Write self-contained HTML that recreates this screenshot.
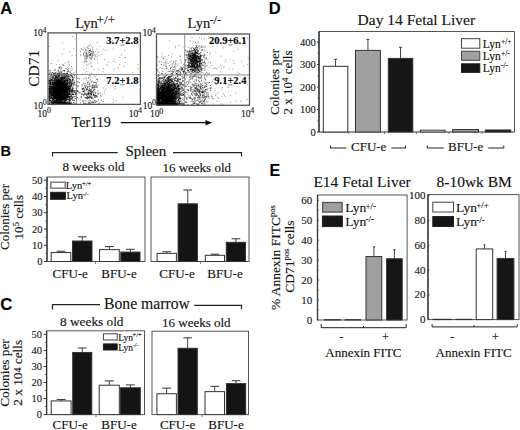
<!DOCTYPE html>
<html><head><meta charset="utf-8"><style>
html,body{margin:0;padding:0;background:#fff;width:520px;height:430px;overflow:hidden}
svg{display:block}
text{stroke:#222;stroke-width:0.15px}
</style></head><body>
<svg width="520" height="430" viewBox="0 0 520 430">
<rect width="520" height="430" fill="#fff"/>
<text x="0.3" y="13.6" font-size="16.5" text-anchor="start" font-weight="bold" font-family='"Liberation Sans", sans-serif' fill="#000" >A</text>
<text x="0.5" y="156.3" font-size="14.5" text-anchor="start" font-weight="bold" font-family='"Liberation Sans", sans-serif' fill="#000" >B</text>
<text x="0.2" y="310.2" font-size="16.8" text-anchor="start" font-weight="bold" font-family='"Liberation Sans", sans-serif' fill="#000" >C</text>
<text x="268.8" y="14.4" font-size="16.5" text-anchor="start" font-weight="bold" font-family='"Liberation Sans", sans-serif' fill="#000" >D</text>
<text x="269.4" y="176.3" font-size="16" text-anchor="start" font-weight="bold" font-family='"Liberation Sans", sans-serif' fill="#000" >E</text>
<path d="M60.0 93.1h1.0M61.8 95.5h1.0M58.4 94.5h1.0M54.7 82.6h1.0M57.3 98.5h1.0M54.1 85.1h1.0M60.4 82.5h1.0M68.0 86.4h1.0M57.0 90.2h1.0M56.3 96.4h1.0M62.9 95.7h1.0M62.1 90.8h1.0M60.6 98.0h1.0M54.4 91.6h1.0M59.8 97.7h1.0M64.2 80.5h1.0M51.9 79.2h1.0M57.3 96.8h1.0M48.6 80.6h1.0M52.3 88.7h1.0M48.9 90.3h1.0M58.6 87.3h1.0M52.4 87.6h1.0M61.6 101.4h1.0M60.9 72.0h1.0M58.9 97.6h1.0M48.8 102.9h1.0M56.8 91.2h1.0M59.7 90.9h1.0M60.7 96.4h1.0M50.8 102.8h1.0M57.1 82.1h1.0M54.1 91.7h1.0M55.1 89.6h1.0M66.4 95.2h1.0M55.2 92.2h1.0M59.8 95.9h1.0M65.3 87.8h1.0M56.5 91.4h1.0M59.3 86.0h1.0M60.7 86.0h1.0M60.4 89.9h1.0M52.6 89.9h1.0M60.5 82.2h1.0M68.2 102.8h1.0M50.7 90.0h1.0M65.2 80.6h1.0M60.7 99.3h1.0M56.2 85.4h1.0M72.0 94.8h1.0M64.6 90.9h1.0M52.8 92.9h1.0M60.4 92.3h1.0M63.5 86.7h1.0M58.9 91.3h1.0M64.1 103.4h1.0M59.6 74.2h1.0M64.0 91.5h1.0M68.6 94.3h1.0M55.9 83.1h1.0M61.2 80.7h1.0M57.2 102.5h1.0M60.8 88.2h1.0M52.9 103.1h1.0M56.5 95.0h1.0M58.8 91.6h1.0M65.4 94.6h1.0M66.9 95.8h1.0M52.1 99.8h1.0M55.2 94.3h1.0M63.9 92.1h1.0M49.3 92.3h1.0M57.2 101.1h1.0M59.4 97.1h1.0M67.5 83.5h1.0M64.1 86.2h1.0M58.0 93.5h1.0M57.8 86.3h1.0M58.5 88.2h1.0M69.1 83.8h1.0M57.4 89.0h1.0M58.2 94.2h1.0M62.1 98.5h1.0M59.3 91.1h1.0M58.8 103.3h1.0M53.3 90.4h1.0M59.9 103.3h1.0M57.3 98.5h1.0M67.0 94.7h1.0M63.9 87.3h1.0M59.9 69.8h1.0M64.0 89.8h1.0M58.0 92.3h1.0M66.3 103.4h1.0M60.0 80.7h1.0M63.5 102.7h1.0M52.3 89.1h1.0M62.1 96.4h1.0M49.9 72.0h1.0M49.2 92.0h1.0M58.2 88.4h1.0M54.6 96.1h1.0M61.0 91.7h1.0M73.5 82.4h1.0M55.0 98.1h1.0M56.3 96.2h1.0M61.2 95.5h1.0M63.0 98.6h1.0M58.9 99.3h1.0M58.8 90.8h1.0M64.2 80.8h1.0M63.1 80.6h1.0M53.8 101.1h1.0M59.5 96.3h1.0M60.2 91.8h1.0M53.7 87.7h1.0M61.6 91.2h1.0M54.9 91.2h1.0M65.8 88.5h1.0M61.2 85.8h1.0M60.5 103.6h1.0M56.5 92.7h1.0M59.3 86.5h1.0M49.2 81.2h1.0M53.2 85.6h1.0M62.2 96.4h1.0M49.9 96.7h1.0M65.1 89.4h1.0M49.5 91.4h1.0M64.5 88.7h1.0M54.9 82.7h1.0M64.7 100.8h1.0M60.8 93.8h1.0M50.8 102.9h1.0M67.5 85.3h1.0M68.7 90.0h1.0M59.6 97.6h1.0M58.4 89.2h1.0M59.0 80.6h1.0M54.1 83.9h1.0M66.6 91.8h1.0M56.7 93.6h1.0M59.7 90.3h1.0M55.2 98.5h1.0M56.2 98.4h1.0M52.3 93.4h1.0M67.5 91.2h1.0M59.1 89.1h1.0M65.8 95.1h1.0M60.1 97.9h1.0M55.8 91.5h1.0M58.0 94.4h1.0M56.6 88.6h1.0M60.0 80.4h1.0M57.7 83.5h1.0M58.2 96.7h1.0M51.7 94.4h1.0M55.2 102.9h1.0M69.9 91.4h1.0M56.0 97.5h1.0M53.7 100.9h1.0M62.0 98.5h1.0M68.4 86.4h1.0M51.3 89.6h1.0M58.7 92.0h1.0M56.2 83.6h1.0M49.4 94.6h1.0M64.4 98.7h1.0M59.9 87.4h1.0M60.4 103.7h1.0M55.5 88.8h1.0M62.7 89.5h1.0M56.8 89.2h1.0M59.1 85.7h1.0M53.4 94.1h1.0M52.7 91.2h1.0M68.0 103.5h1.0M57.0 95.6h1.0M61.8 95.0h1.0M59.8 89.3h1.0M57.4 80.4h1.0M57.0 90.3h1.0M63.8 84.6h1.0M58.2 98.1h1.0M59.1 90.8h1.0M60.1 103.5h1.0M67.1 96.5h1.0M64.1 97.3h1.0M62.3 92.7h1.0M56.6 92.6h1.0M51.7 95.9h1.0M65.7 97.9h1.0M65.8 85.7h1.0M59.2 94.7h1.0M63.3 103.3h1.0M64.7 90.3h1.0M65.0 89.1h1.0M65.5 85.8h1.0M57.3 80.1h1.0M69.1 99.9h1.0M52.5 91.5h1.0M65.2 93.2h1.0M63.0 103.2h1.0M65.2 103.9h1.0M71.3 84.3h1.0M68.9 98.9h1.0M53.1 95.7h1.0M49.9 94.0h1.0M64.9 94.6h1.0M53.9 90.8h1.0M59.9 102.9h1.0M65.0 95.6h1.0M50.1 93.6h1.0M49.9 100.4h1.0M61.6 97.7h1.0M60.3 94.5h1.0M58.5 93.5h1.0M60.2 102.5h1.0M54.8 94.8h1.0M50.9 90.3h1.0M59.0 84.6h1.0M54.2 88.4h1.0M50.1 83.1h1.0M63.0 91.8h1.0M59.6 92.9h1.0M62.4 75.6h1.0M54.1 91.2h1.0M56.1 95.9h1.0M54.0 92.3h1.0M54.7 83.9h1.0M61.2 100.5h1.0M55.3 85.8h1.0M62.1 81.8h1.0M62.0 82.9h1.0M72.2 90.9h1.0M51.6 98.4h1.0M65.3 99.8h1.0M59.5 92.6h1.0M59.9 82.1h1.0M51.3 86.1h1.0M57.2 84.3h1.0M64.5 89.7h1.0M59.5 77.7h1.0M60.5 91.8h1.0M58.3 95.8h1.0M66.9 89.9h1.0M59.9 94.5h1.0M48.7 84.0h1.0M55.8 80.1h1.0M49.3 86.2h1.0M49.0 99.7h1.0M56.8 98.7h1.0M68.0 87.6h1.0M60.3 100.0h1.0M53.0 88.6h1.0M54.4 102.3h1.0M66.8 94.6h1.0M60.9 87.6h1.0M60.3 97.0h1.0M59.7 85.2h1.0M60.2 84.0h1.0M64.8 80.1h1.0M63.3 92.9h1.0M61.3 90.6h1.0M53.7 90.4h1.0M63.1 87.9h1.0M55.9 101.8h1.0M66.6 87.8h1.0M52.4 85.6h1.0M59.2 100.3h1.0M60.0 101.7h1.0M52.1 93.5h1.0M70.3 77.9h1.0M68.8 86.5h1.0M57.2 95.6h1.0M64.6 91.1h1.0M62.3 102.7h1.0M48.8 80.7h1.0M61.5 96.1h1.0M59.6 86.3h1.0M60.5 100.9h1.0M53.5 90.4h1.0M58.4 98.7h1.0M58.9 86.1h1.0M67.1 80.4h1.0M62.0 82.7h1.0M60.0 86.4h1.0M69.2 83.3h1.0M56.7 100.0h1.0M57.7 101.0h1.0M49.1 93.0h1.0M69.4 83.2h1.0M65.8 90.1h1.0M65.5 85.9h1.0M64.0 101.9h1.0M60.7 93.4h1.0M61.3 94.7h1.0M58.5 88.0h1.0M58.8 75.9h1.0M60.3 85.2h1.0M69.1 82.6h1.0M63.3 93.8h1.0M59.6 91.7h1.0M56.5 85.0h1.0M56.2 88.1h1.0M69.6 102.7h1.0M63.0 83.8h1.0M60.4 84.1h1.0M57.9 89.3h1.0M53.3 85.8h1.0M59.6 87.8h1.0M65.2 95.0h1.0M57.6 103.5h1.0M58.6 77.7h1.0M58.7 90.9h1.0M60.7 91.3h1.0M50.4 90.4h1.0M58.6 89.6h1.0M54.9 88.4h1.0M65.3 98.5h1.0M55.4 87.5h1.0M63.5 90.0h1.0M69.1 91.0h1.0M58.1 91.8h1.0M56.4 89.7h1.0M61.1 98.5h1.0M60.0 90.9h1.0M54.0 92.3h1.0M62.8 90.6h1.0M72.1 83.5h1.0M58.5 84.8h1.0M58.8 83.1h1.0M53.7 92.4h1.0M61.9 85.6h1.0M52.5 83.0h1.0M53.4 92.8h1.0M67.7 94.9h1.0M54.6 77.8h1.0M66.5 103.7h1.0M69.1 91.2h1.0M61.6 90.2h1.0M63.3 99.0h1.0M71.7 91.5h1.0M58.8 86.5h1.0M56.4 103.8h1.0M51.9 82.9h1.0M60.3 90.3h1.0M68.9 97.4h1.0M65.8 83.0h1.0M54.3 90.2h1.0M54.9 93.9h1.0M57.0 102.9h1.0M61.8 84.3h1.0M58.8 90.6h1.0M61.3 95.9h1.0M61.8 91.6h1.0M58.2 82.0h1.0M59.8 94.1h1.0M61.2 91.8h1.0M59.5 94.3h1.0M63.0 99.5h1.0M71.2 98.6h1.0M63.6 94.1h1.0M60.3 93.3h1.0M49.9 82.8h1.0M62.3 90.0h1.0M49.0 92.7h1.0M51.5 88.0h1.0M65.1 91.7h1.0M64.2 84.8h1.0M59.1 102.5h1.0M49.7 102.9h1.0M57.8 88.1h1.0M55.9 94.0h1.0M63.8 89.2h1.0M73.5 100.5h1.0M61.3 94.3h1.0M55.3 91.6h1.0M53.0 89.3h1.0M59.7 91.9h1.0M58.9 83.5h1.0M53.1 96.1h1.0M60.7 85.6h1.0M53.1 95.0h1.0M66.7 92.0h1.0M66.4 99.2h1.0M66.5 90.9h1.0M57.2 98.7h1.0M63.1 84.1h1.0M59.2 95.6h1.0M57.7 89.3h1.0M58.0 92.5h1.0M52.2 91.5h1.0M51.3 98.0h1.0M64.8 75.9h1.0M58.9 93.4h1.0M61.3 79.8h1.0M66.0 100.1h1.0M49.6 76.2h1.0M55.3 83.5h1.0M61.1 78.4h1.0M62.4 103.3h1.0M57.7 81.3h1.0M66.2 91.9h1.0M61.3 87.0h1.0M52.7 77.5h1.0M54.4 88.5h1.0M64.8 96.0h1.0M62.8 89.6h1.0M48.6 98.1h1.0M68.1 88.3h1.0M63.6 91.1h1.0M68.1 88.1h1.0M57.7 93.6h1.0M58.2 102.7h1.0M53.2 93.7h1.0M75.2 92.5h1.0M58.9 86.4h1.0M69.5 85.3h1.0M56.1 102.0h1.0M61.0 82.7h1.0M50.0 84.2h1.0M57.7 90.3h1.0M65.9 87.8h1.0M52.5 103.0h1.0M66.4 73.3h1.0M62.0 93.7h1.0M53.7 96.3h1.0M57.0 82.6h1.0M57.2 86.2h1.0M59.7 94.2h1.0M56.8 103.2h1.0M55.0 84.1h1.0M58.2 79.2h1.0M53.8 98.3h1.0M52.3 102.4h1.0M59.7 88.5h1.0M65.3 74.4h1.0M50.8 101.9h1.0M60.0 89.5h1.0M56.1 99.4h1.0M54.1 90.7h1.0M65.1 88.2h1.0M56.9 87.6h1.0M69.0 102.1h1.0M55.3 101.8h1.0M62.3 75.0h1.0M58.6 84.0h1.0M55.5 103.4h1.0M63.5 88.2h1.0M59.1 80.8h1.0M63.6 91.0h1.0M59.7 90.2h1.0M53.5 90.3h1.0M59.4 87.4h1.0M60.3 88.7h1.0M65.8 87.6h1.0M54.6 93.5h1.0M59.8 84.9h1.0M49.7 88.8h1.0M63.9 89.9h1.0M53.5 100.8h1.0M49.2 93.8h1.0M59.6 90.2h1.0M66.6 95.0h1.0M50.9 94.0h1.0M53.5 99.2h1.0M55.5 94.8h1.0M53.2 103.7h1.0M62.3 101.1h1.0M55.2 90.7h1.0M55.7 87.9h1.0M63.5 97.6h1.0M55.5 94.9h1.0M62.6 90.3h1.0M54.2 79.9h1.0M52.7 77.3h1.0M49.0 93.6h1.0M71.2 96.8h1.0M58.1 97.0h1.0M61.5 81.3h1.0M59.8 98.8h1.0M61.0 87.0h1.0M60.3 93.9h1.0M71.4 94.1h1.0M53.8 85.0h1.0M50.7 86.6h1.0M53.9 75.5h1.0M52.0 84.1h1.0M64.5 77.5h1.0M64.9 94.3h1.0M54.2 91.5h1.0M51.7 97.9h1.0M57.9 93.7h1.0M68.3 86.2h1.0M49.5 93.6h1.0M63.2 88.1h1.0M53.5 95.6h1.0M66.2 93.4h1.0M53.5 83.6h1.0M58.3 91.0h1.0M51.0 91.4h1.0M54.1 88.7h1.0M68.3 97.7h1.0M64.9 103.8h1.0M57.6 88.2h1.0M54.8 88.4h1.0M48.6 74.1h1.0M57.6 90.0h1.0M59.8 87.7h1.0M59.5 74.8h1.0M59.4 93.2h1.0M53.3 95.4h1.0M59.6 85.5h1.0M59.8 88.2h1.0M67.7 83.8h1.0M71.2 96.7h1.0M59.2 79.6h1.0M55.4 88.7h1.0M59.6 102.9h1.0M56.4 91.4h1.0M55.5 94.5h1.0M59.6 89.9h1.0M53.7 82.2h1.0M63.6 90.8h1.0M59.4 94.0h1.0M61.5 83.3h1.0M58.9 93.6h1.0M55.6 100.3h1.0M54.3 99.0h1.0M58.6 79.1h1.0M56.7 83.7h1.0M61.4 78.9h1.0M60.0 99.0h1.0M51.8 95.6h1.0M60.4 96.3h1.0M51.9 84.4h1.0M56.3 82.3h1.0M58.2 91.6h1.0M49.7 91.8h1.0M60.5 84.6h1.0M60.9 92.1h1.0M59.1 95.8h1.0M57.5 92.7h1.0M57.8 83.2h1.0M54.1 75.2h1.0M58.4 89.1h1.0M56.7 92.2h1.0M60.6 89.0h1.0M52.8 87.8h1.0M61.4 85.8h1.0M60.9 96.4h1.0M59.2 90.6h1.0M57.4 91.9h1.0M63.3 83.7h1.0M50.0 86.3h1.0M62.8 92.2h1.0M61.5 83.5h1.0M61.7 81.6h1.0M62.3 88.5h1.0M56.1 100.0h1.0M58.4 92.4h1.0M63.8 101.9h1.0M62.6 90.0h1.0M61.2 88.7h1.0M50.9 80.6h1.0M63.2 86.7h1.0M67.0 101.8h1.0M66.1 93.5h1.0M61.4 96.5h1.0M50.7 96.3h1.0M65.7 90.9h1.0M59.1 89.5h1.0M48.7 91.9h1.0M62.3 96.0h1.0M51.0 94.4h1.0M52.2 94.7h1.0M56.2 92.2h1.0M67.6 85.2h1.0M57.8 89.0h1.0M61.6 83.9h1.0M70.5 98.5h1.0M69.6 75.2h1.0M59.4 89.4h1.0M58.6 103.8h1.0M52.4 88.4h1.0M55.8 82.5h1.0M62.6 90.9h1.0M62.4 100.7h1.0M60.7 89.8h1.0M66.0 95.6h1.0M55.4 91.7h1.0M59.7 88.2h1.0M64.4 102.6h1.0M63.5 91.5h1.0M66.4 87.0h1.0M62.4 87.3h1.0M58.1 93.9h1.0M62.2 94.1h1.0M54.0 96.8h1.0M50.2 92.1h1.0M63.5 80.3h1.0M59.7 95.0h1.0M61.9 88.7h1.0M49.8 88.9h1.0M57.8 79.9h1.0M56.4 86.7h1.0M54.8 85.5h1.0M49.4 90.7h1.0M58.0 80.1h1.0M65.4 91.4h1.0M62.3 91.9h1.0M56.4 82.6h1.0M59.9 86.3h1.0M64.5 84.6h1.0M48.6 97.8h1.0M59.3 72.0h1.0M63.3 88.4h1.0M64.1 78.5h1.0M70.2 87.8h1.0M66.8 97.4h1.0M61.9 86.3h1.0M61.8 92.0h1.0M64.7 84.7h1.0M56.8 102.8h1.0M59.8 97.8h1.0M65.4 99.5h1.0M71.7 81.0h1.0M59.0 82.7h1.0M59.7 99.1h1.0M61.2 89.5h1.0M68.1 89.1h1.0M59.8 93.5h1.0M68.8 81.6h1.0M54.2 96.8h1.0M58.9 91.1h1.0M58.8 94.6h1.0M64.7 86.0h1.0M66.3 94.8h1.0M50.9 85.7h1.0M54.5 98.2h1.0M62.0 99.5h1.0M56.0 97.8h1.0M50.9 94.9h1.0M66.2 95.8h1.0M63.0 70.7h1.0M63.0 97.3h1.0M57.1 88.9h1.0M66.2 91.7h1.0M58.6 88.9h1.0M66.6 80.6h1.0M54.5 87.0h1.0M54.9 95.9h1.0M61.2 101.6h1.0M55.8 86.3h1.0M64.1 84.2h1.0M61.6 101.9h1.0M54.5 84.4h1.0M60.4 103.8h1.0M57.9 91.4h1.0M65.5 84.4h1.0M56.2 98.4h1.0M57.4 103.7h1.0M67.3 80.2h1.0M73.4 102.7h1.0M72.0 88.9h1.0M60.4 102.1h1.0M61.3 88.1h1.0M69.2 79.2h1.0M59.3 94.8h1.0M54.1 97.9h1.0M60.7 103.0h1.0M62.7 103.1h1.0M55.0 96.2h1.0M50.1 89.2h1.0M51.4 87.1h1.0M64.0 88.8h1.0M55.4 84.8h1.0M59.2 88.9h1.0M61.3 71.9h1.0M63.7 92.3h1.0M58.0 90.8h1.0M63.0 102.8h1.0M54.7 96.7h1.0M57.8 87.4h1.0M53.9 95.2h1.0M66.8 81.8h1.0M59.8 86.5h1.0M55.6 77.0h1.0M57.9 101.8h1.0M58.7 95.5h1.0M64.2 82.2h1.0M50.4 90.5h1.0M53.8 98.1h1.0M57.7 94.7h1.0M75.2 93.9h1.0M65.7 84.6h1.0M59.3 86.2h1.0M64.3 91.7h1.0M72.3 97.9h1.0M58.6 84.8h1.0M57.8 82.6h1.0M67.3 99.6h1.0M63.0 84.0h1.0M64.0 99.1h1.0M57.0 92.8h1.0M71.5 97.6h1.0M70.3 103.8h1.0M63.4 96.2h1.0M64.1 96.8h1.0M49.9 84.1h1.0M63.8 85.8h1.0M58.8 95.8h1.0M62.6 102.5h1.0M64.1 101.4h1.0M58.0 102.5h1.0M49.9 93.3h1.0M62.2 92.5h1.0M55.6 98.5h1.0M58.0 91.1h1.0M56.4 90.5h1.0M58.0 83.1h1.0M50.0 98.4h1.0M67.3 83.0h1.0M61.5 94.8h1.0M66.7 80.4h1.0M71.9 99.2h1.0M60.1 83.3h1.0M49.2 97.3h1.0M54.6 79.1h1.0M52.8 87.7h1.0M57.0 99.8h1.0M60.5 85.0h1.0M49.6 91.5h1.0M62.1 87.4h1.0M50.9 73.7h1.0M61.8 93.3h1.0M59.3 94.2h1.0M58.1 82.7h1.0M59.6 95.3h1.0M56.8 85.0h1.0M56.3 83.5h1.0M49.9 91.1h1.0M59.8 85.9h1.0M71.1 103.4h1.0M71.9 79.3h1.0M67.9 96.5h1.0M64.2 98.4h1.0M55.9 76.2h1.0M68.7 78.0h1.0M59.7 95.2h1.0M59.6 87.4h1.0M58.3 93.9h1.0M60.6 99.5h1.0M57.4 88.2h1.0M59.5 83.0h1.0M53.5 70.5h1.0M57.8 92.5h1.0M73.7 84.0h1.0M59.6 93.4h1.0M58.6 92.7h1.0M63.2 80.6h1.0M64.2 102.4h1.0M53.3 99.1h1.0M58.8 97.4h1.0M65.5 82.1h1.0M61.6 87.9h1.0M60.7 86.9h1.0M69.3 87.9h1.0M55.9 82.6h1.0M60.5 94.3h1.0M56.9 92.7h1.0M68.9 93.7h1.0M49.4 87.2h1.0M56.0 100.7h1.0M56.8 92.4h1.0M64.0 70.5h1.0M63.6 86.2h1.0M68.4 90.6h1.0M50.6 98.2h1.0M64.5 88.7h1.0M58.2 89.1h1.0M56.0 86.0h1.0M63.2 96.0h1.0M54.5 87.6h1.0M49.6 86.5h1.0M57.8 85.4h1.0M51.0 95.2h1.0M56.1 87.0h1.0M62.2 78.4h1.0M61.9 95.7h1.0M69.5 85.7h1.0M58.8 93.7h1.0M50.8 93.8h1.0M55.5 100.0h1.0M54.5 98.8h1.0M52.7 86.7h1.0M62.6 89.8h1.0M56.1 81.3h1.0M49.5 103.6h1.0M64.2 94.3h1.0M59.3 101.5h1.0M62.1 88.6h1.0M60.6 75.6h1.0M63.8 102.5h1.0M60.2 91.7h1.0M67.4 92.0h1.0M62.5 91.4h1.0M62.4 95.8h1.0M62.5 95.0h1.0M51.3 79.1h1.0M59.0 99.2h1.0M58.4 87.0h1.0M61.2 87.5h1.0M51.8 103.6h1.0M69.8 97.9h1.0M60.6 88.5h1.0M52.7 77.1h1.0M49.7 92.2h1.0M58.3 95.0h1.0M59.5 90.4h1.0M55.7 81.7h1.0M60.6 85.1h1.0M56.2 81.6h1.0M63.3 92.6h1.0M55.7 97.1h1.0M59.8 98.7h1.0M65.9 85.5h1.0M75.4 92.8h1.0M54.0 95.2h1.0M57.2 87.2h1.0M55.0 89.9h1.0M64.7 102.6h1.0M53.1 92.5h1.0M57.1 97.6h1.0M59.8 87.7h1.0M54.1 91.3h1.0M54.3 78.1h1.0M57.1 90.8h1.0M49.5 99.9h1.0M51.3 103.6h1.0M57.5 100.0h1.0M60.9 96.2h1.0M58.9 91.4h1.0M49.4 86.5h1.0M57.2 89.8h1.0M64.8 95.6h1.0M63.3 85.1h1.0M59.5 98.0h1.0M54.7 83.6h1.0M63.8 77.7h1.0M56.5 83.4h1.0M53.0 78.5h1.0M55.2 80.7h1.0M68.7 99.5h1.0M61.3 89.5h1.0M67.0 92.6h1.0M57.1 99.7h1.0M65.6 100.4h1.0M56.4 87.2h1.0M59.1 101.0h1.0M74.9 93.9h1.0M64.6 91.0h1.0M57.0 94.3h1.0M59.5 80.3h1.0M62.0 85.1h1.0M67.3 90.2h1.0M57.1 95.6h1.0M49.6 88.2h1.0M58.3 90.0h1.0M60.1 98.3h1.0M60.7 101.6h1.0M67.9 96.8h1.0M61.9 100.5h1.0M64.9 88.0h1.0M53.4 88.7h1.0M65.2 93.4h1.0M72.6 88.7h1.0M64.6 87.2h1.0M61.5 103.4h1.0M60.9 89.5h1.0M70.7 83.8h1.0M54.4 94.7h1.0M59.3 103.3h1.0M62.8 91.6h1.0M64.5 100.2h1.0M57.4 87.7h1.0M61.8 87.3h1.0M58.3 85.8h1.0M60.7 89.9h1.0M59.2 103.7h1.0M53.2 82.3h1.0M59.9 103.3h1.0M65.3 83.4h1.0M54.2 89.2h1.0M58.6 97.3h1.0M64.0 95.7h1.0M53.6 93.1h1.0M61.1 78.6h1.0M53.6 93.7h1.0M66.8 83.3h1.0M73.9 103.3h1.0M72.1 89.4h1.0M58.7 92.4h1.0M64.4 82.4h1.0M60.7 87.4h1.0M60.6 81.3h1.0M69.3 98.4h1.0M52.1 89.0h1.0M66.3 95.2h1.0M59.7 85.9h1.0M68.5 87.2h1.0M61.1 100.7h1.0M56.0 83.7h1.0M61.7 77.5h1.0M64.4 94.0h1.0M60.2 82.4h1.0M62.9 87.7h1.0M56.9 97.8h1.0M50.0 84.9h1.0M65.4 97.6h1.0M64.2 85.9h1.0M60.9 102.2h1.0M60.4 100.9h1.0M66.2 87.5h1.0M57.3 89.4h1.0M55.8 84.8h1.0M58.9 92.5h1.0M67.1 99.6h1.0M51.7 80.1h1.0M67.2 97.9h1.0M56.2 81.1h1.0M53.4 84.6h1.0M67.6 77.6h1.0M59.4 103.3h1.0M52.2 91.4h1.0M57.8 92.8h1.0M65.6 85.9h1.0M67.2 99.0h1.0M57.4 75.2h1.0M62.4 91.2h1.0M64.3 103.3h1.0M56.1 88.1h1.0M62.1 91.1h1.0M59.8 96.0h1.0M56.8 84.9h1.0M57.0 91.2h1.0M60.4 98.2h1.0M60.2 92.5h1.0M56.6 93.8h1.0M57.4 88.4h1.0M66.7 93.4h1.0M61.3 91.4h1.0M65.3 101.9h1.0M67.2 96.4h1.0M63.5 89.2h1.0M73.6 72.6h1.0M55.0 96.4h1.0M64.9 96.7h1.0M58.1 84.1h1.0M71.1 76.0h1.0M70.2 82.4h1.0M49.7 97.9h1.0M54.2 83.0h1.0M64.0 87.6h1.0M64.7 92.7h1.0M64.4 100.2h1.0M59.6 90.9h1.0M62.7 90.2h1.0M63.9 86.9h1.0M59.5 103.2h1.0M66.2 99.0h1.0M48.6 90.3h1.0M63.8 80.5h1.0M53.8 85.1h1.0M65.8 95.3h1.0M58.6 85.6h1.0M54.7 97.7h1.0M62.2 93.7h1.0M54.5 93.2h1.0M54.5 95.9h1.0M50.6 94.7h1.0M59.8 84.6h1.0M63.0 88.6h1.0M66.1 103.7h1.0M59.1 81.9h1.0M66.3 87.4h1.0M60.1 99.0h1.0M59.4 89.8h1.0M63.4 84.9h1.0M66.4 81.1h1.0M58.0 95.0h1.0M58.5 98.6h1.0M59.0 101.5h1.0M60.5 91.4h1.0M54.6 98.8h1.0M66.2 83.3h1.0M57.6 92.3h1.0M62.8 85.9h1.0M55.0 92.3h1.0M62.2 96.6h1.0M62.3 99.0h1.0M57.5 83.6h1.0M72.1 100.5h1.0M62.2 87.4h1.0M70.7 83.3h1.0M65.8 89.7h1.0M56.0 80.0h1.0M57.7 91.0h1.0M62.6 93.2h1.0M60.4 89.5h1.0M60.3 95.0h1.0M58.3 88.6h1.0M49.1 91.0h1.0M58.6 80.2h1.0M49.6 91.3h1.0M62.2 84.6h1.0M55.6 87.6h1.0M55.7 90.3h1.0M58.7 92.4h1.0M61.6 78.7h1.0M51.4 79.3h1.0M49.5 88.7h1.0M53.6 94.6h1.0M48.7 93.7h1.0M54.2 97.7h1.0M69.5 100.8h1.0M53.7 94.7h1.0M63.9 90.9h1.0M51.8 83.3h1.0M61.8 83.9h1.0M58.1 87.5h1.0M59.6 93.0h1.0M63.4 92.7h1.0M70.5 91.0h1.0M61.2 89.9h1.0M60.7 95.7h1.0M54.2 92.6h1.0M63.5 93.2h1.0M58.5 93.3h1.0M65.0 86.9h1.0M59.7 83.3h1.0M70.4 94.7h1.0M49.4 94.1h1.0M58.2 89.3h1.0M65.3 87.9h1.0M57.9 102.7h1.0M55.2 85.3h1.0M58.4 89.4h1.0M51.7 93.0h1.0M60.7 82.3h1.0M74.6 91.9h1.0M66.9 103.1h1.0M53.3 98.0h1.0M54.8 95.7h1.0M57.6 95.4h1.0M66.0 91.8h1.0M55.1 98.2h1.0M55.9 89.8h1.0M65.3 87.8h1.0M65.2 91.8h1.0M57.8 97.8h1.0M53.3 93.5h1.0M50.7 96.1h1.0M55.8 75.8h1.0M48.6 99.9h1.0M64.5 103.6h1.0M56.2 101.0h1.0M62.9 88.6h1.0M71.2 84.6h1.0M67.0 93.1h1.0M53.1 83.6h1.0M65.2 96.4h1.0M66.9 87.1h1.0M55.5 98.2h1.0M54.3 101.2h1.0M59.3 75.8h1.0M50.4 93.2h1.0M68.8 85.8h1.0M49.3 80.4h1.0M53.4 86.4h1.0M58.4 89.4h1.0M58.6 98.8h1.0M61.0 79.6h1.0M61.6 98.9h1.0M58.7 102.5h1.0M66.8 95.5h1.0M49.5 95.1h1.0M60.0 90.9h1.0M55.7 82.2h1.0M60.8 95.0h1.0M61.3 93.9h1.0M54.5 96.5h1.0M56.2 102.9h1.0M64.8 96.5h1.0M62.1 94.2h1.0M55.9 102.7h1.0M72.2 80.9h1.0M73.9 82.4h1.0M51.2 88.2h1.0M61.8 86.1h1.0M75.1 96.2h1.0M64.7 88.6h1.0M61.3 103.0h1.0M58.8 102.4h1.0M56.8 96.8h1.0M58.7 88.1h1.0M56.7 95.6h1.0M64.5 97.1h1.0M57.6 83.0h1.0M57.4 93.6h1.0M52.8 96.3h1.0M59.7 92.6h1.0M54.6 102.8h1.0M58.9 100.1h1.0M66.3 84.8h1.0M62.2 91.9h1.0M63.0 84.7h1.0M62.1 95.3h1.0M60.4 84.5h1.0M59.2 97.9h1.0M58.2 93.9h1.0M64.6 98.3h1.0M53.5 89.9h1.0M68.0 80.1h1.0M60.2 103.4h1.0M55.5 89.7h1.0M57.1 101.3h1.0M55.9 94.2h1.0M61.0 96.1h1.0M55.7 103.0h1.0M66.9 93.6h1.0M55.3 101.5h1.0M48.5 79.9h1.0M55.6 97.5h1.0M49.1 89.2h1.0M59.8 90.0h1.0M66.4 91.1h1.0M63.9 93.6h1.0M52.0 103.4h1.0M55.4 77.1h1.0M70.7 91.3h1.0M61.9 85.6h1.0M60.0 99.7h1.0M66.3 87.8h1.0M74.7 94.4h1.0M67.8 88.0h1.0M60.8 96.0h1.0M62.1 98.6h1.0M63.7 88.0h1.0M56.3 91.4h1.0M53.6 80.3h1.0M60.3 93.3h1.0M54.3 97.4h1.0M59.6 86.8h1.0M60.6 99.4h1.0M74.0 75.5h1.0M54.9 77.1h1.0M59.3 80.6h1.0M59.0 87.4h1.0M62.6 91.1h1.0M66.3 90.4h1.0M57.1 90.5h1.0M55.1 96.4h1.0M50.2 87.5h1.0M54.4 81.5h1.0M63.2 81.7h1.0M60.3 102.7h1.0M53.9 73.4h1.0M57.8 89.7h1.0M60.2 101.9h1.0M63.0 94.6h1.0M56.4 84.8h1.0M58.5 91.0h1.0M49.1 97.5h1.0M53.1 100.1h1.0M69.7 84.3h1.0M48.8 96.7h1.0M58.0 92.9h1.0M61.3 99.3h1.0M57.8 101.4h1.0M55.2 88.4h1.0M59.6 80.1h1.0M60.0 94.0h1.0M59.5 102.9h1.0M48.7 96.1h1.0M59.1 92.7h1.0M54.9 102.8h1.0M56.7 83.2h1.0M61.4 97.8h1.0M63.8 86.7h1.0M65.4 91.4h1.0M57.0 91.7h1.0M65.5 102.4h1.0M67.0 84.0h1.0M66.8 87.0h1.0M68.3 79.1h1.0M59.1 94.7h1.0M59.0 87.6h1.0M65.0 94.2h1.0M51.8 83.0h1.0M61.3 88.3h1.0M56.8 98.8h1.0M57.8 89.7h1.0M49.6 95.7h1.0M54.7 95.0h1.0M59.9 88.4h1.0M65.3 79.3h1.0M65.9 98.4h1.0M59.5 92.3h1.0M58.9 98.4h1.0M55.0 75.9h1.0M62.4 78.6h1.0M58.5 74.9h1.0M63.6 84.4h1.0M70.5 98.8h1.0M59.8 95.2h1.0M51.0 90.7h1.0M54.8 92.0h1.0M51.3 96.7h1.0M52.8 88.7h1.0M67.8 94.0h1.0M61.4 92.0h1.0M50.9 74.6h1.0M63.9 88.1h1.0M67.6 101.2h1.0M57.8 88.0h1.0M55.9 89.9h1.0M58.0 86.4h1.0M61.7 87.4h1.0M63.8 99.4h1.0M67.1 89.0h1.0M67.3 83.3h1.0M67.1 67.7h1.0M68.2 86.7h1.0M64.0 76.2h1.0M50.8 77.3h1.0M59.2 97.0h1.0M61.9 96.3h1.0M57.7 76.6h1.0M65.5 97.4h1.0M57.8 94.4h1.0M54.4 85.1h1.0M68.7 96.5h1.0M64.0 78.8h1.0M61.3 82.0h1.0M65.6 80.2h1.0M66.4 82.7h1.0M62.0 97.6h1.0M48.7 81.0h1.0M55.9 82.4h1.0M57.3 83.9h1.0M54.1 92.5h1.0M61.2 88.5h1.0M67.2 97.5h1.0M57.1 85.7h1.0M53.2 81.3h1.0M72.2 87.2h1.0M57.3 91.3h1.0M52.6 84.0h1.0M61.4 93.1h1.0M62.6 102.6h1.0M55.8 86.6h1.0M64.7 91.3h1.0M57.1 101.1h1.0M54.5 86.1h1.0M61.1 84.6h1.0M64.6 82.7h1.0M56.2 93.9h1.0M62.0 94.8h1.0M59.4 89.8h1.0M76.9 91.2h1.0M55.7 100.4h1.0M68.3 97.4h1.0M59.7 80.3h1.0M59.2 90.8h1.0M64.3 91.6h1.0M65.4 96.2h1.0M67.6 89.2h1.0M62.0 86.0h1.0M56.4 87.4h1.0M56.8 77.5h1.0M63.1 90.6h1.0M63.5 86.3h1.0M68.4 94.3h1.0M62.5 83.1h1.0M66.4 87.5h1.0M69.1 83.4h1.0M61.0 82.8h1.0M51.1 96.0h1.0M52.9 87.3h1.0M51.4 94.1h1.0M69.5 82.3h1.0M54.9 91.5h1.0M67.4 78.1h1.0M63.5 87.1h1.0M70.3 86.9h1.0M66.0 95.1h1.0M59.4 92.1h1.0M58.8 89.4h1.0M60.5 97.0h1.0M61.1 92.1h1.0M56.8 94.7h1.0M59.8 96.4h1.0M69.7 90.2h1.0M49.8 88.5h1.0M61.6 93.1h1.0M54.6 87.5h1.0M61.1 93.6h1.0M65.0 99.0h1.0M59.7 97.1h1.0M64.6 87.8h1.0M50.5 81.0h1.0M66.6 90.2h1.0M56.4 89.7h1.0M63.7 98.9h1.0M61.1 87.8h1.0M48.9 89.1h1.0M55.5 96.2h1.0M61.3 87.1h1.0M69.3 89.5h1.0M61.7 103.5h1.0M61.5 101.8h1.0M51.5 95.4h1.0M68.6 92.7h1.0M70.8 83.4h1.0M60.2 94.8h1.0M58.7 91.1h1.0M50.3 92.3h1.0M65.3 86.8h1.0M76.2 90.6h1.0M64.3 89.3h1.0M67.6 93.0h1.0M63.3 101.3h1.0M54.1 93.4h1.0M68.0 78.2h1.0M52.6 83.4h1.0M58.7 78.8h1.0M61.7 84.7h1.0M65.3 94.8h1.0M62.5 93.6h1.0M62.3 86.2h1.0M55.4 92.6h1.0M52.3 85.0h1.0M60.4 80.0h1.0M55.7 80.1h1.0M52.2 84.2h1.0M52.4 101.3h1.0M57.1 80.6h1.0M48.9 99.9h1.0M51.9 100.6h1.0M50.2 89.3h1.0M61.1 90.3h1.0M62.4 86.0h1.0M72.0 90.4h1.0M51.0 95.6h1.0M55.9 90.7h1.0M65.5 98.1h1.0M58.7 99.5h1.0M58.0 93.2h1.0M70.3 93.1h1.0M58.0 90.2h1.0M53.1 93.2h1.0M52.1 82.3h1.0M62.0 93.6h1.0M61.8 92.2h1.0M51.8 84.2h1.0M54.1 102.5h1.0M63.2 83.3h1.0M63.5 84.1h1.0M56.1 92.7h1.0M63.7 76.1h1.0M63.4 84.7h1.0M49.3 79.2h1.0M58.1 83.4h1.0M62.5 89.6h1.0M56.6 93.0h1.0M49.0 98.9h1.0M58.3 96.6h1.0M64.5 99.5h1.0M69.5 95.0h1.0M49.4 87.1h1.0M75.7 98.9h1.0M53.2 86.9h1.0M65.7 86.0h1.0M67.4 102.0h1.0M65.9 96.5h1.0M60.9 92.2h1.0M53.0 96.2h1.0M63.8 97.2h1.0M55.7 80.4h1.0M49.9 89.9h1.0M77.0 81.8h1.0M64.2 91.5h1.0M70.9 85.6h1.0M54.5 100.8h1.0M68.8 94.5h1.0M69.5 84.5h1.0M69.3 90.4h1.0M59.9 81.5h1.0M52.8 90.9h1.0M58.9 94.7h1.0M49.7 92.6h1.0M49.8 76.1h1.0M60.6 88.1h1.0M54.1 94.4h1.0M59.0 92.9h1.0M59.3 99.3h1.0M71.6 80.9h1.0M67.8 94.5h1.0M59.7 85.7h1.0M67.3 92.0h1.0M55.3 93.6h1.0M58.0 95.7h1.0M65.5 86.2h1.0M52.6 92.0h1.0M58.3 81.8h1.0M52.1 80.0h1.0M60.7 94.7h1.0M69.8 90.2h1.0M55.5 78.4h1.0M61.4 84.2h1.0M54.6 90.7h1.0M53.1 102.2h1.0M52.6 98.4h1.0M68.7 96.6h1.0M74.2 77.2h1.0M62.9 89.8h1.0M55.7 94.1h1.0M64.2 93.5h1.0M58.0 93.7h1.0M64.8 88.8h1.0M61.7 103.7h1.0M61.7 101.6h1.0M63.6 89.9h1.0M56.5 83.2h1.0M57.6 103.2h1.0M49.7 86.4h1.0M57.3 99.5h1.0M51.5 103.6h1.0M59.1 83.5h1.0M54.3 92.7h1.0M60.6 88.0h1.0M62.7 94.4h1.0M51.5 93.0h1.0M55.1 103.0h1.0M54.3 95.0h1.0M64.5 90.5h1.0M70.2 99.0h1.0M65.1 88.5h1.0M57.9 87.8h1.0M68.8 103.0h1.0M50.9 84.4h1.0M69.0 86.9h1.0M56.1 90.9h1.0M48.6 82.6h1.0M75.9 74.7h1.0M69.5 98.5h1.0M53.8 84.7h1.0M61.0 86.5h1.0M58.7 87.8h1.0M60.6 83.2h1.0M51.1 82.5h1.0M55.9 91.8h1.0M62.8 103.3h1.0M61.3 96.1h1.0M67.2 96.2h1.0M60.5 79.3h1.0M74.1 90.4h1.0M55.7 81.7h1.0M61.6 96.3h1.0M48.5 88.8h1.0M52.5 90.8h1.0M68.0 89.9h1.0M54.3 86.2h1.0M63.2 79.1h1.0M59.6 94.9h1.0M53.7 80.2h1.0M57.9 81.7h1.0M56.9 88.3h1.0M57.1 85.3h1.0M64.5 92.5h1.0M63.9 98.1h1.0M56.5 92.4h1.0M54.6 92.0h1.0M61.7 90.7h1.0M59.4 97.0h1.0M66.2 76.7h1.0M75.9 93.3h1.0M65.1 83.6h1.0M59.8 81.3h1.0M59.0 90.6h1.0M54.9 87.7h1.0M54.6 94.9h1.0M54.0 98.8h1.0M57.6 73.1h1.0M57.4 90.0h1.0M64.5 102.5h1.0M57.6 97.1h1.0M58.8 101.4h1.0M52.7 91.3h1.0M69.9 79.8h1.0M63.0 82.1h1.0M70.7 95.9h1.0M64.8 97.7h1.0M68.9 85.1h1.0M58.5 88.5h1.0M64.3 92.5h1.0M76.2 77.4h1.0M52.7 87.9h1.0M67.1 102.7h1.0M70.2 103.1h1.0M62.5 89.7h1.0M64.6 103.6h1.0M67.7 86.6h1.0M56.0 84.5h1.0M62.5 73.8h1.0M54.7 97.7h1.0M55.9 87.8h1.0M56.2 102.9h1.0M59.1 93.0h1.0M60.9 92.0h1.0M62.8 77.0h1.0M51.3 101.8h1.0M72.2 87.8h1.0M67.1 89.4h1.0M64.5 74.0h1.0M57.8 97.5h1.0M59.5 98.0h1.0M63.4 86.0h1.0M62.5 91.3h1.0M49.7 93.5h1.0M64.6 97.8h1.0M77.9 91.4h1.0M48.6 103.5h1.0M66.1 88.8h1.0M62.3 86.0h1.0M59.3 87.1h1.0M68.4 71.5h1.0M52.7 84.5h1.0M61.0 98.1h1.0M69.0 92.6h1.0M58.8 84.4h1.0M57.4 93.2h1.0M60.7 75.4h1.0M57.3 88.4h1.0M69.5 94.5h1.0M54.4 95.8h1.0M65.4 84.8h1.0M52.3 97.4h1.0M64.1 103.2h1.0M59.4 87.4h1.0M49.9 96.2h1.0M60.0 78.9h1.0M53.4 75.9h1.0M57.3 95.2h1.0M69.5 90.9h1.0M53.1 92.1h1.0M53.5 86.2h1.0M68.9 88.4h1.0M60.7 96.7h1.0M69.5 103.5h1.0M62.0 89.0h1.0M54.6 78.2h1.0M59.6 100.2h1.0M67.6 95.1h1.0M65.8 95.7h1.0M60.0 92.0h1.0M60.3 103.2h1.0M59.3 91.2h1.0M56.4 94.5h1.0M71.9 76.7h1.0M60.0 86.3h1.0M53.0 85.5h1.0M57.1 90.4h1.0M64.5 93.2h1.0M64.0 85.0h1.0M59.2 103.6h1.0M55.9 82.6h1.0M60.1 87.2h1.0M49.7 92.4h1.0M52.0 81.2h1.0M64.9 94.9h1.0M57.0 95.4h1.0M62.3 88.4h1.0M67.5 103.9h1.0M64.0 91.2h1.0M60.1 92.7h1.0M73.1 83.4h1.0M64.1 78.1h1.0M57.8 85.9h1.0M64.5 88.2h1.0M62.5 87.2h1.0M54.7 96.4h1.0M60.5 72.7h1.0M59.0 82.1h1.0M48.7 76.9h1.0M58.9 100.7h1.0M58.3 86.4h1.0M57.3 86.8h1.0M49.9 82.3h1.0M57.8 97.4h1.0M59.8 87.5h1.0M60.6 92.3h1.0M53.0 75.3h1.0M63.9 99.4h1.0M52.5 93.6h1.0M58.6 94.8h1.0M68.0 99.9h1.0M55.7 89.2h1.0M56.8 89.4h1.0M66.6 96.0h1.0M57.6 93.8h1.0M58.2 88.8h1.0M61.4 91.0h1.0M66.5 86.8h1.0M48.8 96.0h1.0M54.9 97.6h1.0M53.8 90.7h1.0M53.3 102.5h1.0M54.7 79.1h1.0M54.8 88.9h1.0M61.9 103.5h1.0M54.5 87.5h1.0M60.8 78.6h1.0M62.5 101.1h1.0M55.5 94.7h1.0M60.8 81.7h1.0M70.1 96.5h1.0M62.0 83.0h1.0M56.1 80.6h1.0M59.6 89.5h1.0M54.4 87.0h1.0M61.7 82.4h1.0M65.3 87.9h1.0M55.0 83.1h1.0M58.7 91.1h1.0M66.8 90.5h1.0M56.9 96.2h1.0M61.2 87.2h1.0M53.7 80.6h1.0M55.0 80.7h1.0M56.9 88.8h1.0M73.1 102.2h1.0M57.5 97.0h1.0M56.8 85.8h1.0M56.6 97.7h1.0M59.0 81.9h1.0M63.9 98.3h1.0M61.1 87.8h1.0M72.3 96.4h1.0M61.3 95.3h1.0M68.7 88.6h1.0M61.7 93.1h1.0M63.6 82.6h1.0M51.3 90.1h1.0M59.2 98.8h1.0M59.6 103.4h1.0M58.5 95.9h1.0M49.0 91.3h1.0M65.3 83.0h1.0M57.7 98.6h1.0M57.4 78.2h1.0M58.5 84.6h1.0M58.6 93.3h1.0M62.4 81.6h1.0M52.4 102.2h1.0M54.4 98.9h1.0M61.7 86.4h1.0M60.9 86.5h1.0M57.7 80.7h1.0M56.6 80.1h1.0M55.0 94.0h1.0M59.6 95.3h1.0M67.1 93.3h1.0M53.7 92.7h1.0M69.1 86.4h1.0M65.1 93.4h1.0M57.3 79.6h1.0M64.7 90.7h1.0M51.2 101.7h1.0M49.6 100.6h1.0M52.3 87.2h1.0M57.5 88.1h1.0M58.0 101.0h1.0M56.9 102.4h1.0M60.6 79.4h1.0M48.8 87.4h1.0M63.0 92.4h1.0M51.5 99.8h1.0M56.0 84.3h1.0M57.5 95.5h1.0M53.1 88.4h1.0M51.8 103.0h1.0M54.0 93.9h1.0M59.9 89.6h1.0M63.5 88.1h1.0M63.4 98.6h1.0M54.0 95.8h1.0M55.3 82.5h1.0M54.5 92.3h1.0M62.7 80.6h1.0M49.9 85.0h1.0M67.4 80.9h1.0M57.1 80.7h1.0M55.3 85.5h1.0M62.0 83.3h1.0M66.2 94.6h1.0M62.1 96.7h1.0M66.3 88.9h1.0M60.8 82.2h1.0M67.4 96.7h1.0M67.5 75.4h1.0M59.4 76.1h1.0M68.6 96.1h1.0M61.0 95.6h1.0M60.5 98.0h1.0M54.5 89.0h1.0M58.3 81.2h1.0M64.7 86.8h1.0M52.1 94.9h1.0M63.9 84.9h1.0M62.1 85.4h1.0M61.7 80.2h1.0M49.9 81.9h1.0M59.4 97.0h1.0M63.9 94.1h1.0M55.4 81.9h1.0M60.5 82.5h1.0M48.7 86.4h1.0M64.0 94.8h1.0M56.0 81.9h1.0M65.2 89.4h1.0M48.9 74.5h1.0M64.2 81.2h1.0M58.6 93.8h1.0M64.8 97.4h1.0M54.4 82.0h1.0M56.3 84.8h1.0M73.5 96.7h1.0M55.0 87.7h1.0M55.8 86.6h1.0M58.3 94.6h1.0M53.9 92.1h1.0M67.1 99.0h1.0M70.4 96.6h1.0M55.8 86.3h1.0M49.6 89.8h1.0M67.0 90.2h1.0M66.7 80.5h1.0M64.9 83.3h1.0M66.9 98.0h1.0M54.8 78.7h1.0M59.0 98.2h1.0M51.7 92.8h1.0M51.5 89.6h1.0M65.9 94.7h1.0M56.0 94.3h1.0M73.7 99.8h1.0M60.4 87.7h1.0M56.2 89.0h1.0M64.8 88.8h1.0M70.8 103.2h1.0M62.9 97.8h1.0M52.7 83.7h1.0M62.2 88.2h1.0M68.3 85.4h1.0M57.0 90.8h1.0M55.4 92.3h1.0M66.1 103.5h1.0M60.8 77.0h1.0M53.4 98.4h1.0M57.7 94.0h1.0M55.5 85.4h1.0M61.8 89.6h1.0M60.7 87.0h1.0M66.9 91.1h1.0M64.3 98.3h1.0M50.6 79.3h1.0M62.4 100.6h1.0M65.4 87.9h1.0M62.7 102.0h1.0M66.2 93.8h1.0M56.7 100.0h1.0M54.3 95.0h1.0M65.6 98.9h1.0M53.6 91.1h1.0M49.5 84.5h1.0M66.2 95.8h1.0M55.7 96.1h1.0M58.2 103.5h1.0M51.6 75.7h1.0M52.0 89.2h1.0M53.1 98.7h1.0M57.8 81.3h1.0M62.2 89.0h1.0M48.8 103.5h1.0M64.5 101.4h1.0M52.9 84.1h1.0M53.6 101.5h1.0M64.1 99.7h1.0M59.6 96.6h1.0M50.8 93.6h1.0M71.1 92.5h1.0M54.8 84.2h1.0M61.5 86.9h1.0M61.2 96.3h1.0M68.5 91.8h1.0M57.3 103.7h1.0M66.0 88.3h1.0M55.5 72.7h1.0M66.7 88.3h1.0M55.4 92.9h1.0M57.8 93.7h1.0M71.4 91.3h1.0M61.9 84.6h1.0M60.7 102.0h1.0M73.5 85.8h1.0M62.2 96.1h1.0M55.1 88.6h1.0M64.4 81.8h1.0M52.9 101.4h1.0M66.8 71.9h1.0M67.2 84.4h1.0M56.6 94.0h1.0M56.2 88.1h1.0M61.1 96.4h1.0M60.1 90.1h1.0M54.1 87.4h1.0M63.4 102.8h1.0M48.9 89.2h1.0M57.4 89.6h1.0M57.6 82.7h1.0M58.4 85.2h1.0M61.8 95.7h1.0M52.6 95.1h1.0M63.5 90.8h1.0M58.9 85.6h1.0M56.1 96.0h1.0M51.8 78.1h1.0M52.9 88.3h1.0M62.2 89.0h1.0M54.2 84.5h1.0M60.4 92.0h1.0M66.4 85.8h1.0M66.2 84.8h1.0M69.4 103.3h1.0M58.2 96.4h1.0M53.5 99.9h1.0M66.1 91.3h1.0M61.9 98.1h1.0M66.7 96.8h1.0M60.1 100.0h1.0M67.2 103.5h1.0M65.1 89.2h1.0M64.3 92.9h1.0M63.0 90.5h1.0M62.4 64.5h1.0M61.4 80.4h1.0M61.4 91.1h1.0M65.9 95.7h1.0M56.9 86.6h1.0M70.4 99.5h1.0M59.4 100.6h1.0M65.9 87.8h1.0M59.5 101.6h1.0M58.5 103.3h1.0M72.2 94.4h1.0M58.1 83.6h1.0M52.3 102.0h1.0M55.7 89.7h1.0M58.1 88.1h1.0M72.9 91.9h1.0M61.2 86.9h1.0M65.6 99.0h1.0M54.0 96.8h1.0M62.1 100.1h1.0M64.0 95.4h1.0M70.8 85.0h1.0M55.8 89.8h1.0M63.6 97.6h1.0M61.8 87.9h1.0M53.9 103.4h1.0M59.9 89.2h1.0M58.4 86.6h1.0M49.0 99.6h1.0M63.6 96.6h1.0M63.2 90.8h1.0M57.4 89.3h1.0M52.0 94.2h1.0M68.9 97.3h1.0M61.6 96.7h1.0M66.1 88.7h1.0M68.5 94.2h1.0M56.9 97.3h1.0M64.9 96.7h1.0M58.6 67.9h1.0M59.6 84.3h1.0M59.5 85.2h1.0M60.0 89.3h1.0M66.7 92.3h1.0M60.7 97.9h1.0M59.1 95.6h1.0M58.3 90.0h1.0M62.0 91.2h1.0M54.6 102.8h1.0M57.0 86.4h1.0M59.7 93.3h1.0M56.6 102.7h1.0M59.3 93.6h1.0M56.3 75.7h1.0M72.0 93.8h1.0M68.0 88.1h1.0M62.7 90.2h1.0M59.7 98.9h1.0M73.1 94.5h1.0M61.9 89.0h1.0M59.5 97.7h1.0M61.8 94.3h1.0M61.8 91.8h1.0M68.5 93.3h1.0M59.9 92.9h1.0M72.6 88.5h1.0M54.7 87.6h1.0M64.2 91.2h1.0M54.0 83.8h1.0M70.9 81.6h1.0M58.0 100.8h1.0M59.7 89.2h1.0M65.5 90.8h1.0M67.5 90.0h1.0M53.3 91.2h1.0M57.9 91.2h1.0M51.6 91.5h1.0M60.8 85.0h1.0M59.4 98.0h1.0M57.9 85.8h1.0M55.9 98.8h1.0M57.7 76.6h1.0M55.5 83.0h1.0M63.2 98.4h1.0M69.1 89.9h1.0M48.8 86.0h1.0M59.3 93.8h1.0M57.5 83.2h1.0M63.0 91.6h1.0M54.3 74.4h1.0M59.1 87.6h1.0M53.8 86.1h1.0M64.2 95.0h1.0M60.6 97.6h1.0M59.0 84.6h1.0M62.2 103.1h1.0M58.5 86.6h1.0M50.7 75.6h1.0M63.6 73.2h1.0M61.7 102.5h1.0M59.1 90.3h1.0M65.9 86.1h1.0M67.3 85.4h1.0M53.4 82.8h1.0M55.3 101.1h1.0M69.3 90.4h1.0M68.5 102.9h1.0M55.6 89.5h1.0M52.9 73.4h1.0M56.2 97.3h1.0M57.0 88.2h1.0M50.5 89.2h1.0M60.2 102.8h1.0M52.3 89.0h1.0M52.7 99.7h1.0M65.5 91.0h1.0M55.9 85.4h1.0M59.6 94.8h1.0M63.8 86.5h1.0M64.9 100.2h1.0M58.0 98.2h1.0M60.3 91.5h1.0M55.0 95.6h1.0M70.5 95.2h1.0M63.9 88.9h1.0M53.4 97.7h1.0M60.0 89.3h1.0M64.3 95.6h1.0M62.9 83.9h1.0M71.0 91.8h1.0M68.2 94.1h1.0M56.8 85.1h1.0M59.5 87.9h1.0M52.3 87.0h1.0M61.5 96.5h1.0M60.9 85.6h1.0M76.2 94.3h1.0M60.6 102.5h1.0M49.0 93.7h1.0M56.0 78.9h1.0M60.7 92.0h1.0M52.5 98.8h1.0M54.8 88.9h1.0M57.8 99.4h1.0M62.1 95.7h1.0M59.0 94.2h1.0M54.7 89.1h1.0M64.7 87.2h1.0M56.8 89.1h1.0M57.0 91.5h1.0M51.7 95.0h1.0M55.3 94.2h1.0M63.9 88.8h1.0M50.3 91.6h1.0M59.6 94.0h1.0M64.3 78.9h1.0M57.7 85.3h1.0M61.4 85.1h1.0M53.3 89.6h1.0M67.9 89.0h1.0M66.6 89.2h1.0M61.4 84.6h1.0M49.5 96.1h1.0M53.7 93.2h1.0M65.9 78.8h1.0M70.3 91.2h1.0M61.8 82.7h1.0M67.5 103.9h1.0M56.4 87.7h1.0M58.9 88.2h1.0M60.0 91.7h1.0M62.5 89.6h1.0M50.8 90.7h1.0M65.6 102.7h1.0M67.9 92.8h1.0M53.1 97.4h1.0M51.9 99.6h1.0M62.1 83.8h1.0M56.1 103.8h1.0M48.6 96.3h1.0M64.9 98.3h1.0M60.9 84.7h1.0M57.1 97.3h1.0M72.7 94.2h1.0M60.8 87.1h1.0M55.5 103.7h1.0M60.6 95.4h1.0M53.8 89.3h1.0M55.4 92.6h1.0M62.3 98.0h1.0M56.7 99.6h1.0M57.3 95.5h1.0M70.0 100.3h1.0M65.2 102.2h1.0M64.8 81.9h1.0M63.2 87.5h1.0M62.9 84.1h1.0M68.7 91.9h1.0M59.9 102.0h1.0M71.1 96.0h1.0M54.3 83.3h1.0M58.5 88.9h1.0M51.7 98.9h1.0M57.9 87.2h1.0M63.1 90.4h1.0M68.7 93.4h1.0M56.0 77.5h1.0M60.0 97.0h1.0M57.8 93.7h1.0M55.6 95.4h1.0M52.9 83.8h1.0M60.4 85.4h1.0M49.6 86.7h1.0M60.7 93.0h1.0M60.1 91.7h1.0M56.1 92.1h1.0M53.9 102.5h1.0M51.7 100.9h1.0M71.2 85.8h1.0M51.9 86.2h1.0M69.3 103.8h1.0M63.6 88.8h1.0M57.8 101.5h1.0M53.1 103.1h1.0M66.3 87.1h1.0M70.4 89.1h1.0M54.4 91.8h1.0M58.2 84.7h1.0M66.3 83.8h1.0M62.0 88.1h1.0M72.0 97.5h1.0M56.6 87.8h1.0M63.3 89.6h1.0M52.5 87.7h1.0M72.6 80.9h1.0M55.6 102.3h1.0M48.9 73.6h1.0M59.2 86.2h1.0M59.2 95.3h1.0M71.5 80.7h1.0M58.0 95.7h1.0M59.9 100.5h1.0M63.6 84.7h1.0M69.5 92.7h1.0M59.6 82.8h1.0M66.2 95.0h1.0M63.1 91.8h1.0M58.2 92.8h1.0M60.5 101.4h1.0M60.2 94.7h1.0M54.5 101.2h1.0M67.3 95.9h1.0M51.7 82.1h1.0M67.0 93.1h1.0M65.7 94.8h1.0M59.4 80.3h1.0M55.4 101.1h1.0M58.6 91.7h1.0M62.8 93.9h1.0M64.5 84.4h1.0M61.7 91.7h1.0M66.0 93.4h1.0M56.7 88.7h1.0M61.4 91.7h1.0M50.6 75.2h1.0M64.6 101.4h1.0M60.9 82.8h1.0M57.5 74.8h1.0M67.0 83.9h1.0M64.1 84.9h1.0M49.8 95.2h1.0M60.2 84.3h1.0M51.3 93.3h1.0M66.4 83.9h1.0M74.9 103.8h1.0M56.9 95.2h1.0M60.4 103.6h1.0M58.5 83.5h1.0M62.1 96.1h1.0M63.9 84.0h1.0M67.7 95.5h1.0M54.1 96.2h1.0M69.4 79.2h1.0M54.4 82.6h1.0M61.7 82.4h1.0M67.0 79.8h1.0M64.3 85.6h1.0M54.4 83.9h1.0M55.8 80.3h1.0M57.2 91.8h1.0M59.7 95.2h1.0M66.9 81.3h1.0M52.2 86.9h1.0M62.8 91.2h1.0M63.7 89.4h1.0M63.3 85.8h1.0M62.8 97.2h1.0M69.1 97.5h1.0M62.9 96.2h1.0M65.1 89.5h1.0M63.4 103.5h1.0M70.8 102.6h1.0M48.6 88.1h1.0M67.7 90.2h1.0M58.4 100.0h1.0M58.3 85.1h1.0M54.2 94.1h1.0M48.8 91.4h1.0M57.7 85.8h1.0M55.9 89.3h1.0M63.0 79.3h1.0M51.2 87.0h1.0M68.6 76.1h1.0M61.6 103.7h1.0M58.5 102.4h1.0M55.7 100.3h1.0M55.3 93.3h1.0M53.2 98.6h1.0M56.7 100.6h1.0M60.0 98.7h1.0M58.9 97.9h1.0M51.5 84.2h1.0M58.4 94.3h1.0M54.6 87.0h1.0M61.0 82.2h1.0M71.2 82.5h1.0M63.8 94.3h1.0M58.1 98.9h1.0M50.3 80.8h1.0M51.5 102.5h1.0M49.9 102.1h1.0M64.4 88.2h1.0M55.4 87.6h1.0M60.4 90.5h1.0M56.3 98.4h1.0M60.5 88.2h1.0M68.4 82.7h1.0M55.9 93.6h1.0M58.0 75.5h1.0M55.2 92.1h1.0M65.2 99.7h1.0M53.8 93.3h1.0M53.2 96.9h1.0M51.7 94.7h1.0M51.5 96.5h1.0M62.8 92.1h1.0M75.4 84.8h1.0M54.0 89.3h1.0M65.7 90.5h1.0M61.5 100.4h1.0M53.4 103.2h1.0M58.3 94.2h1.0M58.6 85.4h1.0M55.9 85.5h1.0M71.6 89.6h1.0M48.6 101.4h1.0M62.3 93.5h1.0M62.0 90.6h1.0M56.5 85.3h1.0M60.9 97.6h1.0M65.3 93.2h1.0M60.9 90.6h1.0M62.5 91.8h1.0M64.2 103.6h1.0M48.7 89.8h1.0M68.9 103.7h1.0M73.7 100.3h1.0M65.9 91.4h1.0M66.1 97.6h1.0M51.6 90.1h1.0M59.3 84.8h1.0M55.1 89.0h1.0M56.5 84.2h1.0M65.8 94.8h1.0M55.2 91.1h1.0M59.2 95.3h1.0M48.5 97.2h1.0M59.0 67.6h1.0M60.5 93.3h1.0M55.8 77.5h1.0M55.7 92.2h1.0M71.3 84.4h1.0M52.7 91.8h1.0M53.7 101.2h1.0M55.1 78.2h1.0M67.2 92.4h1.0M72.6 90.4h1.0M62.0 76.8h1.0M55.7 95.9h1.0M57.4 91.3h1.0M66.4 87.2h1.0M54.5 85.6h1.0M68.7 103.1h1.0M68.5 88.0h1.0M60.4 77.5h1.0M63.9 84.0h1.0M64.5 88.3h1.0M69.3 88.1h1.0M53.7 90.4h1.0M67.1 83.1h1.0M57.7 95.1h1.0M55.4 87.4h1.0M60.6 80.8h1.0M58.7 84.9h1.0M54.1 88.1h1.0M50.4 97.4h1.0M54.3 94.6h1.0M68.7 88.5h1.0M71.8 91.1h1.0M63.9 92.6h1.0M67.1 102.7h1.0M56.9 86.4h1.0M59.5 94.5h1.0M61.7 96.4h1.0M53.5 83.9h1.0M54.1 92.4h1.0M60.6 92.2h1.0M58.1 87.5h1.0M53.6 95.3h1.0M62.3 98.7h1.0M58.4 99.5h1.0M66.1 89.6h1.0M60.0 92.4h1.0M58.2 103.1h1.0M60.8 82.7h1.0M59.0 92.7h1.0M56.0 97.7h1.0M57.6 92.1h1.0M64.5 95.9h1.0M63.9 92.3h1.0M67.7 96.7h1.0M49.8 100.6h1.0M57.6 89.3h1.0M57.5 92.5h1.0M61.0 90.6h1.0M57.3 88.0h1.0M56.9 90.9h1.0M64.7 82.5h1.0M61.1 96.6h1.0M53.0 103.8h1.0M68.0 103.8h1.0M66.0 100.6h1.0M56.6 83.8h1.0M65.0 102.4h1.0M55.6 85.6h1.0M66.8 90.6h1.0M58.7 103.1h1.0M55.2 83.0h1.0M57.8 97.3h1.0M55.4 93.1h1.0M61.2 89.9h1.0M61.1 84.4h1.0M60.2 94.2h1.0M56.7 87.5h1.0M49.2 98.8h1.0M60.6 100.2h1.0M48.6 80.7h1.0M61.5 87.2h1.0M66.8 88.6h1.0M61.6 82.1h1.0M57.7 82.6h1.0M58.9 91.7h1.0M59.2 89.4h1.0M56.7 78.6h1.0M56.5 87.0h1.0M54.5 94.9h1.0M67.1 82.0h1.0M59.9 84.1h1.0M65.7 102.9h1.0M58.5 100.9h1.0M60.4 78.8h1.0M59.0 80.9h1.0M62.8 93.8h1.0M65.0 82.1h1.0M61.4 89.1h1.0M56.0 87.6h1.0M55.3 95.2h1.0M70.0 72.0h1.0M58.3 74.5h1.0M58.3 81.8h1.0M68.8 98.6h1.0M66.5 89.8h1.0M63.2 78.2h1.0M57.6 94.7h1.0M74.1 96.3h1.0M62.4 89.2h1.0M63.3 88.5h1.0M59.0 94.3h1.0M51.5 100.1h1.0M52.0 92.1h1.0M62.4 95.0h1.0M62.4 90.6h1.0M58.6 88.1h1.0M53.0 84.1h1.0M51.4 92.9h1.0M58.0 88.7h1.0M51.3 89.2h1.0M65.4 98.0h1.0M66.9 94.7h1.0M77.0 97.5h1.0M65.3 79.2h1.0M56.4 95.2h1.0M54.8 86.6h1.0M48.9 84.9h1.0M56.4 84.6h1.0M58.9 100.1h1.0M65.8 97.2h1.0M63.7 85.6h1.0M63.5 82.5h1.0M61.3 91.1h1.0M64.0 87.6h1.0M68.7 103.4h1.0M53.6 80.0h1.0M57.3 77.3h1.0M51.7 89.1h1.0M69.7 91.1h1.0M67.8 92.0h1.0M64.5 96.7h1.0M52.8 102.4h1.0M61.0 88.4h1.0M58.6 86.9h1.0M60.5 77.8h1.0M58.9 92.8h1.0M63.1 97.4h1.0M57.6 89.0h1.0M65.1 99.9h1.0M61.4 91.2h1.0M58.2 102.4h1.0M59.3 93.5h1.0M57.4 83.1h1.0M64.9 86.2h1.0M58.4 79.5h1.0M61.8 78.0h1.0M57.6 93.0h1.0M51.1 97.5h1.0M65.4 103.3h1.0M53.7 90.6h1.0M64.1 89.2h1.0M62.5 82.7h1.0M50.1 98.4h1.0M54.3 93.9h1.0M56.9 86.5h1.0M55.1 96.2h1.0M52.9 95.2h1.0M64.4 77.0h1.0M58.6 96.6h1.0M62.3 92.0h1.0M57.4 88.1h1.0M61.8 87.9h1.0M55.5 102.9h1.0M59.8 102.5h1.0M63.5 103.0h1.0M60.3 82.4h1.0M57.3 86.1h1.0M53.5 97.8h1.0M61.0 81.9h1.0M62.1 85.6h1.0M58.4 77.5h1.0M55.4 102.5h1.0M63.3 99.0h1.0M74.9 94.4h1.0M58.2 92.6h1.0M62.0 87.9h1.0M62.3 88.0h1.0M48.9 95.6h1.0M60.7 85.7h1.0M55.8 100.2h1.0M68.3 87.3h1.0M58.5 84.4h1.0M55.3 100.7h1.0M58.7 89.9h1.0M61.0 95.2h1.0M56.6 87.9h1.0M59.7 74.1h1.0M51.9 95.1h1.0M58.6 80.9h1.0M64.7 99.1h1.0M71.8 79.4h1.0M64.2 77.0h1.0M61.6 93.3h1.0M67.1 94.2h1.0M66.1 91.8h1.0M70.0 81.9h1.0M66.5 97.7h1.0M59.3 80.0h1.0M61.6 87.5h1.0M61.1 85.1h1.0M61.8 88.2h1.0M61.2 97.4h1.0M55.3 86.2h1.0M48.7 95.2h1.0M56.0 96.2h1.0M49.8 78.2h1.0M60.4 82.3h1.0M60.0 88.1h1.0M49.9 86.6h1.0M64.1 93.3h1.0M65.2 76.5h1.0M60.6 96.4h1.0M70.0 96.6h1.0M71.2 89.7h1.0M52.8 80.6h1.0M66.2 91.0h1.0M62.6 87.0h1.0M62.5 95.2h1.0M65.6 90.4h1.0M55.7 96.5h1.0M56.4 87.8h1.0M55.0 101.8h1.0M55.5 73.7h1.0M59.4 83.4h1.0M51.3 94.7h1.0M53.7 79.7h1.0M63.5 96.5h1.0M59.6 81.9h1.0M62.3 91.7h1.0M48.7 84.1h1.0M55.3 87.7h1.0M56.7 92.3h1.0M60.2 90.2h1.0M56.5 88.1h1.0M65.6 103.1h1.0M59.7 91.1h1.0M60.1 83.7h1.0M60.1 98.0h1.0M64.2 97.2h1.0M57.2 100.2h1.0M66.7 102.9h1.0M62.8 84.0h1.0M60.9 98.9h1.0M60.3 99.5h1.0M63.1 91.0h1.0M66.1 92.8h1.0M65.7 68.5h1.0M62.3 86.7h1.0M65.3 103.0h1.0M60.7 77.6h1.0M67.5 87.0h1.0M59.8 93.2h1.0M49.7 95.3h1.0M68.0 103.2h1.0M60.6 77.8h1.0M53.0 91.3h1.0M58.8 97.4h1.0M54.7 81.1h1.0M72.6 90.7h1.0M63.0 102.6h1.0M50.6 100.9h1.0M63.3 95.0h1.0M57.6 71.4h1.0M71.5 90.0h1.0M53.7 93.9h1.0M49.6 88.7h1.0M60.4 90.5h1.0M57.9 103.9h1.0M57.5 89.4h1.0M49.8 83.7h1.0M62.6 92.8h1.0M70.0 88.6h1.0M48.5 88.7h1.0M67.0 90.3h1.0M56.6 96.8h1.0M74.1 92.8h1.0M62.6 82.0h1.0M58.9 90.0h1.0M66.6 94.6h1.0M63.2 87.5h1.0M56.4 99.6h1.0M64.3 96.8h1.0M56.9 83.6h1.0M49.3 93.4h1.0M72.2 103.8h1.0M57.9 102.7h1.0M56.3 90.6h1.0M62.0 97.7h1.0M50.6 85.9h1.0M51.9 80.1h1.0M57.0 95.2h1.0M56.9 92.8h1.0M60.4 94.9h1.0M66.7 90.8h1.0M57.2 93.4h1.0M63.0 87.2h1.0M63.6 94.5h1.0M53.5 97.2h1.0M61.4 90.6h1.0M54.3 97.1h1.0M66.4 77.7h1.0M62.7 85.1h1.0M60.1 101.8h1.0M52.0 102.6h1.0M60.7 92.9h1.0M55.4 90.2h1.0M64.2 81.5h1.0M59.3 93.7h1.0M55.1 96.8h1.0M65.6 79.9h1.0M64.3 95.2h1.0M56.4 94.7h1.0M67.0 94.3h1.0M58.2 82.5h1.0M58.1 95.1h1.0M60.7 79.8h1.0M55.5 102.2h1.0M57.4 92.0h1.0M59.0 82.3h1.0M69.2 101.1h1.0M69.0 99.7h1.0M58.4 86.1h1.0M69.7 103.9h1.0M59.7 83.5h1.0M62.3 93.4h1.0M65.3 99.9h1.0M61.8 74.0h1.0M74.5 98.5h1.0M61.5 90.5h1.0M52.8 90.9h1.0M67.8 82.9h1.0M57.5 93.5h1.0M58.2 82.7h1.0M49.7 83.7h1.0M66.0 87.6h1.0M64.9 81.8h1.0M64.8 102.8h1.0M65.9 81.0h1.0M70.1 85.3h1.0M59.7 88.6h1.0M65.6 91.0h1.0M55.5 96.9h1.0M57.9 97.1h1.0M66.3 88.7h1.0M62.3 88.1h1.0M52.0 91.3h1.0M62.2 97.2h1.0M58.9 96.2h1.0M55.1 87.1h1.0M62.6 75.6h1.0M57.6 102.9h1.0M50.6 98.1h1.0M53.3 93.0h1.0M70.6 93.6h1.0M50.9 87.1h1.0M61.3 83.5h1.0M63.7 88.5h1.0M63.8 89.3h1.0M52.6 86.3h1.0M58.1 80.1h1.0M60.8 88.7h1.0M64.8 95.3h1.0M56.1 87.3h1.0M53.0 91.2h1.0M66.0 75.5h1.0M66.6 89.4h1.0M62.2 90.1h1.0M56.3 81.8h1.0M62.4 78.0h1.0M60.7 94.1h1.0M65.0 84.9h1.0M52.5 94.7h1.0M60.7 87.8h1.0M59.0 95.7h1.0M53.3 88.5h1.0M61.3 79.7h1.0M60.2 90.4h1.0M57.5 88.5h1.0M62.4 95.9h1.0M51.5 87.6h1.0M59.7 88.1h1.0M62.6 97.4h1.0M61.7 99.7h1.0M66.5 96.7h1.0M52.8 98.8h1.0M51.0 94.4h1.0M61.4 96.8h1.0M62.7 97.6h1.0M72.7 94.0h1.0M63.7 91.5h1.0M54.8 92.1h1.0M64.8 103.9h1.0M54.9 91.1h1.0M51.1 89.2h1.0M75.7 88.3h1.0M62.0 90.7h1.0M64.3 92.8h1.0M63.4 82.5h1.0M70.9 76.1h1.0M61.7 93.2h1.0M67.3 79.0h1.0M53.8 92.9h1.0M51.6 92.1h1.0M68.6 99.6h1.0M68.8 103.5h1.0M63.1 93.8h1.0M61.4 86.8h1.0M61.0 82.2h1.0M55.9 85.1h1.0M69.2 91.3h1.0M64.0 75.5h1.0M63.0 91.6h1.0M62.3 90.9h1.0M66.3 95.8h1.0M63.0 88.5h1.0M64.5 91.8h1.0M53.0 85.5h1.0M63.1 87.5h1.0M73.1 77.7h1.0M56.9 91.9h1.0M59.2 102.6h1.0M65.4 92.2h1.0M65.7 93.7h1.0M63.7 83.6h1.0M50.3 101.7h1.0M63.0 85.2h1.0M52.9 97.0h1.0M55.1 91.8h1.0M63.3 83.8h1.0M58.2 98.7h1.0M64.9 91.1h1.0M78.9 92.3h1.0M64.7 94.4h1.0M64.3 90.8h1.0M54.6 88.2h1.0M56.1 94.5h1.0M53.6 88.0h1.0M56.8 91.5h1.0M53.4 86.0h1.0M56.0 79.8h1.0M58.7 86.0h1.0M54.0 87.3h1.0M51.5 91.1h1.0M51.8 99.9h1.0M62.7 78.3h1.0M60.4 92.0h1.0M66.2 74.4h1.0M66.3 83.2h1.0M58.0 87.2h1.0M64.0 74.1h1.0M51.4 77.1h1.0M73.7 92.2h1.0M67.2 91.6h1.0M58.7 90.1h1.0M53.0 85.0h1.0M62.3 102.8h1.0M48.8 89.8h1.0M55.3 84.5h1.0M64.5 103.6h1.0M60.5 95.6h1.0M57.1 88.2h1.0M65.7 99.9h1.0M53.8 92.2h1.0M61.7 95.8h1.0M57.0 92.8h1.0M54.9 83.3h1.0M62.8 98.3h1.0M54.0 92.2h1.0M71.4 83.4h1.0M56.5 85.3h1.0M71.9 98.2h1.0M53.4 88.2h1.0M63.6 91.3h1.0M52.8 95.9h1.0M52.0 92.0h1.0M61.0 79.6h1.0M64.1 95.8h1.0M52.4 98.0h1.0M67.1 97.5h1.0M55.2 103.1h1.0M60.8 93.7h1.0M62.3 96.8h1.0M63.6 102.9h1.0M49.2 88.8h1.0M69.7 103.0h1.0M63.4 103.7h1.0M57.4 96.9h1.0M53.9 102.6h1.0M49.8 97.4h1.0M51.8 84.4h1.0M63.3 99.5h1.0M58.0 93.4h1.0M53.2 94.1h1.0M56.8 92.2h1.0M69.4 101.2h1.0M58.0 95.1h1.0M56.5 85.8h1.0M68.1 94.6h1.0M62.8 96.5h1.0M60.3 85.6h1.0M56.4 87.7h1.0M50.7 88.1h1.0M53.0 86.4h1.0M57.1 93.6h1.0M58.7 98.6h1.0M62.1 103.0h1.0M63.3 100.0h1.0M61.3 98.7h1.0M61.3 99.6h1.0M54.0 101.0h1.0M49.2 88.2h1.0M56.9 96.2h1.0M54.3 93.4h1.0M56.1 90.0h1.0M58.4 87.6h1.0M52.5 87.2h1.0M53.3 89.0h1.0M59.4 81.7h1.0M60.7 94.9h1.0M56.1 90.8h1.0M63.0 91.8h1.0M58.7 93.5h1.0M53.9 96.4h1.0M60.2 86.6h1.0M71.3 90.2h1.0M56.0 78.9h1.0M67.0 74.4h1.0M68.3 76.4h1.0M69.0 102.5h1.0M55.1 77.3h1.0M72.1 94.5h1.0M60.7 102.1h1.0M58.5 87.6h1.0M58.6 103.2h1.0M63.6 102.5h1.0M60.3 98.1h1.0M58.9 103.6h1.0M67.7 95.7h1.0M55.7 85.5h1.0M53.7 94.9h1.0M64.8 87.7h1.0M64.2 81.3h1.0M66.6 81.5h1.0M53.6 103.6h1.0M66.5 87.0h1.0M62.9 90.9h1.0M70.6 86.1h1.0M52.5 92.1h1.0M61.3 89.3h1.0M58.3 88.0h1.0M50.5 82.0h1.0M55.7 80.5h1.0M66.8 85.5h1.0M57.2 93.3h1.0M55.7 102.6h1.0M65.2 99.0h1.0M65.9 103.7h1.0M65.9 94.7h1.0M55.3 90.5h1.0M59.7 81.2h1.0M66.2 91.1h1.0M56.1 75.0h1.0M55.5 88.9h1.0M65.0 103.3h1.0M69.4 93.6h1.0M53.1 99.6h1.0M49.7 88.3h1.0M51.3 80.8h1.0M53.9 87.6h1.0M59.2 88.2h1.0M63.7 100.2h1.0M59.1 103.6h1.0M55.8 85.6h1.0M60.9 88.5h1.0M54.2 90.1h1.0M59.7 88.6h1.0M56.2 81.8h1.0M76.1 91.9h1.0M64.9 93.9h1.0M55.0 94.1h1.0M54.0 82.1h1.0M57.4 90.3h1.0M50.1 78.1h1.0M55.6 98.0h1.0M55.6 83.5h1.0M65.3 89.1h1.0M57.4 87.8h1.0M55.3 86.8h1.0M52.0 83.3h1.0M52.9 78.0h1.0M59.6 102.7h1.0M58.7 93.1h1.0M66.8 93.2h1.0M56.2 103.3h1.0M66.4 90.5h1.0M61.5 95.4h1.0M60.0 91.4h1.0M49.4 100.1h1.0M52.3 95.0h1.0M64.4 93.6h1.0M68.4 89.3h1.0M61.2 93.3h1.0M64.6 100.0h1.0M57.6 75.7h1.0M57.8 90.3h1.0M56.0 88.1h1.0M65.8 89.0h1.0M62.1 76.4h1.0M58.6 96.7h1.0M58.0 84.9h1.0M63.3 89.5h1.0M61.9 87.5h1.0M55.0 78.7h1.0M70.3 87.9h1.0M61.5 77.4h1.0M60.1 84.2h1.0M68.9 88.9h1.0M66.1 91.2h1.0M59.5 91.7h1.0M63.2 90.2h1.0M53.6 103.0h1.0M56.2 94.5h1.0M49.1 82.1h1.0M67.3 86.7h1.0M48.6 86.3h1.0M64.1 89.9h1.0M55.0 86.7h1.0M54.1 84.8h1.0M58.8 103.6h1.0M61.6 91.6h1.0M63.7 88.7h1.0M70.6 89.4h1.0M62.2 89.6h1.0M65.3 101.7h1.0M56.4 94.8h1.0M64.3 99.7h1.0M60.9 67.9h1.0M57.2 93.7h1.0M59.4 99.2h1.0M59.6 103.1h1.0M61.1 91.5h1.0M62.4 78.4h1.0M56.9 95.7h1.0M55.6 86.8h1.0M64.5 77.8h1.0M49.8 86.6h1.0M56.3 99.2h1.0M69.3 100.3h1.0M49.5 96.7h1.0M55.8 83.4h1.0M64.1 103.7h1.0M50.1 82.5h1.0M75.6 90.7h1.0M49.9 80.4h1.0M68.6 101.2h1.0M69.3 94.6h1.0M65.5 97.9h1.0M58.7 92.0h1.0M62.1 90.8h1.0M54.6 92.6h1.0M64.9 77.1h1.0M53.3 98.7h1.0M58.4 98.1h1.0M66.0 88.4h1.0M53.3 91.2h1.0M57.8 93.5h1.0M61.0 103.1h1.0M51.9 94.5h1.0M67.0 91.6h1.0M62.0 87.5h1.0M50.9 80.0h1.0M59.7 86.8h1.0M55.3 91.9h1.0M56.1 89.4h1.0M60.5 91.9h1.0M55.7 96.9h1.0M65.8 94.6h1.0M55.8 93.4h1.0M65.9 96.3h1.0M59.7 92.7h1.0M65.1 91.1h1.0M56.8 94.9h1.0M57.0 78.4h1.0M53.1 100.7h1.0M63.5 81.7h1.0M65.6 97.6h1.0M72.7 91.4h1.0M67.7 99.7h1.0M61.5 91.6h1.0M58.7 84.3h1.0M62.3 99.4h1.0M59.8 92.7h1.0M68.8 92.3h1.0M65.7 92.0h1.0M55.0 98.9h1.0M55.9 97.5h1.0M68.2 93.1h1.0M61.8 79.7h1.0M58.6 88.4h1.0M67.1 92.2h1.0M57.7 102.7h1.0M58.3 94.3h1.0M57.2 90.7h1.0M48.8 100.4h1.0M65.2 90.6h1.0M52.7 91.2h1.0M56.6 92.6h1.0M55.5 80.2h1.0M64.4 98.6h1.0M59.6 94.6h1.0M60.1 89.3h1.0M49.9 82.8h1.0M59.5 93.0h1.0M51.1 101.9h1.0M61.8 86.6h1.0M62.2 83.5h1.0M59.9 94.6h1.0M72.3 79.4h1.0M63.2 74.8h1.0M63.6 88.1h1.0M60.9 86.2h1.0M58.8 89.3h1.0M65.8 87.3h1.0M66.6 93.9h1.0M52.2 89.8h1.0M66.3 86.9h1.0M63.1 88.0h1.0M65.8 96.2h1.0M62.8 98.6h1.0M52.5 98.2h1.0M53.0 96.7h1.0M70.9 66.7h1.0M61.5 83.9h1.0M51.5 89.1h1.0M62.1 93.0h1.0M57.8 79.3h1.0M48.9 102.1h1.0M48.8 93.7h1.0M50.4 86.8h1.0M61.6 92.7h1.0M59.7 88.8h1.0M58.5 85.7h1.0M61.7 95.2h1.0M63.6 88.0h1.0M49.1 80.9h1.0M58.2 86.7h1.0M55.0 90.6h1.0M52.6 83.4h1.0M56.7 100.9h1.0M59.3 83.3h1.0M58.4 102.7h1.0M51.3 98.2h1.0M57.1 84.4h1.0M72.1 92.4h1.0M53.7 100.3h1.0M49.9 90.0h1.0M63.2 77.5h1.0M55.4 85.4h1.0M60.8 79.7h1.0M58.9 86.3h1.0M54.6 89.9h1.0M61.8 83.8h1.0M59.2 72.9h1.0M58.2 78.2h1.0M66.8 88.7h1.0M54.6 81.2h1.0M65.1 77.7h1.0M57.8 82.3h1.0M65.0 86.1h1.0M62.5 84.5h1.0M63.7 87.0h1.0M55.2 77.6h1.0M56.6 81.1h1.0M56.0 81.2h1.0M63.2 82.7h1.0M67.2 69.4h1.0M69.5 81.3h1.0M58.5 74.2h1.0M62.6 91.8h1.0M50.7 92.9h1.0M49.9 93.7h1.0M55.9 88.1h1.0M57.3 79.8h1.0M51.1 89.0h1.0M49.5 81.6h1.0M65.7 86.8h1.0M56.3 77.1h1.0M50.2 79.1h1.0M78.1 85.9h1.0M63.1 94.3h1.0M59.7 82.7h1.0M66.6 97.4h1.0M56.6 100.6h1.0M73.0 74.6h1.0M51.1 82.7h1.0M52.7 76.8h1.0M60.9 82.0h1.0M56.5 79.5h1.0M71.7 82.5h1.0M50.7 89.1h1.0M56.7 88.9h1.0M63.5 84.6h1.0M65.8 82.9h1.0M68.8 83.7h1.0M64.2 83.7h1.0M77.2 86.6h1.0M58.5 82.9h1.0M63.0 86.1h1.0M67.8 74.5h1.0M59.6 88.0h1.0M59.7 94.1h1.0M58.5 84.1h1.0M57.3 73.8h1.0M53.9 91.6h1.0M57.9 80.8h1.0M50.9 63.7h1.0M64.4 81.5h1.0M50.6 86.8h1.0M76.1 85.4h1.0M73.6 90.9h1.0M69.4 86.9h1.0M60.2 83.7h1.0M57.6 70.2h1.0M70.2 75.7h1.0M63.0 84.1h1.0M65.6 87.3h1.0M56.7 76.3h1.0M69.1 79.0h1.0M56.1 85.9h1.0M62.4 70.6h1.0M49.6 70.4h1.0M57.1 81.4h1.0M65.2 84.5h1.0M58.5 79.8h1.0M58.6 68.2h1.0M67.2 83.1h1.0M61.2 74.4h1.0M70.3 87.1h1.0M48.6 82.3h1.0M65.6 84.6h1.0M65.2 87.0h1.0M50.9 79.5h1.0M52.6 88.2h1.0M67.8 90.9h1.0M54.2 85.5h1.0M57.2 91.5h1.0M65.8 78.9h1.0M59.3 88.8h1.0M65.0 84.7h1.0M55.6 76.6h1.0M63.7 82.4h1.0M69.2 79.5h1.0M63.9 79.4h1.0M48.5 83.5h1.0M66.2 89.8h1.0M62.0 80.9h1.0M55.3 83.7h1.0M71.3 73.5h1.0M49.5 83.6h1.0M74.7 90.3h1.0M57.2 88.1h1.0M72.6 86.0h1.0M61.3 79.5h1.0M52.4 76.7h1.0M62.3 82.3h1.0M63.9 74.3h1.0M65.4 75.0h1.0M69.0 89.0h1.0M55.4 77.0h1.0M65.1 94.5h1.0M66.8 73.7h1.0M59.7 85.7h1.0M55.1 75.4h1.0M55.0 84.0h1.0M66.8 76.2h1.0M67.2 83.2h1.0M55.8 81.9h1.0M52.3 80.0h1.0M70.3 86.2h1.0M50.8 92.6h1.0M62.7 79.1h1.0M56.0 88.6h1.0M49.4 83.5h1.0M62.5 82.7h1.0M60.3 97.0h1.0M71.6 69.0h1.0M77.4 78.5h1.0M60.3 71.3h1.0M68.8 80.9h1.0M68.9 81.4h1.0M58.0 103.9h1.0M55.6 85.2h1.0M72.8 94.5h1.0M59.1 91.3h1.0M61.4 80.1h1.0M59.6 86.0h1.0M60.7 93.7h1.0M57.4 84.0h1.0M66.8 84.3h1.0M70.4 86.2h1.0M59.0 73.2h1.0M52.0 77.7h1.0M62.0 85.1h1.0M51.2 86.4h1.0M57.2 77.0h1.0M70.2 80.8h1.0M77.8 82.1h1.0M64.2 81.9h1.0M54.2 87.4h1.0M67.0 83.6h1.0M49.7 84.0h1.0M56.8 73.8h1.0M72.2 76.1h1.0M66.8 85.0h1.0M52.0 72.6h1.0M50.0 84.6h1.0M67.6 78.7h1.0M61.3 77.7h1.0M57.5 87.1h1.0M64.5 78.5h1.0M57.6 77.4h1.0M49.3 78.5h1.0M67.2 83.3h1.0M57.1 100.6h1.0M54.6 69.2h1.0M52.3 82.8h1.0M63.3 81.3h1.0M56.0 89.0h1.0M66.0 80.5h1.0M59.7 66.9h1.0M69.1 91.4h1.0M58.9 75.8h1.0M57.1 82.5h1.0M49.5 74.0h1.0M54.0 75.8h1.0M66.6 79.7h1.0M82.9 88.4h1.0M52.9 88.3h1.0M54.4 79.0h1.0M64.0 86.1h1.0M64.9 80.4h1.0M56.9 83.6h1.0M62.2 83.8h1.0M50.4 86.8h1.0M59.5 78.9h1.0M67.9 82.0h1.0M73.0 84.2h1.0M60.4 83.4h1.0M59.8 77.7h1.0M64.8 93.9h1.0M69.3 79.9h1.0M65.0 87.7h1.0M56.4 84.1h1.0M64.1 90.7h1.0M68.4 68.7h1.0M56.7 96.1h1.0M52.3 81.4h1.0M65.2 74.9h1.0M64.2 83.7h1.0M68.4 97.4h1.0M62.2 86.1h1.0M57.1 74.9h1.0M58.6 79.8h1.0M54.5 91.4h1.0M55.0 73.7h1.0M57.7 81.6h1.0M58.3 80.9h1.0M69.4 96.8h1.0M53.1 80.9h1.0M61.3 91.3h1.0M57.5 78.4h1.0M72.0 77.6h1.0M63.5 89.3h1.0M59.0 86.8h1.0M67.3 71.6h1.0M62.1 86.9h1.0M58.3 87.0h1.0M72.3 78.8h1.0M66.6 84.2h1.0M73.7 84.5h1.0M69.7 79.7h1.0M67.1 79.0h1.0M62.6 78.5h1.0M54.1 81.0h1.0M66.6 74.2h1.0M62.2 82.5h1.0M66.4 73.1h1.0M61.6 83.3h1.0M56.9 82.2h1.0M54.7 76.1h1.0M66.6 88.3h1.0M70.7 95.3h1.0M59.7 91.3h1.0M64.9 74.0h1.0M71.3 91.0h1.0M55.9 84.2h1.0M59.3 82.4h1.0M53.9 78.9h1.0M69.9 82.7h1.0M63.5 91.7h1.0M58.5 86.3h1.0M50.2 80.1h1.0M60.5 78.5h1.0M68.6 80.1h1.0M59.7 86.6h1.0M58.8 94.8h1.0M66.2 76.0h1.0M53.1 82.8h1.0M62.1 80.3h1.0M65.9 77.9h1.0M56.3 85.3h1.0M56.0 86.3h1.0M63.4 73.6h1.0M61.0 76.1h1.0M60.1 90.5h1.0M63.2 84.8h1.0M63.3 86.1h1.0M55.3 79.5h1.0M57.1 80.3h1.0M64.9 85.7h1.0M69.5 79.6h1.0M71.1 75.6h1.0M55.9 82.8h1.0M69.3 88.6h1.0M67.0 76.1h1.0M61.5 89.6h1.0M65.1 87.3h1.0M67.5 77.2h1.0M74.2 82.8h1.0M54.4 82.5h1.0M65.9 86.9h1.0M60.8 87.1h1.0M60.3 74.4h1.0M69.7 74.1h1.0M67.4 89.4h1.0M54.7 83.5h1.0M59.8 85.5h1.0M63.3 84.9h1.0M52.0 92.6h1.0M67.8 75.0h1.0M61.3 89.8h1.0M62.9 77.5h1.0M64.1 87.5h1.0M74.3 91.4h1.0M62.0 73.9h1.0M59.3 85.4h1.0M73.8 81.0h1.0M58.3 80.9h1.0M58.1 83.1h1.0M52.2 76.0h1.0M69.3 76.6h1.0M63.7 87.0h1.0M65.1 88.2h1.0M62.9 79.1h1.0M60.9 73.4h1.0M56.3 97.7h1.0M56.4 89.8h1.0M64.8 85.1h1.0M62.7 76.2h1.0M73.1 79.0h1.0M56.5 84.3h1.0M58.4 76.6h1.0M54.7 93.1h1.0M71.3 83.7h1.0M53.3 85.3h1.0M67.1 76.2h1.0M71.8 77.0h1.0M60.8 77.7h1.0M66.8 84.6h1.0M49.5 81.1h1.0M59.1 80.9h1.0M50.3 84.8h1.0M63.0 84.2h1.0M61.9 92.3h1.0M56.5 81.5h1.0M68.3 76.3h1.0M64.3 82.7h1.0M58.2 92.2h1.0M58.3 79.2h1.0M51.6 83.1h1.0M60.5 80.5h1.0M76.5 85.4h1.0M56.9 84.4h1.0M64.7 77.6h1.0M58.0 81.3h1.0M67.4 88.8h1.0M64.9 89.8h1.0M60.2 88.7h1.0M49.5 88.3h1.0M58.3 80.7h1.0M70.1 80.5h1.0M60.1 88.7h1.0M66.2 75.3h1.0M58.5 82.4h1.0M48.9 70.9h1.0M64.8 80.4h1.0M64.0 78.3h1.0M57.8 75.1h1.0M59.3 86.5h1.0M63.8 78.1h1.0M57.7 80.4h1.0M64.2 81.1h1.0M60.4 78.1h1.0M49.7 91.9h1.0M60.8 79.6h1.0M57.7 84.0h1.0M87.4 84.5h1.0M101.8 94.4h1.0M97.3 85.1h1.0M92.1 88.0h1.0M92.8 102.8h1.0M85.9 89.9h1.0M88.6 89.3h1.0M90.4 89.9h1.0M89.9 91.6h1.0M85.1 103.7h1.0M85.5 85.6h1.0M91.9 85.2h1.0M90.9 97.8h1.0M79.0 82.7h1.0M89.8 91.2h1.0M95.6 101.6h1.0M86.2 93.7h1.0M90.5 90.4h1.0M82.2 88.8h1.0M93.4 87.4h1.0M83.9 89.6h1.0M83.2 94.7h1.0M87.8 102.3h1.0M101.0 100.4h1.0M86.3 89.8h1.0M83.2 88.6h1.0M91.6 98.5h1.0M90.5 81.1h1.0M97.5 90.7h1.0M83.1 91.4h1.0M81.5 86.0h1.0M87.8 86.8h1.0M91.2 96.1h1.0M91.1 82.2h1.0M94.7 87.3h1.0M82.0 89.2h1.0M85.3 94.2h1.0M88.7 84.2h1.0M93.5 101.1h1.0M91.7 91.5h1.0M87.3 91.8h1.0M84.3 91.1h1.0M93.7 89.0h1.0M94.0 86.8h1.0M102.7 101.5h1.0M88.5 95.0h1.0M97.3 92.8h1.0M83.4 100.5h1.0M86.7 88.7h1.0M86.0 97.9h1.0M87.1 93.7h1.0M85.1 87.4h1.0M86.7 98.8h1.0M89.1 83.2h1.0M87.1 98.0h1.0M92.6 87.4h1.0M88.9 96.4h1.0M89.3 103.1h1.0M96.6 97.4h1.0M90.9 89.4h1.0M90.1 93.3h1.0M89.3 91.0h1.0M89.7 85.4h1.0M92.2 85.9h1.0M85.4 93.8h1.0M95.0 97.2h1.0M97.1 81.3h1.0M95.0 93.0h1.0M86.9 97.0h1.0M81.6 94.2h1.0M87.2 86.5h1.0M90.1 100.6h1.0M93.4 85.1h1.0M88.5 97.9h1.0M87.9 103.2h1.0M96.8 79.4h1.0M86.1 95.2h1.0M94.6 95.6h1.0M93.8 95.0h1.0M82.8 88.1h1.0M90.7 91.3h1.0M86.6 83.8h1.0M84.7 94.3h1.0M80.3 97.1h1.0M81.7 88.8h1.0M91.4 87.0h1.0M87.5 90.1h1.0M90.7 93.3h1.0M84.1 93.8h1.0M87.8 92.6h1.0M88.0 93.8h1.0M81.8 84.3h1.0M81.2 74.6h1.0M91.5 97.6h1.0M90.1 103.1h1.0M84.8 83.6h1.0M88.9 88.8h1.0M92.6 95.4h1.0M98.3 99.9h1.0M85.0 97.8h1.0M92.4 102.1h1.0M99.7 93.0h1.0M89.7 96.2h1.0M96.5 96.2h1.0M76.7 90.4h1.0M96.5 101.6h1.0M89.3 97.6h1.0M80.2 100.0h1.0M93.2 90.6h1.0M94.5 100.4h1.0M95.3 86.1h1.0M95.2 96.0h1.0M89.2 75.4h1.0M85.7 86.4h1.0M87.1 98.4h1.0M89.2 90.2h1.0M91.3 94.5h1.0M87.0 82.2h1.0M89.6 103.9h1.0M93.7 97.4h1.0M90.9 93.1h1.0M100.6 96.2h1.0M99.9 95.6h1.0M83.7 103.0h1.0M86.6 94.8h1.0M82.9 83.2h1.0M83.6 91.6h1.0M92.0 102.1h1.0M84.5 97.2h1.0M84.2 90.4h1.0M88.0 97.5h1.0M93.3 94.1h1.0M87.6 97.5h1.0M87.6 82.4h1.0M93.9 87.2h1.0M91.7 97.9h1.0M91.6 91.8h1.0M94.0 95.7h1.0M84.4 103.7h1.0M90.4 91.2h1.0M86.2 95.0h1.0M94.4 89.5h1.0M93.4 89.0h1.0M84.2 92.8h1.0M95.9 83.4h1.0M83.6 78.9h1.0M95.1 102.6h1.0M90.4 92.6h1.0M85.1 101.0h1.0M83.9 94.1h1.0M87.9 94.3h1.0M89.2 97.9h1.0M85.9 98.2h1.0M92.1 85.1h1.0M82.5 101.6h1.0M89.3 86.7h1.0M89.4 94.7h1.0M80.1 102.9h1.0M90.9 93.9h1.0M83.1 103.1h1.0M77.1 90.9h1.0M86.3 97.5h1.0M88.2 93.7h1.0M93.8 96.2h1.0M87.0 87.5h1.0M96.6 87.0h1.0M96.4 95.6h1.0M94.7 82.6h1.0M95.9 87.5h1.0M91.1 97.7h1.0M86.6 89.1h1.0M92.5 87.2h1.0M94.1 85.7h1.0M90.5 94.3h1.0M88.1 90.8h1.0M81.6 94.3h1.0M92.7 92.0h1.0M91.1 102.8h1.0M82.9 90.3h1.0M89.8 79.9h1.0M92.9 94.1h1.0M88.8 93.3h1.0M93.2 94.4h1.0M93.1 82.3h1.0M82.1 101.0h1.0M87.9 93.1h1.0M91.7 93.0h1.0M93.9 82.5h1.0M96.3 96.5h1.0M79.9 92.9h1.0M89.0 102.5h1.0M92.9 90.5h1.0M95.4 84.9h1.0M97.7 94.2h1.0M84.7 87.1h1.0M87.5 96.1h1.0M84.1 85.9h1.0M93.4 92.4h1.0M82.8 91.8h1.0M95.2 93.1h1.0M94.0 89.8h1.0M91.8 87.8h1.0M78.6 92.9h1.0M86.0 89.4h1.0M93.0 94.4h1.0M82.4 91.5h1.0M88.2 78.0h1.0M88.8 92.9h1.0M93.7 102.8h1.0M90.7 95.4h1.0M90.7 97.4h1.0M87.2 96.4h1.0M89.4 90.1h1.0M88.7 84.3h1.0M92.9 98.8h1.0M88.5 100.5h1.0M94.5 97.2h1.0M81.0 96.2h1.0M95.3 96.0h1.0M88.5 93.1h1.0M94.9 95.2h1.0M89.8 93.4h1.0M93.6 95.5h1.0M96.7 86.9h1.0M86.6 89.1h1.0M89.7 97.2h1.0M88.5 91.0h1.0M90.4 77.0h1.0M81.3 94.2h1.0M88.5 77.9h1.0M88.1 103.3h1.0M85.5 98.2h1.0M88.4 97.9h1.0M81.7 88.8h1.0M96.2 85.7h1.0M91.5 91.9h1.0M98.6 93.5h1.0M85.0 88.1h1.0M83.6 94.4h1.0M90.7 98.0h1.0M81.1 97.4h1.0M90.5 86.3h1.0M85.9 78.8h1.0M87.7 93.4h1.0M90.6 88.9h1.0M89.6 96.4h1.0M98.5 103.5h1.0M92.5 102.7h1.0M82.9 95.3h1.0M94.2 100.8h1.0" stroke="#000" stroke-width="1.0" stroke-opacity="0.55" fill="none"/>
<path d="M90.7 58.2h1.0M86.4 51.8h1.0M93.3 53.2h1.0M92.3 55.2h1.0M82.9 49.9h1.0M91.8 55.3h1.0M86.1 54.1h1.0M92.9 51.3h1.0M89.6 50.5h1.0M87.5 55.9h1.0M90.3 58.6h1.0M85.6 56.0h1.0M88.9 50.5h1.0M89.2 58.0h1.0M87.1 55.3h1.0M89.2 57.3h1.0M83.9 59.9h1.0M89.8 50.3h1.0M83.1 53.8h1.0M90.1 51.7h1.0M89.5 50.4h1.0M90.4 63.9h1.0M85.6 58.9h1.0M99.3 46.2h1.0M86.9 56.5h1.0M88.3 51.9h1.0M84.9 59.9h1.0M93.2 54.9h1.0M85.9 53.7h1.0M91.5 55.2h1.0M84.1 56.3h1.0M88.9 54.6h1.0M86.3 53.5h1.0M91.3 53.8h1.0M86.7 56.9h1.0M84.5 49.2h1.0M89.5 54.5h1.0M83.2 53.9h1.0M84.1 52.2h1.0M90.7 57.9h1.0M80.7 48.5h1.0M90.7 52.8h1.0M86.3 50.5h1.0M84.3 57.0h1.0M88.7 52.3h1.0M90.2 54.7h1.0M85.6 56.3h1.0M87.1 47.0h1.0M90.8 56.6h1.0M90.7 51.0h1.0M87.6 53.3h1.0M84.9 54.0h1.0M84.2 58.3h1.0M85.6 57.9h1.0M90.4 62.7h1.0M90.0 55.3h1.0M89.0 52.3h1.0M93.1 52.2h1.0M86.7 57.6h1.0M86.4 62.0h1.0M86.4 56.1h1.0M95.1 51.8h1.0M80.1 55.8h1.0M89.0 55.7h1.0M89.5 54.7h1.0M88.1 51.0h1.0M96.7 42.6h1.0M92.3 52.0h1.0M90.8 59.4h1.0M84.5 55.5h1.0M89.8 44.2h1.0M86.5 54.5h1.0M88.1 45.9h1.0M88.6 63.8h1.0M86.1 55.4h1.0M90.3 48.9h1.0M94.0 58.2h1.0M91.8 50.8h1.0M88.7 57.1h1.0M80.6 54.6h1.0M92.0 49.0h1.0M92.0 57.6h1.0M87.2 48.2h1.0M86.1 60.8h1.0M90.4 54.8h1.0M84.9 49.7h1.0M90.9 46.0h1.0M83.9 62.0h1.0M84.5 61.3h1.0M88.0 48.6h1.0M82.5 62.2h1.0M87.9 55.3h1.0M89.9 53.5h1.0M83.0 54.1h1.0M91.4 53.2h1.0M85.8 61.2h1.0M90.0 55.2h1.0M88.8 45.9h1.0M86.2 64.3h1.0M86.0 58.6h1.0M81.5 49.4h1.0M85.3 52.8h1.0M85.1 50.3h1.0M94.1 54.7h1.0M91.8 56.3h1.0M82.8 55.6h1.0M91.0 51.7h1.0M88.8 50.8h1.0M86.5 58.5h1.0M89.7 54.0h1.0M124.4 57.9h1.0M84.4 84.5h1.0M105.3 42.3h1.0M95.6 82.8h1.0M85.1 74.2h1.0M112.8 61.4h1.0M96.6 54.6h1.0M83.3 88.0h1.0M90.8 101.7h1.0M108.3 62.4h1.0M79.0 79.0h1.0M113.0 99.7h1.0M104.0 59.4h1.0M91.4 65.7h1.0M112.7 49.2h1.0M117.9 67.5h1.0M102.8 68.6h1.0M97.2 62.9h1.0M119.2 57.4h1.0M114.6 43.0h1.0M82.9 47.0h1.0M92.3 53.3h1.0M92.2 81.0h1.0M89.6 61.3h1.0M75.4 55.4h1.0M106.8 81.2h1.0M96.1 79.6h1.0M96.3 57.1h1.0M113.5 59.3h1.0M87.6 81.3h1.0M94.3 76.2h1.0M98.6 55.7h1.0M89.3 74.1h1.0M93.5 69.5h1.0M105.1 89.1h1.0M94.9 55.1h1.0M112.5 85.1h1.0M85.1 77.4h1.0M97.7 52.7h1.0M76.3 88.1h1.0M93.4 85.6h1.0M85.8 47.4h1.0M112.9 102.4h1.0M104.8 50.3h1.0M101.7 54.2h1.0M119.3 64.5h1.0M114.0 83.2h1.0M104.5 80.0h1.0M85.9 68.4h1.0M76.0 93.5h1.0M94.6 77.0h1.0M90.3 94.0h1.0M86.5 103.5h1.0M91.2 73.3h1.0M114.6 62.2h1.0M80.0 51.5h1.0M86.1 71.6h1.0M102.5 71.7h1.0M73.5 48.8h1.0M107.2 50.1h1.0M107.4 65.4h1.0M90.9 66.6h1.0M88.7 86.8h1.0M70.6 70.5h1.0M113.3 69.8h1.0M95.7 75.1h1.0M85.3 52.3h1.0M83.0 69.1h1.0M102.6 88.0h1.0M114.9 88.7h1.0M78.2 78.0h1.0M87.4 65.1h1.0M71.7 55.7h1.0M103.9 93.0h1.0M97.1 79.1h1.0M124.9 62.6h1.0M89.2 54.8h1.0M85.7 80.2h1.0M108.9 77.1h1.0M115.3 101.0h1.0M124.6 57.3h1.0M123.3 66.5h1.0M137.5 68.5h1.0M77.7 98.4h1.0M94.2 91.9h1.0M114.9 86.6h1.0M122.8 97.6h1.0M128.7 79.9h1.0M97.3 69.6h1.0M94.3 58.9h1.0M105.6 64.8h1.0M94.9 56.7h1.0M96.3 49.0h1.0M113.1 42.3h1.0M92.4 47.6h1.0M120.8 55.0h1.0M83.2 91.8h1.0M104.1 90.7h1.0M96.9 59.6h1.0M111.7 40.7h1.0M137.6 45.1h1.0M133.6 80.8h1.0M124.4 50.3h1.0M132.3 72.4h1.0M102.6 49.1h1.0M87.6 94.7h1.0M137.1 64.4h1.0M68.3 62.5h1.0M61.8 54.3h1.0M63.5 49.2h1.0M68.9 51.9h1.0M62.1 42.9h1.0M75.3 39.0h1.0M68.1 61.1h1.0M57.6 73.1h1.0M49.0 46.4h1.0M57.5 60.4h1.0M64.5 63.0h1.0M72.1 36.7h1.0M63.7 76.6h1.0M57.1 74.8h1.0M51.9 72.5h1.0M63.4 65.2h1.0M75.5 75.2h1.0M59.2 74.8h1.0M54.2 73.4h1.0M53.2 73.2h1.0M75.7 70.3h1.0M59.7 68.0h1.0M64.9 74.3h1.0M69.8 75.1h1.0M68.6 65.9h1.0M52.6 73.7h1.0M67.6 71.0h1.0M66.8 73.6h1.0M63.9 71.1h1.0M68.1 74.5h1.0M55.5 74.1h1.0M59.4 73.6h1.0M55.8 64.5h1.0M66.1 73.3h1.0M54.8 70.2h1.0M63.1 65.6h1.0M51.2 72.9h1.0M59.0 64.6h1.0M57.1 73.6h1.0M59.1 76.8h1.0M61.1 68.1h1.0M58.5 73.7h1.0M58.2 71.9h1.0M49.6 72.7h1.0M68.8 64.7h1.0M55.0 72.5h1.0M58.0 70.6h1.0M53.4 73.0h1.0M68.0 70.1h1.0M52.8 74.4h1.0M64.0 71.2h1.0M69.4 72.8h1.0" stroke="#000" stroke-width="1.0" stroke-opacity="0.4" fill="none"/>
<path d="M167.3 99.5h1.0M172.6 96.2h1.0M167.6 83.5h1.0M169.5 103.9h1.0M162.8 91.9h1.0M171.2 94.0h1.0M174.1 98.9h1.0M165.7 98.0h1.0M171.3 104.7h1.0M168.9 92.5h1.0M159.1 98.5h1.0M168.5 99.3h1.0M174.7 97.5h1.0M163.1 102.2h1.0M158.3 95.5h1.0M167.5 104.4h1.0M162.1 92.2h1.0M178.4 86.9h1.0M165.9 97.0h1.0M166.2 103.5h1.0M162.2 93.6h1.0M167.8 92.8h1.0M162.6 94.8h1.0M160.4 98.5h1.0M165.8 96.0h1.0M161.0 99.5h1.0M174.7 84.9h1.0M158.8 104.6h1.0M165.8 101.5h1.0M161.8 91.1h1.0M157.4 104.8h1.0M176.8 100.5h1.0M158.3 103.5h1.0M175.5 88.8h1.0M157.2 104.1h1.0M166.8 97.6h1.0M180.7 82.5h1.0M158.4 102.7h1.0M157.5 95.1h1.0M174.6 90.0h1.0M167.3 95.7h1.0M162.7 83.3h1.0M166.0 101.5h1.0M160.1 95.7h1.0M167.0 95.4h1.0M175.8 104.7h1.0M163.8 97.6h1.0M167.1 92.5h1.0M173.9 90.4h1.0M178.9 96.9h1.0M162.5 104.6h1.0M168.1 93.1h1.0M162.6 89.8h1.0M162.1 103.9h1.0M163.7 97.7h1.0M162.2 97.1h1.0M158.5 103.4h1.0M158.0 88.5h1.0M161.6 98.7h1.0M167.1 84.5h1.0M174.0 95.1h1.0M162.9 101.5h1.0M165.2 104.3h1.0M170.4 88.1h1.0M170.9 103.3h1.0M165.5 102.9h1.0M165.9 96.4h1.0M178.2 103.7h1.0M164.1 97.3h1.0M163.1 90.9h1.0M157.0 100.4h1.0M169.0 83.9h1.0M164.6 104.3h1.0M178.4 104.4h1.0M164.1 94.4h1.0M171.4 101.7h1.0M172.2 101.2h1.0M176.7 103.5h1.0M157.9 92.9h1.0M176.2 88.0h1.0M166.3 82.6h1.0M165.6 95.2h1.0M164.3 86.0h1.0M163.7 96.0h1.0M164.0 100.2h1.0M157.3 94.1h1.0M169.5 90.5h1.0M166.6 104.6h1.0M160.2 95.9h1.0M165.8 99.0h1.0M180.8 104.1h1.0M168.6 87.9h1.0M163.8 90.6h1.0M177.1 104.1h1.0M161.2 96.2h1.0M165.3 89.8h1.0M162.7 95.5h1.0M164.7 93.2h1.0M170.9 88.4h1.0M169.9 94.3h1.0M161.6 97.1h1.0M165.4 97.2h1.0M166.8 101.2h1.0M163.6 84.8h1.0M166.0 86.5h1.0M161.6 103.0h1.0M161.6 94.1h1.0M166.5 103.8h1.0M159.7 99.5h1.0M168.9 87.1h1.0M165.0 101.2h1.0M160.4 90.0h1.0M162.3 99.2h1.0M163.2 104.3h1.0M165.2 103.6h1.0M166.9 96.8h1.0M164.9 102.3h1.0M160.7 99.5h1.0M175.3 103.0h1.0M171.9 78.9h1.0M166.9 94.5h1.0M172.2 99.4h1.0M168.3 100.7h1.0M164.6 91.9h1.0M166.7 103.2h1.0M183.0 103.4h1.0M172.5 97.8h1.0M172.8 95.7h1.0M163.7 94.7h1.0M170.0 98.3h1.0M180.5 104.5h1.0M168.9 104.2h1.0M173.0 93.9h1.0M174.1 90.6h1.0M170.3 91.6h1.0M176.1 104.4h1.0M167.6 98.9h1.0M169.3 99.4h1.0M162.2 100.8h1.0M182.8 100.0h1.0M168.1 96.4h1.0M166.9 89.8h1.0M174.9 92.8h1.0M163.1 98.2h1.0M166.2 100.1h1.0M161.3 94.6h1.0M166.3 94.3h1.0M163.7 103.5h1.0M169.6 93.9h1.0M165.4 98.9h1.0M162.4 95.0h1.0M164.3 91.1h1.0M165.4 86.4h1.0M163.0 93.4h1.0M172.1 91.4h1.0M170.4 103.4h1.0M167.1 89.1h1.0M158.7 94.3h1.0M169.4 102.0h1.0M158.1 96.5h1.0M167.3 100.8h1.0M166.5 103.3h1.0M162.5 85.4h1.0M161.0 94.3h1.0M161.8 90.4h1.0M179.1 104.0h1.0M164.5 96.4h1.0M164.9 100.8h1.0M172.2 103.7h1.0M168.8 94.7h1.0M172.8 97.8h1.0M158.5 100.2h1.0M159.3 95.4h1.0M187.1 104.3h1.0M165.9 103.1h1.0M164.4 104.5h1.0M167.2 97.6h1.0M172.4 94.8h1.0M158.7 94.8h1.0M168.0 94.7h1.0M166.0 85.6h1.0M170.4 99.9h1.0M167.3 103.1h1.0M162.8 97.2h1.0M160.7 93.7h1.0M158.2 97.5h1.0M172.3 98.9h1.0M158.3 99.6h1.0M163.6 103.6h1.0M176.6 91.2h1.0M163.6 99.9h1.0M170.0 102.2h1.0M164.9 97.8h1.0M170.5 95.6h1.0M166.4 90.0h1.0M163.0 93.0h1.0M174.6 102.3h1.0M164.5 103.5h1.0M157.8 92.6h1.0M164.1 100.6h1.0M169.5 101.0h1.0M159.2 104.4h1.0M171.1 99.0h1.0M171.0 100.4h1.0M179.4 103.6h1.0M162.2 89.0h1.0M170.3 97.6h1.0M157.6 84.7h1.0M163.6 83.3h1.0M166.8 91.4h1.0M168.7 86.3h1.0M165.8 100.9h1.0M165.6 104.3h1.0M162.3 95.1h1.0M163.4 96.3h1.0M168.1 95.6h1.0M169.7 95.4h1.0M170.2 98.2h1.0M172.4 99.7h1.0M173.6 94.0h1.0M157.8 91.7h1.0M162.9 93.6h1.0M165.2 102.9h1.0M162.1 94.3h1.0M172.7 103.6h1.0M170.8 95.5h1.0M165.5 103.7h1.0M166.9 88.8h1.0M174.0 92.3h1.0M164.0 100.6h1.0M164.2 100.7h1.0M171.8 96.1h1.0M169.1 104.0h1.0M175.0 97.8h1.0M168.5 99.3h1.0M170.8 93.2h1.0M162.8 104.7h1.0M160.3 103.3h1.0M166.1 100.2h1.0M157.3 85.7h1.0M168.7 99.8h1.0M172.2 94.0h1.0M166.6 100.0h1.0M164.8 103.7h1.0M172.9 92.0h1.0M165.9 98.8h1.0M172.3 103.4h1.0M179.8 98.4h1.0M170.7 94.9h1.0M172.0 89.8h1.0M169.2 92.5h1.0M167.7 88.3h1.0M167.9 104.2h1.0M166.6 98.0h1.0M172.9 88.7h1.0M157.7 97.2h1.0M164.5 88.2h1.0M170.3 74.1h1.0M160.9 103.7h1.0M165.5 103.4h1.0M161.9 86.9h1.0M168.9 92.2h1.0M171.5 98.7h1.0M175.2 94.5h1.0M169.3 91.2h1.0M161.7 93.6h1.0M167.7 95.5h1.0M169.7 93.3h1.0M174.9 98.7h1.0M158.5 95.6h1.0M168.5 91.9h1.0M157.6 97.4h1.0M170.6 85.5h1.0M168.9 103.4h1.0M169.3 85.0h1.0M171.7 96.6h1.0M168.6 99.6h1.0M162.2 100.1h1.0M168.4 99.0h1.0M173.6 104.2h1.0M165.5 89.3h1.0M166.3 96.7h1.0M158.6 98.2h1.0M173.4 93.7h1.0M163.0 93.0h1.0M161.6 104.5h1.0M163.4 92.2h1.0M160.8 93.8h1.0M164.6 95.3h1.0M174.1 95.7h1.0M171.1 98.3h1.0M175.0 95.7h1.0M175.4 99.8h1.0M160.6 98.1h1.0M169.2 100.5h1.0M175.5 103.4h1.0M180.4 91.3h1.0M157.4 104.6h1.0M157.3 94.0h1.0M169.1 101.8h1.0M164.1 98.3h1.0M160.0 95.1h1.0M168.5 83.5h1.0M161.3 104.1h1.0M158.2 91.9h1.0M166.0 91.7h1.0M166.9 104.6h1.0M170.1 97.7h1.0M172.0 103.9h1.0M167.3 103.5h1.0M164.7 102.1h1.0M162.0 98.9h1.0M157.8 102.5h1.0M163.4 88.0h1.0M172.3 98.4h1.0M170.2 98.2h1.0M178.9 93.9h1.0M165.2 98.9h1.0M157.7 87.0h1.0M171.3 103.5h1.0M172.6 104.3h1.0M158.9 88.1h1.0M157.9 98.2h1.0M167.1 104.0h1.0M170.6 100.1h1.0M159.2 90.0h1.0M164.0 90.3h1.0M161.3 103.1h1.0M158.8 104.0h1.0M158.0 89.6h1.0M167.0 97.4h1.0M163.8 91.7h1.0M162.0 95.2h1.0M158.0 99.3h1.0M177.0 96.9h1.0M160.3 92.4h1.0M165.3 104.0h1.0M159.1 96.0h1.0M168.5 95.9h1.0M158.0 104.1h1.0M166.7 97.2h1.0M164.9 95.7h1.0M171.8 103.7h1.0M159.3 90.0h1.0M162.1 102.3h1.0M164.6 104.3h1.0M179.1 101.7h1.0M158.2 95.9h1.0M167.9 97.1h1.0M162.0 85.2h1.0M168.0 96.2h1.0M170.1 99.1h1.0M167.0 103.2h1.0M167.7 98.1h1.0M167.8 94.4h1.0M162.4 91.3h1.0M164.7 96.8h1.0M157.3 98.1h1.0M163.9 104.3h1.0M161.3 97.2h1.0M164.5 93.7h1.0M170.6 96.4h1.0M168.4 93.8h1.0M169.0 95.5h1.0M172.9 81.8h1.0M157.5 86.1h1.0M168.7 88.9h1.0M165.9 100.4h1.0M165.4 96.6h1.0M157.9 98.1h1.0M169.5 103.5h1.0M173.2 89.9h1.0M172.4 103.9h1.0M165.5 99.8h1.0M170.0 92.2h1.0M171.8 103.4h1.0M177.4 87.2h1.0M173.7 89.3h1.0M166.9 95.7h1.0M166.6 99.9h1.0M167.1 95.8h1.0M167.4 82.3h1.0M163.0 95.1h1.0M170.8 96.5h1.0M161.7 104.0h1.0M161.1 103.4h1.0M168.2 98.0h1.0M162.5 89.6h1.0M164.5 99.5h1.0M158.1 89.1h1.0M171.0 98.5h1.0M166.0 99.7h1.0M165.2 94.3h1.0M168.9 98.8h1.0M167.3 94.8h1.0M161.7 93.2h1.0M178.5 103.5h1.0M163.2 101.1h1.0M172.1 95.0h1.0M177.4 91.8h1.0M162.2 98.3h1.0M166.6 101.0h1.0M160.9 103.0h1.0M172.5 104.4h1.0M163.9 100.3h1.0M159.2 89.4h1.0M174.2 103.3h1.0M171.7 104.3h1.0M160.5 102.9h1.0M173.4 103.7h1.0M167.2 86.8h1.0M182.9 94.5h1.0M176.7 93.6h1.0M162.6 103.9h1.0M164.3 89.0h1.0M160.6 94.9h1.0M166.8 104.3h1.0M166.3 101.6h1.0M170.6 94.4h1.0M166.5 104.6h1.0M157.1 87.9h1.0M161.0 100.2h1.0M174.8 95.5h1.0M173.2 100.6h1.0M165.0 95.2h1.0M165.2 91.3h1.0M165.0 98.6h1.0M166.1 88.0h1.0M157.0 100.8h1.0M171.6 94.9h1.0M161.9 103.5h1.0M166.9 94.0h1.0M157.8 92.5h1.0M167.5 99.8h1.0M174.3 104.0h1.0M157.2 82.8h1.0M175.4 97.9h1.0M168.9 101.4h1.0M161.5 87.3h1.0M157.1 91.0h1.0M173.2 101.5h1.0M167.6 91.4h1.0M169.7 92.7h1.0M164.3 104.8h1.0M161.1 90.6h1.0M171.4 91.1h1.0M160.1 81.1h1.0M171.6 89.5h1.0M157.9 88.6h1.0M160.3 103.7h1.0M158.3 104.1h1.0M174.1 88.3h1.0M158.1 104.4h1.0M158.9 102.4h1.0M170.1 95.8h1.0M167.4 102.6h1.0M179.6 99.7h1.0M177.4 91.8h1.0M169.8 84.9h1.0M170.3 90.8h1.0M157.1 97.0h1.0M160.5 94.6h1.0M164.0 92.0h1.0M164.9 103.8h1.0M157.5 89.7h1.0M160.2 103.2h1.0M160.7 93.7h1.0M172.6 97.8h1.0M168.6 89.3h1.0M163.9 97.0h1.0M164.3 91.7h1.0M167.8 85.0h1.0M161.7 96.9h1.0M164.4 96.7h1.0M157.9 102.8h1.0M170.2 99.0h1.0M172.0 90.1h1.0M168.3 92.8h1.0M169.0 79.9h1.0M168.3 89.3h1.0M178.7 104.3h1.0M167.3 104.2h1.0M157.8 102.3h1.0M159.5 99.1h1.0M170.4 101.1h1.0M172.6 100.4h1.0M170.8 85.1h1.0M171.2 91.0h1.0M167.2 104.6h1.0M158.0 103.5h1.0M161.6 98.7h1.0M158.1 94.9h1.0M163.6 94.4h1.0M157.5 93.3h1.0M166.6 90.6h1.0M164.9 83.7h1.0M157.2 98.1h1.0M170.5 93.9h1.0M170.7 95.6h1.0M157.3 104.4h1.0M166.9 101.1h1.0M170.4 92.2h1.0M164.2 101.1h1.0M171.3 86.6h1.0M167.1 104.3h1.0M172.7 98.9h1.0M167.1 95.7h1.0M164.9 101.0h1.0M169.1 104.5h1.0M170.8 93.8h1.0M167.5 90.2h1.0M163.1 103.3h1.0M161.0 97.1h1.0M163.6 104.2h1.0M162.4 92.4h1.0M167.2 99.7h1.0M167.0 92.6h1.0M165.4 101.4h1.0M165.9 95.1h1.0M167.0 92.4h1.0M175.7 104.6h1.0M173.4 99.4h1.0M162.3 83.0h1.0M168.6 95.4h1.0M163.9 90.7h1.0M165.3 88.6h1.0M164.4 93.0h1.0M162.0 93.7h1.0M157.4 97.3h1.0M158.2 91.5h1.0M167.2 84.1h1.0M173.3 93.3h1.0M160.2 103.1h1.0M169.1 87.6h1.0M163.5 101.3h1.0M167.6 100.2h1.0M160.8 93.9h1.0M164.4 99.2h1.0M165.2 91.8h1.0M157.3 94.2h1.0M167.2 89.9h1.0M165.0 100.2h1.0M157.1 104.2h1.0M170.0 92.3h1.0M165.7 104.7h1.0M167.2 82.2h1.0M168.1 90.9h1.0M163.3 90.0h1.0M159.1 104.1h1.0M163.1 92.9h1.0M163.2 102.4h1.0M179.8 82.8h1.0M177.4 97.8h1.0M162.8 100.9h1.0M163.3 96.8h1.0M167.9 78.1h1.0M169.4 98.2h1.0M161.5 102.7h1.0M159.6 104.1h1.0M178.0 99.8h1.0M172.5 85.2h1.0M157.5 95.6h1.0M157.8 103.3h1.0M160.6 91.3h1.0M167.2 100.9h1.0M169.3 93.7h1.0M163.7 97.6h1.0M158.2 102.3h1.0M167.2 92.1h1.0M169.6 104.3h1.0M165.8 98.1h1.0M162.7 99.4h1.0M169.4 91.8h1.0M165.5 97.4h1.0M158.7 95.1h1.0M166.4 86.8h1.0M157.6 86.3h1.0M171.9 99.0h1.0M168.8 96.4h1.0M159.5 78.6h1.0M167.1 82.0h1.0M173.7 94.8h1.0M157.4 96.5h1.0M164.9 101.2h1.0M176.2 88.3h1.0M158.0 101.1h1.0M164.7 94.8h1.0M157.6 93.5h1.0M165.4 96.0h1.0M157.4 103.9h1.0M158.4 100.9h1.0M162.4 103.2h1.0M166.7 92.2h1.0M168.2 95.0h1.0M168.5 88.9h1.0M173.1 93.1h1.0M170.2 94.2h1.0M170.5 93.7h1.0M159.6 102.0h1.0M164.8 100.0h1.0M186.0 102.3h1.0M180.2 97.9h1.0M171.1 104.5h1.0M170.5 97.8h1.0M172.1 103.8h1.0M163.2 100.5h1.0M178.3 102.1h1.0M163.4 96.5h1.0M165.3 88.3h1.0M179.7 86.9h1.0M157.3 104.2h1.0M168.1 99.7h1.0M157.4 100.1h1.0M161.6 95.8h1.0M165.2 93.8h1.0M163.6 103.6h1.0M166.9 89.2h1.0M160.9 96.6h1.0M165.1 96.6h1.0M158.2 89.1h1.0M163.3 88.1h1.0M158.0 92.1h1.0M170.0 94.6h1.0M157.5 93.6h1.0M170.2 102.7h1.0M163.2 88.7h1.0M163.9 99.8h1.0M173.4 103.4h1.0M166.5 103.3h1.0M157.4 89.0h1.0M169.0 76.3h1.0M158.2 102.9h1.0M167.5 100.5h1.0M163.2 92.9h1.0M158.0 104.6h1.0M166.3 94.2h1.0M163.8 97.8h1.0M178.7 89.7h1.0M163.0 99.2h1.0M178.3 94.0h1.0M174.7 93.5h1.0M161.9 104.6h1.0M160.6 98.5h1.0M174.3 86.5h1.0M164.9 101.8h1.0M166.8 102.9h1.0M164.2 91.2h1.0M158.0 94.2h1.0M163.4 97.4h1.0M159.6 95.3h1.0M157.4 97.9h1.0M163.9 101.5h1.0M177.3 93.6h1.0M176.2 103.5h1.0M165.4 92.0h1.0M166.7 93.2h1.0M169.1 104.1h1.0M174.6 104.6h1.0M167.9 97.3h1.0M162.7 95.7h1.0M163.3 89.5h1.0M173.1 104.6h1.0M182.6 98.2h1.0M161.8 91.1h1.0M157.4 99.8h1.0M171.0 103.8h1.0M165.3 101.8h1.0M166.7 104.6h1.0M173.8 104.6h1.0M166.2 100.1h1.0M157.2 96.8h1.0M158.3 100.9h1.0M165.5 104.4h1.0M158.3 103.0h1.0M167.7 104.4h1.0M157.6 98.6h1.0M163.5 102.4h1.0M158.0 103.6h1.0M163.5 95.8h1.0M162.9 87.9h1.0M169.7 103.7h1.0M174.5 101.1h1.0M164.6 93.9h1.0M160.2 98.6h1.0M178.5 95.3h1.0M168.2 85.1h1.0M169.8 95.7h1.0M169.8 87.0h1.0M175.2 98.4h1.0M172.4 96.2h1.0M170.2 103.9h1.0M170.8 96.2h1.0M160.3 99.6h1.0M161.9 94.9h1.0M165.1 94.3h1.0M166.4 87.2h1.0M165.9 103.9h1.0M167.8 98.2h1.0M166.0 92.9h1.0M163.1 98.5h1.0M157.7 94.1h1.0M171.3 91.9h1.0M169.6 98.7h1.0M160.1 103.7h1.0M169.1 95.1h1.0M168.4 87.0h1.0M166.3 92.7h1.0M157.5 103.7h1.0M158.0 91.3h1.0M161.9 103.8h1.0M176.3 95.3h1.0M160.3 102.2h1.0M163.6 96.3h1.0M158.6 86.0h1.0M162.6 94.1h1.0M168.1 104.6h1.0M157.0 96.1h1.0M158.0 101.0h1.0M170.1 94.6h1.0M166.1 96.1h1.0M161.9 99.3h1.0M172.1 100.3h1.0M172.1 104.1h1.0M157.9 96.9h1.0M164.7 95.7h1.0M173.0 92.4h1.0M161.5 87.8h1.0M163.8 85.7h1.0M172.0 101.6h1.0M164.1 84.0h1.0M158.1 103.8h1.0M161.4 103.0h1.0M157.2 94.9h1.0M169.4 88.9h1.0M157.7 97.2h1.0M172.3 97.2h1.0M157.2 103.9h1.0M166.1 91.8h1.0M157.4 94.4h1.0M163.8 96.6h1.0M172.5 95.1h1.0M173.1 92.6h1.0M174.3 85.0h1.0M165.3 85.5h1.0M166.5 92.3h1.0M167.3 95.4h1.0M169.8 104.0h1.0M163.2 104.0h1.0M173.0 104.8h1.0M167.9 99.8h1.0M173.3 103.4h1.0M168.9 96.2h1.0M170.2 93.3h1.0M161.1 104.5h1.0M163.1 89.6h1.0M157.4 94.1h1.0M163.9 95.2h1.0M164.7 103.3h1.0M171.3 92.9h1.0M157.6 102.5h1.0M186.8 94.2h1.0M165.0 88.5h1.0M174.0 98.7h1.0M172.6 98.2h1.0M158.2 88.9h1.0M164.1 91.0h1.0M175.4 91.5h1.0M157.6 103.8h1.0M170.8 100.3h1.0M159.9 98.7h1.0M162.8 100.5h1.0M167.3 93.7h1.0M157.8 100.4h1.0M167.1 92.8h1.0M161.6 87.7h1.0M161.0 92.1h1.0M170.4 98.5h1.0M188.6 97.7h1.0M168.1 104.4h1.0M169.4 85.2h1.0M165.5 95.5h1.0M161.1 99.8h1.0M167.5 90.3h1.0M175.7 98.8h1.0M167.0 94.2h1.0M171.6 89.1h1.0M164.3 104.5h1.0M182.2 87.3h1.0M157.0 104.0h1.0M169.6 94.1h1.0M169.3 90.5h1.0M167.5 90.9h1.0M158.5 91.9h1.0M158.4 91.1h1.0M164.3 98.9h1.0M166.4 84.0h1.0M157.9 104.1h1.0M158.9 102.9h1.0M169.4 104.7h1.0M172.5 90.2h1.0M162.1 80.8h1.0M161.2 92.7h1.0M161.1 95.9h1.0M181.9 99.2h1.0M169.0 93.4h1.0M165.3 96.5h1.0M172.3 98.1h1.0M180.7 86.2h1.0M173.4 104.5h1.0M157.1 89.2h1.0M165.2 98.9h1.0M163.1 104.6h1.0M163.5 91.6h1.0M157.8 97.1h1.0M163.2 104.0h1.0M158.7 95.1h1.0M168.0 104.4h1.0M166.0 99.1h1.0M158.0 98.7h1.0M158.4 102.1h1.0M162.6 95.5h1.0M170.0 95.6h1.0M169.0 103.8h1.0M165.3 98.9h1.0M157.4 100.6h1.0M162.5 88.7h1.0M160.9 97.2h1.0M163.6 103.5h1.0M157.8 103.4h1.0M162.9 99.5h1.0M161.4 93.5h1.0M183.4 92.8h1.0M170.3 100.2h1.0M164.5 103.9h1.0M165.4 97.4h1.0M165.0 104.8h1.0M167.0 95.0h1.0M163.1 104.3h1.0M165.6 90.1h1.0M172.4 98.4h1.0M171.2 89.6h1.0M167.8 101.7h1.0M174.4 101.1h1.0M167.2 90.5h1.0M159.3 91.9h1.0M158.5 94.0h1.0M161.2 86.7h1.0M165.3 90.6h1.0M168.3 91.1h1.0M172.8 102.6h1.0M162.0 103.7h1.0M160.5 94.0h1.0M170.8 95.1h1.0M173.4 98.6h1.0M162.6 93.5h1.0M167.9 95.2h1.0M174.7 103.0h1.0M167.8 98.7h1.0M165.4 96.5h1.0M158.0 93.1h1.0M174.4 103.7h1.0M169.9 92.8h1.0M166.6 98.0h1.0M162.7 89.9h1.0M157.6 92.9h1.0M165.1 97.8h1.0M165.0 94.3h1.0M172.9 100.8h1.0M157.8 97.6h1.0M175.1 87.4h1.0M166.0 81.0h1.0M173.5 104.1h1.0M159.4 93.0h1.0M168.0 103.4h1.0M173.7 97.2h1.0M166.5 91.8h1.0M157.8 101.0h1.0M163.6 95.2h1.0M169.2 97.2h1.0M157.2 90.6h1.0M157.1 101.6h1.0M167.3 104.8h1.0M159.5 93.4h1.0M170.2 103.9h1.0M158.1 93.1h1.0M157.3 98.8h1.0M160.7 85.7h1.0M175.5 83.7h1.0M160.1 103.4h1.0M165.7 103.3h1.0M167.3 104.0h1.0M159.6 85.2h1.0M172.9 98.7h1.0M166.9 100.0h1.0M168.6 97.6h1.0M157.9 99.2h1.0M157.2 90.7h1.0M158.2 96.0h1.0M164.5 89.1h1.0M164.3 94.6h1.0M170.5 99.7h1.0M175.4 91.6h1.0M164.1 95.2h1.0M164.0 94.1h1.0M168.7 97.2h1.0M175.7 103.5h1.0M160.4 98.7h1.0M169.8 99.8h1.0M164.1 87.0h1.0M163.6 94.5h1.0M171.1 102.8h1.0M160.6 91.1h1.0M158.8 94.0h1.0M170.1 90.3h1.0M165.6 104.2h1.0M164.0 93.9h1.0M164.9 92.0h1.0M169.0 101.4h1.0M163.4 104.8h1.0M170.7 100.5h1.0M168.5 103.9h1.0M175.4 98.5h1.0M174.0 96.2h1.0M171.3 94.0h1.0M164.4 93.5h1.0M166.5 92.9h1.0M161.9 99.6h1.0M184.3 96.3h1.0M164.3 97.7h1.0M169.4 101.3h1.0M174.6 96.7h1.0M158.1 87.5h1.0M160.4 91.5h1.0M163.2 89.2h1.0M159.3 83.7h1.0M157.5 97.8h1.0M162.4 88.7h1.0M174.2 88.1h1.0M170.5 89.5h1.0M166.0 103.2h1.0M166.0 94.9h1.0M157.6 104.0h1.0M170.3 96.4h1.0M168.6 94.0h1.0M158.8 101.0h1.0M167.1 101.2h1.0M164.5 97.8h1.0M162.4 89.8h1.0M159.4 93.8h1.0M161.4 88.8h1.0M159.7 95.2h1.0M168.8 97.7h1.0M168.2 103.6h1.0M167.9 104.6h1.0M164.6 101.8h1.0M163.1 103.7h1.0M179.1 98.6h1.0M158.5 103.8h1.0M173.6 104.3h1.0M168.1 104.2h1.0M166.3 99.7h1.0M162.5 99.9h1.0M164.4 104.4h1.0M158.1 98.3h1.0M157.3 99.2h1.0M165.1 90.1h1.0M157.8 103.6h1.0M171.3 98.0h1.0M173.1 102.7h1.0M158.3 95.5h1.0M157.7 84.6h1.0M167.6 100.5h1.0M167.2 104.3h1.0M166.5 88.1h1.0M168.6 90.2h1.0M170.7 94.9h1.0M171.4 95.3h1.0M177.5 85.1h1.0M166.0 104.1h1.0M171.4 104.1h1.0M157.6 92.7h1.0M165.0 84.3h1.0M157.9 99.5h1.0M174.9 104.2h1.0M181.0 102.8h1.0M169.3 104.0h1.0M157.4 90.4h1.0M165.1 98.6h1.0M166.0 86.5h1.0M167.1 103.7h1.0M172.9 101.0h1.0M172.0 82.3h1.0M158.1 84.1h1.0M174.7 100.4h1.0M162.6 98.0h1.0M162.2 94.8h1.0M175.0 101.3h1.0M164.1 104.8h1.0M158.4 99.6h1.0M157.2 84.4h1.0M166.2 95.9h1.0M171.7 87.8h1.0M175.6 91.4h1.0M164.7 99.3h1.0M162.8 95.8h1.0M176.4 89.5h1.0M162.9 96.8h1.0M175.3 91.3h1.0M167.4 100.7h1.0M167.4 95.3h1.0M164.3 99.7h1.0M167.8 95.1h1.0M162.8 102.2h1.0M161.4 96.0h1.0M165.0 96.9h1.0M161.6 93.0h1.0M167.8 97.9h1.0M166.4 84.5h1.0M164.1 104.3h1.0M164.6 92.2h1.0M164.4 97.6h1.0M177.2 93.6h1.0M165.8 93.5h1.0M162.0 99.7h1.0M163.9 93.4h1.0M170.2 93.9h1.0M164.5 87.3h1.0M164.9 90.5h1.0M164.2 88.7h1.0M166.9 104.1h1.0M168.4 87.6h1.0M168.7 89.4h1.0M157.8 98.3h1.0M158.9 103.4h1.0M157.1 85.1h1.0M171.1 86.1h1.0M173.0 97.8h1.0M174.3 99.3h1.0M166.8 87.0h1.0M173.3 84.3h1.0M165.6 90.2h1.0M165.1 102.1h1.0M158.3 96.6h1.0M160.8 102.1h1.0M162.0 96.1h1.0M171.8 96.7h1.0M176.6 101.2h1.0M162.8 96.0h1.0M168.3 98.5h1.0M167.6 90.5h1.0M160.8 92.7h1.0M158.0 100.2h1.0M161.0 95.2h1.0M157.8 91.6h1.0M163.8 101.5h1.0M164.9 100.7h1.0M164.7 96.8h1.0M164.7 91.5h1.0M169.0 103.1h1.0M159.8 104.2h1.0M171.6 91.1h1.0M157.8 86.1h1.0M166.2 91.4h1.0M168.4 90.3h1.0M160.7 88.0h1.0M158.1 88.6h1.0M170.0 102.8h1.0M161.5 102.9h1.0M170.9 104.1h1.0M170.8 102.1h1.0M165.8 93.5h1.0M165.8 104.4h1.0M172.2 92.6h1.0M168.3 94.4h1.0M159.8 88.6h1.0M166.9 103.4h1.0M169.4 103.9h1.0M167.1 93.6h1.0M167.1 94.7h1.0M164.9 97.1h1.0M165.1 98.2h1.0M159.8 102.7h1.0M157.9 97.3h1.0M173.1 99.6h1.0M161.7 86.3h1.0M167.3 94.7h1.0M157.7 84.3h1.0M166.8 103.4h1.0M160.5 104.8h1.0M185.0 101.8h1.0M159.2 104.6h1.0M159.6 103.4h1.0M171.9 103.4h1.0M173.2 85.7h1.0M157.7 95.4h1.0M167.5 80.3h1.0M171.5 91.1h1.0M157.9 88.1h1.0M170.2 96.7h1.0M162.4 99.5h1.0M159.4 90.3h1.0M163.5 94.8h1.0M162.8 98.7h1.0M157.2 95.7h1.0M180.3 95.5h1.0M162.9 79.9h1.0M161.0 93.7h1.0M171.3 102.3h1.0M165.3 98.6h1.0M174.4 86.4h1.0M164.1 94.9h1.0M168.1 98.6h1.0M166.4 89.9h1.0M166.9 101.5h1.0M164.5 91.1h1.0M165.1 94.4h1.0M176.6 96.0h1.0M161.4 103.8h1.0M162.3 94.5h1.0M163.6 92.8h1.0M169.5 101.8h1.0M168.4 93.4h1.0M171.8 98.1h1.0M157.2 81.0h1.0M167.5 98.8h1.0M164.7 96.6h1.0M164.0 87.7h1.0M166.9 104.4h1.0M157.7 95.1h1.0M167.6 95.4h1.0M166.7 87.5h1.0M157.8 85.4h1.0M165.2 92.8h1.0M175.8 86.1h1.0M163.3 100.2h1.0M169.6 102.8h1.0M164.4 92.3h1.0M160.6 85.5h1.0M159.9 94.0h1.0M163.3 89.3h1.0M174.2 97.9h1.0M171.1 98.0h1.0M161.3 93.7h1.0M172.2 97.2h1.0M165.0 104.0h1.0M161.4 103.3h1.0M168.6 93.1h1.0M159.9 101.8h1.0M158.0 95.1h1.0M174.1 89.3h1.0M157.7 103.8h1.0M169.3 99.5h1.0M158.0 97.7h1.0M165.6 99.2h1.0M164.5 95.6h1.0M163.0 89.3h1.0M157.2 104.2h1.0M165.1 103.0h1.0M165.6 98.6h1.0M160.0 103.5h1.0M165.4 104.5h1.0M172.2 95.3h1.0M161.2 100.8h1.0M167.5 94.4h1.0M158.4 101.2h1.0M168.3 94.9h1.0M169.9 104.6h1.0M181.8 94.2h1.0M171.6 100.3h1.0M168.6 100.0h1.0M174.9 94.4h1.0M159.4 103.3h1.0M172.7 96.1h1.0M162.3 93.8h1.0M161.9 96.7h1.0M172.9 91.5h1.0M167.3 104.3h1.0M174.3 101.1h1.0M157.1 103.6h1.0M167.6 87.3h1.0M162.5 98.6h1.0M164.1 91.3h1.0M157.3 97.3h1.0M171.9 104.5h1.0M167.2 98.5h1.0M159.5 95.5h1.0M157.2 104.5h1.0M160.3 103.8h1.0M174.8 104.0h1.0M165.2 83.7h1.0M163.7 99.0h1.0M169.0 93.8h1.0M166.0 90.6h1.0M167.4 97.5h1.0M170.6 88.6h1.0M168.0 81.1h1.0M171.5 90.4h1.0M158.3 94.9h1.0M166.3 104.2h1.0M163.6 91.7h1.0M166.6 88.5h1.0M165.7 82.9h1.0M161.9 94.2h1.0M163.7 95.0h1.0M172.0 97.7h1.0M162.4 86.6h1.0M158.0 91.4h1.0M169.7 80.8h1.0M172.1 97.9h1.0M164.2 85.7h1.0M166.8 77.5h1.0M160.6 104.6h1.0M164.7 100.2h1.0M173.0 99.2h1.0M171.1 99.2h1.0M166.9 89.5h1.0M164.2 104.2h1.0M158.5 89.4h1.0M168.0 103.7h1.0M168.9 98.3h1.0M172.7 83.8h1.0M178.8 102.8h1.0M168.4 103.8h1.0M172.1 94.9h1.0M158.9 104.2h1.0M173.7 95.2h1.0M171.5 92.3h1.0M174.7 78.6h1.0M170.3 103.8h1.0M168.9 93.6h1.0M175.4 99.4h1.0M161.8 88.8h1.0M170.1 90.4h1.0M172.9 104.5h1.0M161.0 94.0h1.0M158.7 93.9h1.0M168.8 87.9h1.0M166.8 98.2h1.0M169.9 102.2h1.0M170.1 93.5h1.0M161.2 95.4h1.0M168.2 88.2h1.0M173.2 103.7h1.0M163.8 92.4h1.0M164.2 95.6h1.0M158.9 104.5h1.0M171.2 95.1h1.0M178.4 85.9h1.0M157.4 90.2h1.0M170.9 94.2h1.0M171.8 103.7h1.0M162.5 98.3h1.0M163.7 95.2h1.0M159.5 102.6h1.0M161.1 104.2h1.0M167.1 91.4h1.0M170.2 104.5h1.0M166.8 102.8h1.0M171.5 99.9h1.0M167.4 80.1h1.0M158.7 98.2h1.0M175.3 104.4h1.0M173.6 94.9h1.0M161.6 103.6h1.0M177.3 97.3h1.0M169.1 89.6h1.0M167.0 101.0h1.0M178.3 98.9h1.0M157.6 102.7h1.0M158.3 95.2h1.0M170.6 103.3h1.0M164.6 92.9h1.0M160.1 97.7h1.0M175.7 88.0h1.0M169.2 91.2h1.0M158.1 98.2h1.0M162.0 92.2h1.0M171.5 93.6h1.0M177.5 95.4h1.0M158.4 98.6h1.0M167.7 102.2h1.0M163.7 102.2h1.0M157.7 104.0h1.0M165.1 98.3h1.0M157.8 93.0h1.0M162.8 85.6h1.0M176.4 94.4h1.0M169.4 91.2h1.0M171.1 84.0h1.0M170.0 103.9h1.0M168.4 83.8h1.0M172.4 99.4h1.0M158.8 100.8h1.0M163.9 95.2h1.0M171.6 104.7h1.0M161.6 97.0h1.0M163.4 91.4h1.0M173.9 103.7h1.0M175.9 91.2h1.0M162.4 86.7h1.0M161.0 89.7h1.0M169.9 92.3h1.0M167.9 97.2h1.0M162.0 99.2h1.0M170.0 86.1h1.0M169.8 99.3h1.0M166.8 103.6h1.0M184.9 91.8h1.0M174.9 95.9h1.0M171.4 101.8h1.0M172.7 104.5h1.0M185.0 92.1h1.0M173.2 90.0h1.0M161.7 89.7h1.0M168.3 104.6h1.0M166.7 103.2h1.0M162.7 81.5h1.0M167.9 81.7h1.0M167.9 88.1h1.0M165.9 86.2h1.0M163.2 99.7h1.0M171.5 98.4h1.0M157.5 103.8h1.0M171.5 102.5h1.0M166.3 97.7h1.0M168.0 103.4h1.0M157.5 90.5h1.0M176.9 86.9h1.0M158.3 97.1h1.0M160.8 103.5h1.0M170.4 85.3h1.0M162.4 103.2h1.0M163.7 103.0h1.0M157.1 93.3h1.0M163.5 98.0h1.0M167.6 94.9h1.0M170.6 97.4h1.0M164.5 102.6h1.0M167.7 91.1h1.0M169.1 104.2h1.0M162.0 103.0h1.0M161.5 103.3h1.0M178.8 82.8h1.0M160.9 83.6h1.0M174.1 101.8h1.0M166.7 92.7h1.0M175.7 91.9h1.0M162.2 91.4h1.0M169.6 87.3h1.0M168.4 94.8h1.0M164.8 91.7h1.0M168.3 92.2h1.0M161.4 100.2h1.0M165.8 88.4h1.0M163.7 104.0h1.0M171.1 81.0h1.0M165.7 104.3h1.0M157.4 87.2h1.0M163.9 101.0h1.0M165.7 103.3h1.0M160.5 96.8h1.0M174.8 102.1h1.0M168.9 96.1h1.0M171.7 84.3h1.0M161.4 99.3h1.0M163.8 103.5h1.0M172.7 92.9h1.0M157.2 84.8h1.0M168.6 92.6h1.0M166.9 99.2h1.0M163.1 99.0h1.0M166.9 104.7h1.0M159.4 100.8h1.0M167.7 100.5h1.0M158.5 82.6h1.0M158.2 104.5h1.0M175.2 97.2h1.0M161.8 103.0h1.0M157.1 94.4h1.0M172.5 95.8h1.0M161.4 97.3h1.0M157.6 103.7h1.0M165.9 103.7h1.0M172.2 101.3h1.0M168.5 104.3h1.0M177.3 94.0h1.0M165.5 100.6h1.0M170.1 93.6h1.0M159.9 103.7h1.0M167.3 97.1h1.0M176.1 103.9h1.0M169.5 104.6h1.0M167.3 82.1h1.0M157.7 103.5h1.0M163.9 99.2h1.0M158.1 94.6h1.0M171.3 83.2h1.0M161.6 94.7h1.0M168.6 80.5h1.0M159.9 97.5h1.0M178.4 95.7h1.0M158.8 104.6h1.0M167.2 94.6h1.0M183.1 104.6h1.0M167.7 104.4h1.0M160.7 104.3h1.0M170.2 95.1h1.0M172.6 102.4h1.0M171.9 86.0h1.0M157.3 89.0h1.0M167.7 95.0h1.0M157.8 96.8h1.0M178.5 88.2h1.0M166.8 94.0h1.0M163.4 101.9h1.0M170.6 93.7h1.0M169.4 95.8h1.0M158.7 90.6h1.0M176.7 104.2h1.0M164.8 103.9h1.0M157.0 98.4h1.0M175.3 96.1h1.0M176.1 103.6h1.0M174.4 100.4h1.0M169.8 92.1h1.0M160.6 87.3h1.0M172.3 92.7h1.0M178.3 104.2h1.0M171.5 92.7h1.0M176.6 104.7h1.0M161.3 96.9h1.0M172.9 95.4h1.0M172.3 103.9h1.0M157.3 95.2h1.0M157.3 99.7h1.0M161.7 89.5h1.0M166.9 88.0h1.0M169.2 91.7h1.0M164.9 98.6h1.0M165.9 92.2h1.0M165.6 82.9h1.0M166.9 100.4h1.0M170.1 95.8h1.0M169.5 95.0h1.0M166.0 92.6h1.0M168.0 80.8h1.0M163.4 103.7h1.0M171.5 93.5h1.0M163.1 100.8h1.0M176.9 104.7h1.0M166.2 103.4h1.0M168.1 98.4h1.0M161.4 97.0h1.0M164.1 99.2h1.0M167.4 103.5h1.0M166.5 101.1h1.0M162.3 93.8h1.0M158.9 100.2h1.0M166.6 99.7h1.0M167.3 102.0h1.0M169.9 98.5h1.0M174.4 104.4h1.0M164.3 98.4h1.0M157.9 103.4h1.0M165.4 97.3h1.0M157.2 92.9h1.0M158.0 90.2h1.0M173.0 95.8h1.0M170.0 100.8h1.0M162.2 103.3h1.0M162.2 96.3h1.0M165.8 93.3h1.0M158.4 93.3h1.0M169.5 103.8h1.0M164.1 97.8h1.0M178.2 93.4h1.0M159.5 102.3h1.0M172.8 87.5h1.0M162.0 97.8h1.0M173.0 96.7h1.0M160.0 96.0h1.0M171.1 88.7h1.0M163.5 104.0h1.0M161.0 104.4h1.0M165.4 87.5h1.0M169.4 97.9h1.0M169.0 101.6h1.0M176.6 104.3h1.0M171.7 94.0h1.0M157.9 90.2h1.0M163.8 97.0h1.0M157.4 103.9h1.0M163.9 97.5h1.0M170.4 98.9h1.0M157.7 103.4h1.0M158.7 81.7h1.0M167.3 81.4h1.0M164.5 103.5h1.0M176.6 102.6h1.0M168.5 87.0h1.0M169.8 100.7h1.0M177.7 97.3h1.0M163.1 98.6h1.0M166.4 91.2h1.0M159.9 93.7h1.0M168.0 90.7h1.0M173.1 97.4h1.0M175.2 95.3h1.0M166.1 104.6h1.0M161.8 101.5h1.0M161.4 85.7h1.0M157.3 100.0h1.0M167.2 104.4h1.0M175.2 99.0h1.0M158.4 104.8h1.0M158.3 96.8h1.0M175.5 102.1h1.0M157.1 90.3h1.0M168.5 102.6h1.0M158.2 87.1h1.0M171.5 104.7h1.0M171.5 86.1h1.0M167.5 81.8h1.0M171.8 100.8h1.0M166.7 95.8h1.0M170.1 97.8h1.0M178.2 100.1h1.0M173.5 96.8h1.0M162.1 90.6h1.0M161.2 98.5h1.0M164.9 99.5h1.0M164.9 100.5h1.0M166.9 103.8h1.0M162.5 91.7h1.0M170.7 97.5h1.0M166.7 101.0h1.0M168.8 93.8h1.0M166.5 88.4h1.0M170.4 92.9h1.0M158.7 104.6h1.0M176.7 95.1h1.0M168.7 101.4h1.0M169.4 91.7h1.0M170.4 100.2h1.0M173.5 92.1h1.0M171.2 91.0h1.0M168.0 97.8h1.0M165.3 97.4h1.0M158.3 103.3h1.0M167.9 85.3h1.0M164.4 100.7h1.0M164.4 104.6h1.0M182.1 104.1h1.0M157.8 94.2h1.0M166.8 92.1h1.0M174.4 93.4h1.0M172.7 99.2h1.0M174.5 98.4h1.0M158.3 99.5h1.0M160.2 101.3h1.0M170.5 89.3h1.0M164.6 88.9h1.0M177.6 88.2h1.0M168.0 87.4h1.0M167.8 96.3h1.0M169.4 99.2h1.0M164.7 103.5h1.0M167.3 100.8h1.0M162.1 97.1h1.0M166.3 104.1h1.0M163.4 91.7h1.0M168.2 99.4h1.0M157.3 104.0h1.0M157.1 102.6h1.0M169.5 99.9h1.0M168.0 94.5h1.0M160.3 88.1h1.0M165.1 95.9h1.0M159.7 92.7h1.0M179.8 101.9h1.0M157.1 96.0h1.0M177.7 101.0h1.0M161.2 85.4h1.0M169.3 104.0h1.0M164.8 90.9h1.0M164.1 85.8h1.0M172.6 87.1h1.0M171.9 92.5h1.0M164.7 104.0h1.0M160.7 102.1h1.0M180.0 88.6h1.0M175.7 97.6h1.0M167.5 96.2h1.0M164.6 85.7h1.0M168.5 89.9h1.0M167.1 82.4h1.0M174.3 90.8h1.0M160.3 78.0h1.0M166.7 91.3h1.0M161.5 90.3h1.0M175.1 91.3h1.0M178.3 91.1h1.0M166.0 104.6h1.0M170.1 94.5h1.0M175.7 98.7h1.0M164.6 102.4h1.0M160.5 103.5h1.0M173.3 101.9h1.0M169.9 93.0h1.0M165.2 89.1h1.0M176.1 91.4h1.0M168.1 93.6h1.0M157.8 97.0h1.0M168.8 96.4h1.0M166.2 103.9h1.0M178.8 96.3h1.0M166.5 104.0h1.0M165.3 104.4h1.0M169.4 93.5h1.0M168.2 103.2h1.0M157.4 76.4h1.0M167.4 103.9h1.0M164.5 99.9h1.0M175.7 99.8h1.0M182.2 84.9h1.0M159.3 104.8h1.0M160.3 95.2h1.0M161.1 96.0h1.0M162.3 103.8h1.0M162.1 95.6h1.0M167.0 90.9h1.0M173.7 101.7h1.0M158.1 89.7h1.0M157.1 102.3h1.0M157.8 98.0h1.0M173.8 104.6h1.0M175.2 88.3h1.0M157.6 103.6h1.0M158.3 99.1h1.0M167.5 103.5h1.0M173.7 92.3h1.0M173.2 103.8h1.0M167.9 102.0h1.0M171.0 102.6h1.0M168.7 91.8h1.0M163.0 101.0h1.0M179.0 101.8h1.0M166.6 91.1h1.0M159.4 88.7h1.0M163.6 91.5h1.0M157.8 103.6h1.0M166.7 98.1h1.0M173.7 103.7h1.0M158.4 99.1h1.0M173.9 97.8h1.0M180.2 98.6h1.0M169.1 94.1h1.0M159.1 104.7h1.0M161.1 98.2h1.0M164.4 98.6h1.0M158.3 87.1h1.0M158.5 99.2h1.0M164.9 92.2h1.0M165.4 93.4h1.0M170.6 104.4h1.0M158.8 89.2h1.0M178.8 95.6h1.0M173.5 101.5h1.0M172.4 104.8h1.0M162.4 93.3h1.0M177.9 99.3h1.0M164.4 99.0h1.0M178.4 88.9h1.0M173.6 81.7h1.0M160.8 83.2h1.0M163.7 101.3h1.0M178.8 97.7h1.0M173.1 87.4h1.0M165.6 92.4h1.0M167.9 94.1h1.0M167.9 94.4h1.0M161.6 96.8h1.0M165.3 103.5h1.0M162.3 91.4h1.0M163.8 98.0h1.0M169.7 91.5h1.0M160.4 92.5h1.0M171.3 90.7h1.0M167.3 95.3h1.0M171.6 93.0h1.0M172.4 99.5h1.0M174.7 98.5h1.0M170.7 90.6h1.0M171.2 103.7h1.0M165.4 88.6h1.0M170.3 99.5h1.0M160.8 104.2h1.0M165.0 91.9h1.0M171.5 104.4h1.0M166.3 103.3h1.0M169.5 99.4h1.0M159.7 83.8h1.0M175.5 104.5h1.0M162.9 97.7h1.0M169.2 93.1h1.0M166.5 104.4h1.0M172.7 91.8h1.0M164.1 104.6h1.0M160.1 93.1h1.0M158.4 100.8h1.0M164.6 89.3h1.0M158.8 94.2h1.0M170.1 90.4h1.0M176.0 91.9h1.0M158.1 98.3h1.0M158.2 95.8h1.0M168.6 98.3h1.0M174.7 103.5h1.0M168.6 96.2h1.0M168.7 83.7h1.0M169.9 94.9h1.0M170.4 97.6h1.0M177.3 104.3h1.0M170.6 104.4h1.0M158.5 103.8h1.0M163.5 95.4h1.0M168.0 101.6h1.0M161.3 86.7h1.0M164.9 103.4h1.0M163.2 100.1h1.0M162.0 100.6h1.0M171.1 94.3h1.0M164.1 97.4h1.0M159.5 92.2h1.0M161.9 101.0h1.0M166.9 87.5h1.0M180.4 103.9h1.0M168.3 100.9h1.0M176.3 103.4h1.0M169.8 96.7h1.0M157.6 96.3h1.0M169.1 98.4h1.0M161.0 97.3h1.0M157.8 96.2h1.0M159.6 89.1h1.0M178.3 89.1h1.0M157.4 92.9h1.0M162.6 94.9h1.0M174.2 88.5h1.0M171.0 88.7h1.0M157.8 95.0h1.0M165.9 102.3h1.0M163.2 95.6h1.0M165.3 101.8h1.0M171.5 103.9h1.0M162.8 102.5h1.0M164.5 94.0h1.0M176.2 94.1h1.0M157.6 83.7h1.0M164.2 92.1h1.0M169.7 100.3h1.0M158.4 89.2h1.0M162.5 104.3h1.0M158.0 103.9h1.0M167.6 94.4h1.0M162.5 103.6h1.0M171.7 86.9h1.0M173.3 89.5h1.0M166.9 94.3h1.0M164.1 97.1h1.0M168.3 95.7h1.0M167.0 90.8h1.0M158.6 103.5h1.0M173.6 99.1h1.0M168.1 99.0h1.0M171.8 101.9h1.0M157.7 98.3h1.0M172.3 95.3h1.0M180.4 93.0h1.0M170.6 85.3h1.0M157.1 104.0h1.0M166.8 90.4h1.0M166.2 85.1h1.0M168.0 91.2h1.0M165.1 85.5h1.0M169.8 104.3h1.0M163.5 99.6h1.0M168.1 104.5h1.0M162.1 103.6h1.0M167.2 101.1h1.0M173.1 101.1h1.0M163.4 91.8h1.0M170.9 96.4h1.0M160.8 92.7h1.0M164.1 97.3h1.0M165.0 92.0h1.0M174.7 103.8h1.0M161.5 102.5h1.0M174.6 96.2h1.0M157.3 85.1h1.0M165.5 101.9h1.0M172.6 103.3h1.0M171.1 96.5h1.0M159.9 88.0h1.0M158.5 100.1h1.0M172.3 104.5h1.0M158.3 83.3h1.0M170.4 101.0h1.0M163.1 84.0h1.0M166.5 97.6h1.0M181.8 103.6h1.0M176.7 97.7h1.0M172.1 100.4h1.0M157.5 94.7h1.0M168.7 97.0h1.0M166.9 104.7h1.0M165.9 104.7h1.0M175.3 94.8h1.0M157.4 94.3h1.0M168.6 97.1h1.0M167.4 103.6h1.0M161.6 98.5h1.0M177.9 104.0h1.0M158.2 94.4h1.0M166.7 87.9h1.0M167.1 103.8h1.0M158.4 96.5h1.0M157.1 91.4h1.0M160.2 92.1h1.0M171.7 92.2h1.0M172.7 92.7h1.0M170.4 86.0h1.0M168.1 103.3h1.0M158.3 99.7h1.0M167.9 104.0h1.0M163.1 94.5h1.0M174.2 99.5h1.0M175.4 98.2h1.0M181.2 104.1h1.0M171.2 102.8h1.0M171.9 99.6h1.0M159.7 92.4h1.0M167.0 88.4h1.0M158.4 91.3h1.0M172.4 92.5h1.0M158.7 93.2h1.0M165.1 88.2h1.0M161.1 104.0h1.0M163.4 98.9h1.0M169.5 82.6h1.0M162.8 89.2h1.0M168.0 87.5h1.0M159.9 98.7h1.0M175.7 104.6h1.0M162.3 90.0h1.0M173.2 101.4h1.0M180.6 95.0h1.0M157.0 104.7h1.0M160.0 104.1h1.0M165.1 99.2h1.0M174.2 102.1h1.0M163.3 97.0h1.0M169.0 94.3h1.0M161.7 88.7h1.0M170.2 99.3h1.0M158.5 96.5h1.0M172.0 94.3h1.0M157.5 96.5h1.0M157.8 95.7h1.0M178.5 89.6h1.0M167.6 93.2h1.0M160.6 104.8h1.0M181.0 95.3h1.0M173.4 103.4h1.0M173.9 88.8h1.0M163.7 87.4h1.0M170.6 97.9h1.0M169.8 102.5h1.0M157.7 92.3h1.0M170.4 101.4h1.0M165.2 103.6h1.0M175.0 104.6h1.0M175.1 96.2h1.0M162.2 96.6h1.0M162.5 85.3h1.0M167.7 97.2h1.0M170.8 99.0h1.0M163.7 104.6h1.0M165.7 88.0h1.0M170.5 91.0h1.0M169.3 89.9h1.0M174.2 103.4h1.0M168.0 79.1h1.0M160.6 89.3h1.0M158.0 103.9h1.0M171.8 101.7h1.0M164.2 87.6h1.0M164.1 96.6h1.0M164.5 103.0h1.0M158.1 100.9h1.0M163.9 95.4h1.0M158.5 91.4h1.0M163.8 102.9h1.0M160.5 97.0h1.0M178.7 102.7h1.0M169.4 99.8h1.0M165.0 93.7h1.0M167.5 104.1h1.0M171.3 93.5h1.0M161.4 100.0h1.0M164.9 92.5h1.0M164.1 95.4h1.0M183.0 95.2h1.0M166.9 92.3h1.0M157.0 98.7h1.0M171.7 104.5h1.0M183.7 104.2h1.0M160.1 104.4h1.0M189.6 95.8h1.0M166.0 104.1h1.0M173.1 100.0h1.0M162.7 103.9h1.0M164.6 88.1h1.0M158.2 104.0h1.0M159.4 92.8h1.0M157.1 104.8h1.0M174.1 93.7h1.0M158.8 103.4h1.0M168.9 95.0h1.0M168.6 83.7h1.0M162.1 90.2h1.0M166.7 95.3h1.0M165.8 97.2h1.0M163.1 81.2h1.0M166.7 88.5h1.0M166.7 91.8h1.0M159.6 95.5h1.0M157.7 98.6h1.0M160.7 91.2h1.0M167.2 86.3h1.0M175.7 99.1h1.0M176.2 94.7h1.0M168.5 103.3h1.0M172.7 93.3h1.0M167.2 101.6h1.0M173.8 90.7h1.0M167.3 98.9h1.0M169.0 97.6h1.0M164.5 100.2h1.0M166.4 90.4h1.0M179.1 96.1h1.0M158.4 91.0h1.0M166.4 95.9h1.0M162.4 101.4h1.0M172.8 104.8h1.0M178.6 97.2h1.0M164.3 102.0h1.0M158.0 97.8h1.0M170.5 104.2h1.0M170.5 100.3h1.0M157.8 104.4h1.0M164.7 99.5h1.0M165.9 104.2h1.0M158.0 103.3h1.0M170.9 85.0h1.0M169.3 99.1h1.0M168.0 97.6h1.0M159.2 81.5h1.0M161.6 91.0h1.0M162.1 93.8h1.0M169.6 91.8h1.0M159.7 97.9h1.0M176.2 84.4h1.0M168.9 102.3h1.0M157.9 102.5h1.0M177.7 99.5h1.0M167.4 94.7h1.0M162.6 97.1h1.0M167.0 93.8h1.0M157.3 103.7h1.0M167.6 100.6h1.0M157.3 103.8h1.0M159.4 94.4h1.0M175.5 103.9h1.0M174.8 93.0h1.0M164.0 95.8h1.0M159.8 89.7h1.0M172.6 100.7h1.0M166.0 96.6h1.0M167.7 101.4h1.0M170.5 104.8h1.0M159.0 96.6h1.0M171.7 99.7h1.0M157.3 103.4h1.0M176.2 96.6h1.0M157.3 93.2h1.0M162.1 99.6h1.0M161.8 100.6h1.0M171.2 102.5h1.0M171.3 102.9h1.0M168.7 92.3h1.0M170.0 100.2h1.0M169.5 104.2h1.0M165.8 93.8h1.0M158.3 99.6h1.0M158.1 92.7h1.0M157.7 98.2h1.0M165.9 104.2h1.0M164.7 98.3h1.0M165.3 90.3h1.0M167.8 99.5h1.0M164.7 98.6h1.0M159.5 104.8h1.0M157.3 87.4h1.0M158.3 90.6h1.0M174.5 96.5h1.0M172.4 86.1h1.0M157.1 104.2h1.0M164.4 82.8h1.0M169.2 91.2h1.0M177.1 86.7h1.0M162.2 92.4h1.0M167.4 102.7h1.0M174.1 101.3h1.0M157.4 103.6h1.0M161.3 101.3h1.0M166.0 82.8h1.0M161.3 99.2h1.0M180.6 84.1h1.0M172.1 93.5h1.0M167.6 94.3h1.0M159.7 93.2h1.0M172.1 100.5h1.0M170.5 91.4h1.0M162.7 103.4h1.0M163.3 101.3h1.0M157.3 103.6h1.0M165.7 102.4h1.0M172.1 103.3h1.0M173.0 96.8h1.0M170.1 104.2h1.0M171.8 89.7h1.0M162.2 100.3h1.0M163.0 97.1h1.0M174.4 95.5h1.0M169.3 99.3h1.0M160.8 91.8h1.0M169.6 103.2h1.0M171.8 102.6h1.0M171.0 97.7h1.0M166.9 102.2h1.0M162.7 89.8h1.0M168.9 84.4h1.0M177.7 93.0h1.0M167.2 95.4h1.0M161.6 104.3h1.0M168.5 95.5h1.0M157.8 104.3h1.0M167.7 103.0h1.0M164.1 104.3h1.0M172.7 97.9h1.0M166.9 101.6h1.0M173.3 95.7h1.0M181.8 91.0h1.0M164.7 90.0h1.0M160.5 91.6h1.0M169.3 104.4h1.0M165.6 99.1h1.0M167.1 96.0h1.0M162.1 97.2h1.0M169.9 93.1h1.0M166.6 96.8h1.0M157.4 96.8h1.0M164.6 101.6h1.0M168.4 103.5h1.0M174.1 85.6h1.0M162.2 98.7h1.0M160.7 104.4h1.0M173.9 89.9h1.0M162.0 95.3h1.0M166.9 98.2h1.0M169.3 104.8h1.0M171.1 101.2h1.0M166.2 95.5h1.0M158.6 100.6h1.0M173.0 104.3h1.0M163.2 99.8h1.0M162.6 104.1h1.0M179.7 100.0h1.0M172.1 89.7h1.0M159.0 91.6h1.0M162.9 96.1h1.0M164.5 95.6h1.0M161.1 101.4h1.0M157.7 99.6h1.0M171.6 104.8h1.0M171.4 102.8h1.0M167.8 104.2h1.0M163.4 91.7h1.0M167.6 94.1h1.0M170.4 101.9h1.0M159.1 97.7h1.0M163.9 101.5h1.0M162.4 98.8h1.0M170.8 92.7h1.0M167.9 103.6h1.0M157.4 103.7h1.0M162.0 86.2h1.0M178.0 92.8h1.0M159.6 97.3h1.0M167.1 101.9h1.0M161.9 96.6h1.0M174.5 87.6h1.0M165.7 102.9h1.0M163.2 95.7h1.0M158.2 104.6h1.0M164.5 99.2h1.0M171.7 104.1h1.0M170.6 103.0h1.0M157.2 103.3h1.0M176.6 93.6h1.0M164.4 104.3h1.0M159.0 98.6h1.0M167.0 88.4h1.0M161.9 94.4h1.0M162.2 94.8h1.0M161.8 100.4h1.0M165.5 101.9h1.0M162.7 89.3h1.0M157.3 102.2h1.0M169.6 96.7h1.0M162.6 89.8h1.0M174.1 103.0h1.0M169.7 91.8h1.0M170.2 88.8h1.0M167.3 102.4h1.0M174.8 103.4h1.0M163.9 92.5h1.0M159.4 104.5h1.0M168.4 104.2h1.0M157.9 93.5h1.0M163.6 103.9h1.0M167.5 96.8h1.0M163.3 98.7h1.0M174.5 80.5h1.0M170.8 101.6h1.0M166.8 92.8h1.0M163.4 100.3h1.0M173.4 85.2h1.0M161.5 104.7h1.0M163.3 104.3h1.0M171.1 104.0h1.0M170.1 76.6h1.0M179.7 101.3h1.0M164.6 99.6h1.0M158.0 76.1h1.0M170.5 92.1h1.0M174.5 96.6h1.0M164.9 104.0h1.0M176.5 91.4h1.0M178.0 98.7h1.0M161.6 96.8h1.0M162.8 99.8h1.0M157.6 94.5h1.0M169.7 103.5h1.0M170.9 104.0h1.0M170.1 87.7h1.0M157.8 103.8h1.0M160.9 92.0h1.0M158.3 95.3h1.0M158.3 104.5h1.0M157.0 98.0h1.0M158.3 101.3h1.0M164.8 102.8h1.0M168.9 101.5h1.0M170.2 93.5h1.0M165.9 90.6h1.0M161.5 102.1h1.0M166.0 102.6h1.0M169.8 99.8h1.0M164.0 96.0h1.0M166.4 103.3h1.0M164.0 97.1h1.0M162.5 87.8h1.0M166.2 99.3h1.0M158.5 100.9h1.0M173.1 102.7h1.0M157.3 91.1h1.0M169.1 92.1h1.0M157.0 99.7h1.0M176.1 94.2h1.0M171.8 96.9h1.0M160.6 103.9h1.0M163.0 100.1h1.0M158.5 103.6h1.0M165.6 99.4h1.0M168.8 103.4h1.0M183.1 104.6h1.0M158.1 104.7h1.0M174.3 97.5h1.0M162.1 96.8h1.0M167.8 103.4h1.0M171.9 93.9h1.0M169.6 94.2h1.0M168.8 99.2h1.0M164.7 100.1h1.0M165.9 87.7h1.0M167.0 99.3h1.0M174.0 95.4h1.0M157.7 97.3h1.0M162.7 98.8h1.0M157.7 96.2h1.0M159.6 104.1h1.0M160.7 101.0h1.0M173.3 96.3h1.0M180.3 98.1h1.0M175.1 103.4h1.0M158.1 103.1h1.0M166.5 104.3h1.0M158.4 96.7h1.0M169.0 98.6h1.0M174.5 104.0h1.0M169.9 97.4h1.0M171.8 104.6h1.0M165.0 103.5h1.0M157.3 94.7h1.0M157.8 87.9h1.0M165.3 102.1h1.0M169.8 92.8h1.0M174.5 92.8h1.0M163.7 85.7h1.0M166.5 103.5h1.0M167.7 98.4h1.0M173.1 97.9h1.0M165.5 100.5h1.0M158.7 99.4h1.0M173.2 98.4h1.0M168.7 101.3h1.0M168.6 95.8h1.0M157.5 79.8h1.0M165.9 102.9h1.0M157.6 100.7h1.0M157.0 97.9h1.0M164.4 104.5h1.0M163.1 88.0h1.0M169.8 77.6h1.0M175.6 104.1h1.0M165.8 100.6h1.0M177.9 86.3h1.0M162.1 94.9h1.0M171.1 102.0h1.0M157.5 89.3h1.0M166.8 101.6h1.0M163.9 104.7h1.0M164.6 104.6h1.0M169.9 97.5h1.0M157.3 100.0h1.0M166.8 91.1h1.0M160.6 98.7h1.0M166.8 95.4h1.0M168.6 90.8h1.0M163.5 88.4h1.0M163.5 103.5h1.0M158.3 98.3h1.0M169.7 90.6h1.0M161.5 94.8h1.0M169.0 104.2h1.0M157.2 104.0h1.0M175.1 93.5h1.0M159.2 99.1h1.0M173.7 103.9h1.0M163.0 95.3h1.0M169.6 89.6h1.0M165.0 91.0h1.0M170.5 97.8h1.0M166.0 92.4h1.0M174.5 88.7h1.0M170.5 96.1h1.0M170.5 104.2h1.0M177.1 102.5h1.0M161.3 96.1h1.0M174.7 103.9h1.0M166.5 92.3h1.0M157.9 97.2h1.0M169.2 88.2h1.0M164.6 103.1h1.0M177.3 96.8h1.0M162.7 86.0h1.0M166.3 92.0h1.0M167.6 103.7h1.0M157.9 102.7h1.0M169.4 98.5h1.0M159.4 103.7h1.0M175.4 86.6h1.0M177.1 92.0h1.0M165.9 88.5h1.0M157.1 91.9h1.0M167.2 95.0h1.0M167.2 101.4h1.0M170.8 104.7h1.0M164.0 104.5h1.0M158.1 103.9h1.0M165.1 94.3h1.0M159.8 97.5h1.0M177.8 101.2h1.0M161.3 91.9h1.0M161.7 95.7h1.0M165.7 100.5h1.0M157.7 91.5h1.0M163.0 100.9h1.0M165.1 103.9h1.0M162.7 89.9h1.0M164.3 81.8h1.0M174.3 98.2h1.0M168.9 90.4h1.0M157.1 98.9h1.0M163.1 94.5h1.0M171.0 99.8h1.0M161.7 104.0h1.0M166.5 103.3h1.0M165.8 95.1h1.0M169.5 89.5h1.0M164.8 80.4h1.0M165.1 82.5h1.0M160.3 92.1h1.0M168.4 98.3h1.0M159.8 92.9h1.0M177.5 93.4h1.0M165.9 86.4h1.0M164.5 86.1h1.0M171.3 85.5h1.0M165.4 101.8h1.0M166.6 83.7h1.0M165.6 102.1h1.0M161.2 91.1h1.0M159.9 101.1h1.0M161.3 99.0h1.0M173.5 102.6h1.0M161.8 104.6h1.0M163.3 91.9h1.0M163.0 90.5h1.0M170.6 94.2h1.0M179.2 91.9h1.0M159.8 101.8h1.0M169.7 96.4h1.0M166.8 97.2h1.0M164.0 100.0h1.0M169.4 93.8h1.0M157.5 104.8h1.0M171.5 84.3h1.0M167.5 98.7h1.0M159.4 100.6h1.0M176.6 91.7h1.0M171.7 92.3h1.0M173.7 103.4h1.0M157.3 94.8h1.0M164.2 83.7h1.0M162.5 87.7h1.0M170.2 104.1h1.0M175.0 90.9h1.0M157.9 103.6h1.0M166.1 104.7h1.0M165.2 95.6h1.0M172.6 100.8h1.0M165.7 91.3h1.0M157.5 94.2h1.0M164.7 92.1h1.0M159.1 101.1h1.0M160.8 88.1h1.0M166.3 96.1h1.0M162.8 97.3h1.0M167.9 100.6h1.0M158.1 82.2h1.0M181.4 84.5h1.0M174.4 90.8h1.0M170.8 95.4h1.0M157.4 97.9h1.0M157.7 98.3h1.0M160.3 103.9h1.0M164.5 101.5h1.0M180.8 101.0h1.0M174.7 93.5h1.0M162.5 102.4h1.0M174.0 101.7h1.0M174.1 101.6h1.0M166.1 96.1h1.0M174.1 101.3h1.0M168.2 103.6h1.0M161.6 91.4h1.0M158.2 81.9h1.0M165.2 102.6h1.0M172.6 102.0h1.0M157.1 95.3h1.0M158.1 93.8h1.0M169.7 103.7h1.0M157.7 93.7h1.0M178.1 88.4h1.0M163.1 93.6h1.0M170.9 100.4h1.0M178.4 92.7h1.0M157.4 94.2h1.0M159.0 99.0h1.0M180.9 93.9h1.0M164.1 97.8h1.0M165.2 96.6h1.0M167.5 89.5h1.0M173.0 97.4h1.0M174.8 88.8h1.0M166.7 103.4h1.0M163.8 90.4h1.0M165.8 95.2h1.0M168.0 84.2h1.0M174.7 93.8h1.0M166.9 88.2h1.0M178.1 103.9h1.0M160.3 96.0h1.0M169.5 100.5h1.0M177.7 84.7h1.0M174.6 88.3h1.0M168.2 95.7h1.0M160.1 87.4h1.0M161.3 104.8h1.0M165.0 94.1h1.0M168.1 97.9h1.0M164.3 99.0h1.0M157.9 95.8h1.0M161.1 102.2h1.0M169.4 92.2h1.0M171.6 99.4h1.0M157.6 104.0h1.0M163.6 98.3h1.0M158.1 97.7h1.0M162.3 94.5h1.0M189.5 97.2h1.0M166.4 101.5h1.0M163.7 95.1h1.0M162.1 85.2h1.0M158.0 98.0h1.0M158.2 95.8h1.0M165.7 100.1h1.0M164.2 97.1h1.0M175.8 103.4h1.0M158.5 88.5h1.0M168.9 90.1h1.0M174.9 101.3h1.0M157.0 89.7h1.0M170.4 99.1h1.0M158.4 96.7h1.0M169.5 83.3h1.0M175.8 101.4h1.0M166.0 103.5h1.0M167.9 98.2h1.0M161.4 87.2h1.0M167.9 102.2h1.0M173.5 89.6h1.0M164.8 96.0h1.0M165.1 99.7h1.0M168.6 91.4h1.0M171.5 85.1h1.0M158.5 95.8h1.0M166.4 96.5h1.0M161.4 90.9h1.0M169.3 91.4h1.0M172.9 101.9h1.0M168.1 96.2h1.0M174.6 93.6h1.0M159.4 92.7h1.0M163.3 97.9h1.0M159.4 97.4h1.0M166.4 95.6h1.0M166.6 87.2h1.0M164.7 94.2h1.0M157.9 92.5h1.0M165.5 97.2h1.0M163.1 104.7h1.0M170.0 103.3h1.0M164.2 101.2h1.0M173.7 97.5h1.0M167.5 94.6h1.0M158.2 99.1h1.0M164.9 93.5h1.0M158.4 94.4h1.0M172.4 91.0h1.0M175.5 96.4h1.0M165.8 96.2h1.0M169.0 103.3h1.0M157.2 100.5h1.0M157.2 94.2h1.0M162.3 102.0h1.0M164.3 93.5h1.0M157.8 103.6h1.0M166.6 102.1h1.0M168.1 103.4h1.0M170.3 89.4h1.0M176.3 96.3h1.0M171.4 96.0h1.0M163.6 98.8h1.0M166.7 101.6h1.0M170.0 90.1h1.0M159.1 91.8h1.0M174.8 98.8h1.0M172.0 103.3h1.0M164.5 89.1h1.0M161.8 86.2h1.0M191.3 104.5h1.0M171.6 102.5h1.0M172.3 104.1h1.0M178.0 90.2h1.0M172.5 95.4h1.0M167.4 98.3h1.0M170.7 99.7h1.0M159.9 96.0h1.0M170.8 96.4h1.0M157.8 103.6h1.0M168.8 93.8h1.0M169.7 93.1h1.0M157.8 93.8h1.0M178.8 93.3h1.0M158.4 97.6h1.0M173.0 95.3h1.0M162.5 93.8h1.0M168.1 103.5h1.0M161.7 98.8h1.0M182.6 94.5h1.0M172.9 103.9h1.0M178.1 93.0h1.0M171.3 96.8h1.0M170.7 96.1h1.0M167.1 92.9h1.0M164.5 94.2h1.0M170.1 97.3h1.0M167.2 87.1h1.0M165.1 94.1h1.0M158.2 98.4h1.0M164.1 98.6h1.0M170.1 98.8h1.0M163.0 103.9h1.0M168.4 101.2h1.0M165.2 95.8h1.0M159.3 95.9h1.0M160.1 96.7h1.0M161.2 99.7h1.0M164.2 94.8h1.0M164.4 104.0h1.0M173.6 89.4h1.0M158.9 101.0h1.0M157.7 100.1h1.0M170.7 89.1h1.0M163.1 101.0h1.0M165.4 100.5h1.0M183.1 92.5h1.0M175.9 103.6h1.0M170.1 101.5h1.0M172.5 94.6h1.0M167.0 93.6h1.0M172.6 91.8h1.0M162.1 98.5h1.0M161.4 97.2h1.0M163.1 87.3h1.0M176.7 89.8h1.0M176.6 92.0h1.0M162.1 94.1h1.0M173.9 94.3h1.0M165.1 92.3h1.0M173.4 101.0h1.0M164.1 103.1h1.0M172.6 97.2h1.0M165.5 82.1h1.0M164.3 95.7h1.0M166.1 100.5h1.0M167.3 96.2h1.0M162.3 98.6h1.0M157.1 97.4h1.0M177.5 86.8h1.0M163.6 79.9h1.0M157.2 100.9h1.0M157.5 93.3h1.0M157.1 99.5h1.0M162.1 94.7h1.0M175.3 95.6h1.0M158.0 104.2h1.0M164.1 88.8h1.0M158.3 96.7h1.0M173.6 89.5h1.0M168.7 97.2h1.0M168.4 99.9h1.0M175.3 101.1h1.0M177.2 97.7h1.0M173.1 87.6h1.0M162.4 98.4h1.0M157.4 102.7h1.0M159.3 103.3h1.0M157.5 103.4h1.0M178.3 100.5h1.0M165.0 90.0h1.0M167.1 93.3h1.0M167.6 97.3h1.0M179.8 103.7h1.0M162.5 89.1h1.0M174.2 102.8h1.0M174.0 79.0h1.0M175.8 94.1h1.0M168.3 85.2h1.0M172.0 94.0h1.0M171.8 81.2h1.0M166.3 86.1h1.0M188.9 81.8h1.0M166.8 89.6h1.0M183.4 85.3h1.0M178.4 94.3h1.0M157.1 92.2h1.0M172.1 89.1h1.0M178.1 85.7h1.0M176.5 83.8h1.0M163.2 86.1h1.0M172.1 91.6h1.0M160.9 87.0h1.0M162.1 88.2h1.0M168.3 85.7h1.0M171.6 85.5h1.0M182.6 81.1h1.0M172.9 72.0h1.0M178.3 90.3h1.0M160.8 90.2h1.0M161.2 78.8h1.0M166.4 100.3h1.0M183.7 77.3h1.0M159.8 93.5h1.0M157.9 87.9h1.0M169.5 88.4h1.0M179.4 94.5h1.0M157.5 92.9h1.0M168.2 86.2h1.0M159.6 78.1h1.0M181.4 76.9h1.0M175.5 87.4h1.0M172.3 97.8h1.0M169.8 92.6h1.0M168.3 85.8h1.0M171.2 88.5h1.0M165.1 91.2h1.0M163.3 98.9h1.0M161.5 80.3h1.0M170.2 91.5h1.0M163.9 88.1h1.0M176.9 80.4h1.0M158.4 78.4h1.0M174.5 95.5h1.0M174.3 88.5h1.0M179.6 84.5h1.0M168.1 86.8h1.0M158.4 93.4h1.0M162.9 86.7h1.0M178.9 98.0h1.0M167.7 84.1h1.0M166.9 80.2h1.0M165.6 85.2h1.0M169.6 79.0h1.0M168.3 83.4h1.0M158.0 95.2h1.0M165.4 98.8h1.0M177.9 90.8h1.0M181.4 87.5h1.0M169.1 79.2h1.0M166.1 78.5h1.0M180.6 88.8h1.0M168.7 87.3h1.0M160.9 81.7h1.0M169.1 82.7h1.0M175.5 97.7h1.0M182.2 93.5h1.0M166.3 86.4h1.0M174.3 87.7h1.0M167.5 95.6h1.0M179.0 88.7h1.0M172.1 87.8h1.0M172.1 74.3h1.0M162.4 73.4h1.0M167.6 71.7h1.0M167.6 69.2h1.0M157.9 85.9h1.0M176.7 88.5h1.0M170.0 79.5h1.0M168.5 89.3h1.0M167.3 89.4h1.0M170.3 85.5h1.0M172.0 75.0h1.0M159.9 96.8h1.0M171.0 96.3h1.0M171.0 81.7h1.0M170.3 100.6h1.0M158.5 86.4h1.0M169.0 80.2h1.0M160.1 83.0h1.0M172.8 72.1h1.0M180.3 83.4h1.0M176.8 74.0h1.0M167.4 94.5h1.0M165.9 88.4h1.0M165.7 75.6h1.0M172.8 90.3h1.0M164.9 73.2h1.0M165.9 87.2h1.0M157.8 89.6h1.0M163.4 86.5h1.0M164.0 77.6h1.0M165.9 85.2h1.0M179.5 84.7h1.0M159.5 86.5h1.0M159.7 97.2h1.0M174.7 98.7h1.0M162.4 97.9h1.0M168.8 81.3h1.0M171.4 80.4h1.0M170.2 86.2h1.0M164.0 89.3h1.0M177.2 70.6h1.0M181.7 81.4h1.0M162.2 99.5h1.0M167.9 76.7h1.0M177.4 80.5h1.0M168.4 80.7h1.0M162.3 89.7h1.0M166.7 85.5h1.0M176.5 83.6h1.0M162.3 74.6h1.0M172.0 90.6h1.0M173.0 86.0h1.0M165.0 81.0h1.0M174.4 86.2h1.0M175.2 91.9h1.0M177.8 74.9h1.0M177.3 74.4h1.0M158.5 78.3h1.0M177.0 79.5h1.0M174.6 63.1h1.0M177.6 81.5h1.0M163.4 94.4h1.0M177.1 83.5h1.0M172.9 93.6h1.0M161.0 64.4h1.0M179.9 85.2h1.0M164.0 96.4h1.0M162.2 97.8h1.0M173.1 82.3h1.0M165.4 79.8h1.0M172.9 88.9h1.0M168.1 76.9h1.0M172.3 83.3h1.0M176.4 73.5h1.0M169.8 86.6h1.0M176.8 86.0h1.0M176.6 98.2h1.0M163.6 88.7h1.0M176.7 81.0h1.0M174.9 85.3h1.0M171.1 76.3h1.0M178.7 86.3h1.0M182.9 84.4h1.0M176.0 89.2h1.0M158.7 93.0h1.0M173.5 71.0h1.0M169.1 88.5h1.0M168.0 91.5h1.0M172.8 77.0h1.0M167.5 100.3h1.0M182.7 80.6h1.0M172.2 104.5h1.0M170.2 91.9h1.0M176.2 93.3h1.0M176.3 88.0h1.0M179.3 93.6h1.0M175.0 78.2h1.0M169.8 79.9h1.0M171.2 71.3h1.0M157.2 90.1h1.0M158.7 80.7h1.0M178.2 91.7h1.0M167.6 90.5h1.0M184.2 75.9h1.0M184.1 91.3h1.0M160.4 87.9h1.0M172.5 87.5h1.0M192.5 89.5h1.0M164.0 85.8h1.0M173.2 86.1h1.0M168.3 93.9h1.0M168.3 78.5h1.0M168.0 77.0h1.0M170.0 80.3h1.0M176.0 93.8h1.0M163.9 83.6h1.0M174.0 100.4h1.0M164.7 62.8h1.0M174.2 80.6h1.0M172.6 82.6h1.0M164.1 88.0h1.0M171.2 96.1h1.0M164.4 84.6h1.0M163.6 78.4h1.0M179.2 92.3h1.0M157.8 97.6h1.0M174.5 66.8h1.0M175.6 90.4h1.0M165.5 88.2h1.0M178.6 79.7h1.0M177.2 82.4h1.0M160.1 88.2h1.0M174.2 86.2h1.0M173.8 84.1h1.0M164.4 77.2h1.0M174.6 88.1h1.0M176.0 81.0h1.0M164.5 86.6h1.0M158.2 81.6h1.0M173.3 87.5h1.0M164.4 91.6h1.0M157.3 87.8h1.0M167.2 90.9h1.0M158.4 75.6h1.0M167.5 89.5h1.0M181.8 88.2h1.0M157.3 81.3h1.0M173.7 84.8h1.0M163.0 65.0h1.0M166.9 86.6h1.0M163.1 82.9h1.0M175.1 68.9h1.0M170.1 89.8h1.0M164.1 81.2h1.0M160.0 88.1h1.0M166.8 84.2h1.0M179.1 89.6h1.0M160.7 86.6h1.0M173.4 83.8h1.0M172.8 89.7h1.0M157.2 92.2h1.0M178.7 68.9h1.0M169.8 86.2h1.0M187.5 81.5h1.0M183.7 77.6h1.0M168.2 95.8h1.0M168.9 93.2h1.0M162.3 78.2h1.0M159.4 77.6h1.0M176.3 92.1h1.0M168.2 81.3h1.0M167.0 83.5h1.0M168.8 71.2h1.0M175.4 84.9h1.0M177.5 94.5h1.0M170.1 82.5h1.0M168.6 85.1h1.0M170.9 99.1h1.0M186.3 92.5h1.0M158.2 96.6h1.0M161.1 90.7h1.0M173.9 95.0h1.0M171.3 73.5h1.0M179.8 79.8h1.0M180.4 73.5h1.0M185.6 102.6h1.0M163.9 87.3h1.0M175.0 85.0h1.0M168.3 80.3h1.0M177.8 78.3h1.0M171.6 64.9h1.0M177.1 102.8h1.0M164.4 85.3h1.0M171.5 86.4h1.0M166.2 75.4h1.0M168.1 85.5h1.0M166.6 88.8h1.0M162.1 85.3h1.0M178.9 90.6h1.0M172.5 79.6h1.0M178.7 88.4h1.0M162.4 92.6h1.0M157.3 90.2h1.0M165.1 88.8h1.0M169.0 85.2h1.0M176.4 78.5h1.0M178.5 90.1h1.0M179.8 83.0h1.0M182.2 78.8h1.0M175.9 91.7h1.0M171.1 73.9h1.0M164.2 81.8h1.0M175.6 91.8h1.0M166.3 93.0h1.0M163.9 83.1h1.0M174.8 86.4h1.0M171.9 90.0h1.0M176.9 85.4h1.0M164.6 80.2h1.0M179.4 89.2h1.0M173.0 87.2h1.0M168.9 86.7h1.0M164.3 94.3h1.0M161.7 88.2h1.0M159.5 82.5h1.0M181.2 87.2h1.0M159.1 100.5h1.0M175.2 80.6h1.0M168.3 84.0h1.0M165.7 79.9h1.0M166.5 88.6h1.0M169.4 76.5h1.0M177.3 89.3h1.0M174.6 91.6h1.0M170.2 80.1h1.0M159.4 79.6h1.0M158.3 74.8h1.0M184.9 86.3h1.0M162.3 77.5h1.0M157.9 81.2h1.0M179.0 82.8h1.0M158.4 80.8h1.0M176.0 92.2h1.0M177.5 97.9h1.0M172.2 70.0h1.0M177.8 79.8h1.0M159.3 87.8h1.0M160.6 78.1h1.0M168.7 81.9h1.0M170.2 87.5h1.0M169.5 96.4h1.0M173.8 94.8h1.0M164.4 83.8h1.0M157.4 86.9h1.0M173.4 83.2h1.0M168.4 84.6h1.0M176.6 77.1h1.0M186.5 72.7h1.0M170.8 83.2h1.0M174.7 93.3h1.0M163.2 91.7h1.0M177.3 72.0h1.0M172.9 84.5h1.0M172.1 81.2h1.0M177.4 88.1h1.0M161.3 77.7h1.0M174.6 92.8h1.0M173.8 84.4h1.0M182.7 90.3h1.0M157.1 92.5h1.0M169.5 71.4h1.0M187.4 84.3h1.0M167.0 97.3h1.0M166.7 86.1h1.0M184.2 93.8h1.0M189.9 89.1h1.0M171.1 82.2h1.0M164.6 88.1h1.0M165.5 93.9h1.0M167.1 95.6h1.0M163.5 96.8h1.0M163.8 77.7h1.0M171.5 92.2h1.0M170.5 75.6h1.0M173.9 85.0h1.0M170.4 84.4h1.0M160.7 90.7h1.0M176.0 88.3h1.0M172.1 95.3h1.0M165.6 81.4h1.0M168.0 92.3h1.0M172.7 88.9h1.0M170.8 86.0h1.0M169.1 77.0h1.0M176.2 90.2h1.0M178.5 88.3h1.0M167.7 91.9h1.0M170.0 85.7h1.0M161.5 84.1h1.0M168.8 88.9h1.0M173.9 89.4h1.0M176.9 91.1h1.0M171.5 100.2h1.0M169.5 81.3h1.0M164.5 101.0h1.0M171.8 63.8h1.0M161.6 93.2h1.0M171.2 79.8h1.0M170.3 101.0h1.0M163.0 79.3h1.0M172.7 93.9h1.0M168.5 78.6h1.0M174.9 77.5h1.0M166.4 92.0h1.0M173.9 92.5h1.0M182.4 80.7h1.0M171.6 104.0h1.0M176.3 83.6h1.0M165.1 97.7h1.0M167.4 78.4h1.0M157.9 78.8h1.0M169.0 86.7h1.0M161.3 78.4h1.0M171.0 89.4h1.0M157.0 69.9h1.0M163.4 87.3h1.0M170.8 81.8h1.0M173.2 78.8h1.0M157.2 87.6h1.0M166.9 84.3h1.0M190.2 82.6h1.0M176.3 92.0h1.0M171.4 88.2h1.0M157.2 88.8h1.0M162.9 95.9h1.0M174.2 85.4h1.0M172.0 92.2h1.0M173.7 82.9h1.0M177.6 90.5h1.0M170.9 89.9h1.0M176.8 81.9h1.0M157.9 74.7h1.0M189.7 76.4h1.0M167.8 78.9h1.0M165.1 90.1h1.0M181.9 85.0h1.0M174.9 83.8h1.0M177.7 89.5h1.0M165.3 91.4h1.0M172.3 96.4h1.0M175.7 81.5h1.0M161.2 90.1h1.0M168.4 91.3h1.0M168.2 78.9h1.0M167.8 86.9h1.0M164.6 79.1h1.0M160.2 84.3h1.0M173.5 89.1h1.0M172.0 73.3h1.0M179.1 79.5h1.0M169.6 80.0h1.0M164.8 86.7h1.0M158.7 80.5h1.0M170.8 88.8h1.0M167.7 79.6h1.0M185.9 82.1h1.0M188.0 90.5h1.0M182.4 88.4h1.0M163.0 87.1h1.0M159.2 85.7h1.0M168.2 93.5h1.0M163.1 96.2h1.0M181.2 83.2h1.0M171.0 80.6h1.0M166.9 78.2h1.0M170.0 98.9h1.0M179.9 79.3h1.0M162.7 76.1h1.0M173.9 88.0h1.0M159.7 93.8h1.0M168.5 76.8h1.0M164.9 85.1h1.0M172.5 75.3h1.0M171.3 80.8h1.0M179.5 98.1h1.0M175.4 87.2h1.0M165.3 84.0h1.0M159.7 86.5h1.0M163.7 88.1h1.0M166.7 85.2h1.0M168.3 77.1h1.0M164.1 77.2h1.0M178.5 101.0h1.0M177.4 80.3h1.0M167.9 94.9h1.0M166.2 80.6h1.0M168.2 95.7h1.0M169.7 91.2h1.0M169.9 84.4h1.0M157.4 101.0h1.0M166.7 79.0h1.0M158.1 84.2h1.0M170.3 79.6h1.0M175.3 80.2h1.0M161.7 83.3h1.0M171.3 78.9h1.0M165.3 83.6h1.0M164.6 97.8h1.0M185.4 73.0h1.0M177.0 76.6h1.0M173.8 78.9h1.0M166.6 82.5h1.0M173.3 93.5h1.0M168.5 91.4h1.0M173.6 89.6h1.0M163.0 87.5h1.0M169.5 103.8h1.0M167.0 77.6h1.0M159.0 77.4h1.0M183.3 85.8h1.0M176.4 87.5h1.0M163.9 84.2h1.0M158.5 79.7h1.0M164.4 76.2h1.0M163.5 83.9h1.0M165.3 80.7h1.0M158.2 82.4h1.0M163.5 77.9h1.0M170.5 96.0h1.0M173.3 89.4h1.0M157.8 99.8h1.0M170.0 82.1h1.0M162.3 86.4h1.0M161.9 84.1h1.0M167.5 86.1h1.0M164.6 84.1h1.0M175.5 84.8h1.0M175.5 71.3h1.0M167.6 84.0h1.0M165.0 91.1h1.0M184.1 71.5h1.0M184.7 83.4h1.0M173.1 90.3h1.0M168.8 95.4h1.0M177.9 85.4h1.0M181.4 89.4h1.0M165.9 99.1h1.0M184.2 95.7h1.0M168.8 82.6h1.0M178.6 81.5h1.0M166.0 93.6h1.0M170.6 87.7h1.0M166.4 82.0h1.0M170.2 84.3h1.0M178.0 88.3h1.0M163.0 84.5h1.0M167.7 84.1h1.0M174.3 84.2h1.0M166.3 74.9h1.0M186.1 98.9h1.0M158.5 95.1h1.0M190.0 97.3h1.0M164.8 85.0h1.0M177.7 86.9h1.0M182.8 90.3h1.0M174.2 92.1h1.0M158.9 72.4h1.0M167.4 88.6h1.0M170.6 78.6h1.0M174.5 85.5h1.0M177.8 81.1h1.0M178.9 98.7h1.0M181.7 90.0h1.0M162.5 85.8h1.0M177.9 96.4h1.0M158.2 85.5h1.0M171.2 80.6h1.0M161.6 84.6h1.0M157.3 83.3h1.0M177.3 86.4h1.0M169.8 92.3h1.0M177.9 85.1h1.0M157.5 85.5h1.0M160.4 93.5h1.0M169.2 88.1h1.0M164.7 93.1h1.0M170.6 87.0h1.0M165.1 76.3h1.0M167.3 77.6h1.0M160.9 73.7h1.0M180.2 94.5h1.0M167.5 89.1h1.0M160.6 82.5h1.0M175.4 78.6h1.0M173.8 88.7h1.0M171.7 85.0h1.0M171.8 88.4h1.0M166.9 79.7h1.0M169.0 77.7h1.0M158.2 97.7h1.0M157.7 78.9h1.0M160.2 85.8h1.0M172.3 95.9h1.0M179.7 72.4h1.0M168.7 91.2h1.0M167.9 86.5h1.0M179.0 84.9h1.0M167.1 88.0h1.0M175.2 77.2h1.0M173.4 69.5h1.0M159.5 100.0h1.0M172.5 83.9h1.0M171.6 92.6h1.0M160.9 94.2h1.0M161.8 88.1h1.0M159.9 89.4h1.0M180.9 91.3h1.0M186.8 97.7h1.0M175.6 89.7h1.0M182.5 95.4h1.0M159.3 83.8h1.0M181.2 82.9h1.0M185.7 86.6h1.0M182.9 89.0h1.0M180.1 74.4h1.0M188.8 62.5h1.0M179.8 75.5h1.0M180.0 72.3h1.0M180.0 74.4h1.0M182.1 69.4h1.0M184.0 71.0h1.0M180.1 67.0h1.0M188.5 67.1h1.0M178.1 70.5h1.0M177.2 76.2h1.0M198.3 69.7h1.0M178.4 78.7h1.0M180.2 69.3h1.0M183.2 71.6h1.0M184.3 65.0h1.0M181.6 69.8h1.0M176.0 74.2h1.0M180.2 78.3h1.0M185.0 65.3h1.0M181.2 67.5h1.0M186.5 75.0h1.0M187.5 66.8h1.0M187.4 70.6h1.0M184.7 68.9h1.0M178.5 73.3h1.0M181.1 68.7h1.0M188.3 69.8h1.0M177.6 71.1h1.0M191.0 61.5h1.0M185.3 73.8h1.0M174.0 67.4h1.0M182.5 70.1h1.0M181.1 70.1h1.0M182.0 68.3h1.0M183.0 71.7h1.0M182.3 76.4h1.0M182.7 77.7h1.0M176.2 74.0h1.0M178.3 74.8h1.0M188.5 72.3h1.0M175.8 73.6h1.0M184.3 74.8h1.0M179.9 74.8h1.0M184.3 67.9h1.0M179.2 71.5h1.0M183.1 72.4h1.0M189.0 67.3h1.0M181.6 68.7h1.0M186.6 67.9h1.0M180.7 70.0h1.0M190.6 69.4h1.0M183.4 71.2h1.0M189.7 69.5h1.0M183.0 73.1h1.0M180.3 60.1h1.0M177.0 79.1h1.0M188.2 64.2h1.0M182.7 71.3h1.0M185.1 60.9h1.0M197.1 56.9h1.0M195.4 68.1h1.0M196.0 56.1h1.0M198.4 77.2h1.0M199.5 63.9h1.0M196.6 65.9h1.0M193.9 54.0h1.0M186.6 69.0h1.0M195.7 69.6h1.0M194.0 51.8h1.0M199.5 58.4h1.0M199.3 59.0h1.0M196.3 57.8h1.0M199.7 71.0h1.0M194.3 76.1h1.0M194.4 55.1h1.0M191.4 68.8h1.0M193.4 60.3h1.0M195.3 70.9h1.0M198.5 46.1h1.0M191.8 59.2h1.0M197.5 69.9h1.0M203.3 57.0h1.0M189.5 69.7h1.0M193.6 58.7h1.0M194.6 69.4h1.0M198.3 65.8h1.0M202.0 59.3h1.0M199.2 57.0h1.0M194.4 60.9h1.0M191.4 69.5h1.0M194.3 61.9h1.0M194.4 57.7h1.0M195.5 83.6h1.0M191.2 51.7h1.0M200.3 60.5h1.0M191.8 65.5h1.0M197.1 55.2h1.0M195.3 61.9h1.0M190.4 59.2h1.0M194.8 52.3h1.0M194.6 64.9h1.0M193.8 54.6h1.0M197.6 57.1h1.0M192.8 70.0h1.0M204.1 54.7h1.0M198.8 65.9h1.0M191.1 69.7h1.0M185.2 68.4h1.0M199.2 65.0h1.0M195.5 60.4h1.0M194.8 52.8h1.0M190.9 62.9h1.0M189.1 64.9h1.0M187.6 58.6h1.0M204.2 55.5h1.0M200.6 67.6h1.0M192.5 55.1h1.0M201.6 64.8h1.0M187.6 58.8h1.0M197.2 51.0h1.0M197.2 72.4h1.0M191.3 65.9h1.0M192.8 65.5h1.0M190.6 52.7h1.0M194.7 61.1h1.0M199.5 63.7h1.0M198.3 57.1h1.0M196.1 72.6h1.0M198.7 48.8h1.0M187.8 66.5h1.0M202.1 49.6h1.0M194.3 51.7h1.0M189.6 53.5h1.0M193.1 65.6h1.0M192.1 57.2h1.0M194.9 57.5h1.0M195.7 55.9h1.0M185.7 52.2h1.0M199.3 56.0h1.0M201.0 55.4h1.0M190.6 59.7h1.0M200.1 59.3h1.0M199.3 46.1h1.0M198.3 57.5h1.0M200.7 69.6h1.0M189.3 58.6h1.0M197.3 61.2h1.0M190.7 57.0h1.0M203.5 57.2h1.0M190.8 61.1h1.0M189.9 52.8h1.0M198.8 60.5h1.0M196.9 50.7h1.0M194.6 63.7h1.0M195.0 51.3h1.0M196.8 65.8h1.0M201.0 68.1h1.0M191.8 50.9h1.0M192.4 65.9h1.0M192.3 58.8h1.0M194.2 69.0h1.0M194.6 58.0h1.0M189.6 59.6h1.0M195.7 59.5h1.0M189.7 69.6h1.0M193.3 48.8h1.0M193.6 66.4h1.0M193.6 62.0h1.0M200.1 58.2h1.0M200.7 59.8h1.0M198.6 67.4h1.0M200.5 66.7h1.0M193.4 72.4h1.0M199.8 57.2h1.0M194.3 49.0h1.0M195.4 57.7h1.0M195.5 60.1h1.0M189.4 58.5h1.0M192.2 69.3h1.0M193.9 76.2h1.0M195.9 63.8h1.0M194.0 49.7h1.0M191.3 68.1h1.0M190.1 57.1h1.0M194.5 61.6h1.0M190.0 66.8h1.0M190.0 63.7h1.0M194.1 60.9h1.0M195.2 63.2h1.0M191.4 66.2h1.0M187.7 65.4h1.0M195.6 74.8h1.0M197.6 41.8h1.0M193.0 56.2h1.0M193.1 57.5h1.0M185.7 66.7h1.0M197.9 62.7h1.0M190.3 66.8h1.0M197.2 52.0h1.0M192.3 59.9h1.0M194.0 65.5h1.0M193.8 61.0h1.0M187.7 58.7h1.0M204.9 63.1h1.0M188.6 72.0h1.0M194.9 47.6h1.0M191.4 71.6h1.0M193.6 63.1h1.0M199.7 55.7h1.0M187.4 65.6h1.0M194.0 61.6h1.0M196.4 69.2h1.0M195.0 56.1h1.0M196.0 67.6h1.0M191.7 55.4h1.0M188.3 63.4h1.0M189.5 65.8h1.0M192.9 60.8h1.0M197.3 65.5h1.0M194.8 57.4h1.0M200.6 68.2h1.0M194.9 58.0h1.0M195.2 56.7h1.0M195.3 60.5h1.0M187.9 61.0h1.0M196.7 55.9h1.0M190.3 66.5h1.0M193.1 60.5h1.0M203.4 65.2h1.0M189.8 51.6h1.0M195.0 52.8h1.0M195.6 59.6h1.0M195.0 54.9h1.0M194.5 60.4h1.0M192.4 64.9h1.0M202.1 68.6h1.0M186.9 70.9h1.0M190.6 66.4h1.0M200.1 56.7h1.0M196.6 64.9h1.0M191.6 57.9h1.0M191.1 64.8h1.0M193.6 54.5h1.0M204.5 70.1h1.0M196.4 64.0h1.0M190.6 59.5h1.0M195.4 52.5h1.0M192.1 63.1h1.0M200.2 57.9h1.0M195.6 63.0h1.0M199.3 56.7h1.0M195.1 57.8h1.0M202.2 65.4h1.0M196.1 70.9h1.0M195.6 53.1h1.0M190.6 60.1h1.0M192.9 63.9h1.0M196.0 60.3h1.0M192.6 58.5h1.0M204.0 75.4h1.0M194.5 55.9h1.0M191.6 63.7h1.0M198.3 58.2h1.0M192.5 60.7h1.0M196.0 46.5h1.0M194.1 67.1h1.0M191.8 60.0h1.0M199.8 55.1h1.0M194.8 72.1h1.0M198.6 59.5h1.0M193.2 57.4h1.0M189.1 55.8h1.0M189.8 68.3h1.0M192.5 61.5h1.0M193.8 59.3h1.0M194.7 52.7h1.0M196.5 55.5h1.0M189.8 63.6h1.0M195.4 61.2h1.0M189.9 48.3h1.0M191.9 55.7h1.0M204.2 62.8h1.0M199.3 78.8h1.0M193.1 56.4h1.0M201.3 46.9h1.0M199.9 66.3h1.0M197.9 58.2h1.0M200.1 52.8h1.0M193.6 65.0h1.0M194.0 59.8h1.0M191.2 55.1h1.0M196.7 52.8h1.0M189.7 60.5h1.0M192.6 61.9h1.0M196.2 49.8h1.0M192.6 67.7h1.0M195.8 53.1h1.0M201.4 70.4h1.0M190.8 63.5h1.0M199.8 60.1h1.0M191.9 63.5h1.0M191.0 57.5h1.0M195.4 60.9h1.0M198.4 72.0h1.0M191.8 57.6h1.0M191.7 66.7h1.0M192.8 55.5h1.0M191.8 61.2h1.0M195.2 67.6h1.0M191.8 53.5h1.0M193.5 63.5h1.0M195.8 47.4h1.0M192.9 53.9h1.0M198.9 58.6h1.0M191.9 67.1h1.0M191.6 66.0h1.0M202.2 55.4h1.0M200.2 60.5h1.0M194.8 62.6h1.0M197.7 51.2h1.0M195.8 64.1h1.0M192.6 70.1h1.0M197.1 69.4h1.0M195.7 57.5h1.0M199.4 58.7h1.0M187.5 55.3h1.0M197.6 58.1h1.0M195.1 59.7h1.0M191.9 65.8h1.0M192.9 61.9h1.0M193.0 55.3h1.0M189.5 66.7h1.0M192.3 67.1h1.0M197.5 57.4h1.0M188.7 59.7h1.0M193.1 60.7h1.0M185.5 50.7h1.0M192.3 62.2h1.0M196.0 65.7h1.0M194.3 74.0h1.0M194.7 62.6h1.0M190.3 59.5h1.0M196.7 60.4h1.0M191.1 65.3h1.0M198.0 66.5h1.0M195.3 55.8h1.0M193.0 62.6h1.0M200.1 65.6h1.0M193.0 48.3h1.0M198.4 70.3h1.0M194.9 60.0h1.0M194.5 67.0h1.0M198.3 61.1h1.0M196.2 59.8h1.0M194.5 60.9h1.0M194.1 63.2h1.0M195.3 67.0h1.0M194.8 59.7h1.0M193.3 54.1h1.0M190.6 56.8h1.0M184.7 55.0h1.0M194.1 66.3h1.0M193.6 55.2h1.0M199.1 71.3h1.0M196.2 62.2h1.0M198.8 60.8h1.0M201.1 69.9h1.0M194.1 59.0h1.0M191.3 59.5h1.0M197.6 66.5h1.0M192.2 66.2h1.0M193.5 54.9h1.0M200.0 77.4h1.0M196.6 65.1h1.0M198.7 53.3h1.0M189.4 60.3h1.0M194.6 67.4h1.0M198.8 62.9h1.0M189.6 67.0h1.0M195.3 76.8h1.0M196.0 67.5h1.0M185.7 74.5h1.0M200.6 65.9h1.0M191.8 57.1h1.0M194.0 71.3h1.0M200.9 56.9h1.0M187.7 67.7h1.0M196.3 65.7h1.0M192.8 56.0h1.0M194.7 56.9h1.0M191.4 60.4h1.0M199.7 64.1h1.0M190.3 70.2h1.0M195.9 62.0h1.0M196.6 73.9h1.0M194.2 67.3h1.0M193.5 57.4h1.0M193.5 57.6h1.0M198.4 62.2h1.0M196.2 58.3h1.0M194.2 61.1h1.0M190.4 66.7h1.0M195.1 63.4h1.0M196.5 68.0h1.0M194.4 57.2h1.0M200.0 56.1h1.0M187.3 52.6h1.0M204.0 50.1h1.0M193.8 58.8h1.0M190.2 62.2h1.0M187.9 60.4h1.0M197.8 61.8h1.0M196.7 75.0h1.0M193.7 54.7h1.0M194.3 60.0h1.0M195.2 58.6h1.0M192.9 55.9h1.0M198.9 70.6h1.0M196.9 61.6h1.0M194.1 69.9h1.0M188.3 54.5h1.0M199.7 74.0h1.0M192.7 76.5h1.0M190.6 56.1h1.0M199.4 61.7h1.0M196.4 61.0h1.0M186.9 65.4h1.0M188.2 53.4h1.0M193.0 64.9h1.0M189.7 66.5h1.0M193.9 57.9h1.0M204.5 47.1h1.0M205.9 57.4h1.0M194.4 59.3h1.0M197.6 66.8h1.0M197.9 57.8h1.0M194.1 54.4h1.0M188.9 65.9h1.0M198.6 64.3h1.0M193.9 66.6h1.0M196.3 62.2h1.0M197.2 68.7h1.0M191.5 65.2h1.0M200.9 50.3h1.0M194.8 63.2h1.0M195.4 66.9h1.0M192.9 62.1h1.0M197.2 71.4h1.0M198.4 58.9h1.0M192.4 66.4h1.0M196.8 53.9h1.0M192.9 61.9h1.0M189.9 58.3h1.0M193.3 55.4h1.0M196.9 53.4h1.0M196.6 63.3h1.0M198.6 64.7h1.0M192.0 57.8h1.0M193.4 53.8h1.0M194.8 56.2h1.0M196.9 66.8h1.0M194.1 54.1h1.0M190.9 69.3h1.0M188.6 51.0h1.0M199.0 63.7h1.0M198.6 66.2h1.0M192.0 69.8h1.0M200.2 59.1h1.0M194.3 56.9h1.0M196.3 52.6h1.0M199.4 67.8h1.0M192.7 61.1h1.0M191.6 58.9h1.0M187.9 59.2h1.0M195.7 63.6h1.0M196.3 62.1h1.0M197.8 69.6h1.0M196.9 47.9h1.0M195.0 67.4h1.0M198.9 58.5h1.0M190.6 61.4h1.0M196.0 59.9h1.0M196.5 61.4h1.0M194.1 66.8h1.0M201.1 63.4h1.0M196.2 52.5h1.0M199.7 61.5h1.0M198.0 61.3h1.0M193.9 64.3h1.0M201.9 62.2h1.0M198.8 61.4h1.0M194.6 68.6h1.0M194.1 54.9h1.0M190.6 76.1h1.0M194.0 58.3h1.0M193.7 55.2h1.0M195.4 67.0h1.0M192.9 68.9h1.0M196.7 70.1h1.0M194.2 71.4h1.0M188.5 65.1h1.0M192.6 62.4h1.0M191.1 64.4h1.0M189.7 61.9h1.0M193.6 58.4h1.0M198.1 72.4h1.0M190.3 73.8h1.0M186.9 62.0h1.0M193.9 60.5h1.0M206.0 58.8h1.0M192.3 51.0h1.0M195.6 57.6h1.0M193.0 58.6h1.0M197.8 61.9h1.0M200.1 55.5h1.0M194.0 49.6h1.0M199.1 66.2h1.0M190.4 73.2h1.0M195.4 48.2h1.0M189.7 61.1h1.0M195.3 67.6h1.0M192.2 54.4h1.0M195.5 52.7h1.0M190.3 62.2h1.0M195.5 60.5h1.0M195.0 57.9h1.0M192.4 72.7h1.0M191.5 71.8h1.0M190.1 66.3h1.0M193.1 61.6h1.0M196.1 59.9h1.0M194.1 67.8h1.0M195.2 60.5h1.0M199.4 71.7h1.0M193.4 70.2h1.0M195.7 58.2h1.0M197.7 67.0h1.0M196.6 72.3h1.0M196.1 66.4h1.0M194.9 56.0h1.0M201.9 60.4h1.0M194.3 59.9h1.0M193.1 62.9h1.0M196.8 62.4h1.0M200.8 59.9h1.0M200.0 67.8h1.0M194.7 71.0h1.0M197.8 58.6h1.0M196.5 52.6h1.0M194.9 64.7h1.0M197.1 62.3h1.0M197.0 65.0h1.0M195.1 57.8h1.0M201.2 64.2h1.0M193.2 56.4h1.0M199.9 69.4h1.0M202.6 73.2h1.0M202.7 56.3h1.0M195.6 45.5h1.0M193.9 59.2h1.0M188.5 58.9h1.0M194.4 63.6h1.0M203.9 62.5h1.0M188.6 65.6h1.0M188.7 80.0h1.0M197.8 58.8h1.0M197.0 60.0h1.0M187.6 65.2h1.0M194.4 50.4h1.0M195.9 67.5h1.0M188.8 58.4h1.0M198.3 53.1h1.0M189.5 56.9h1.0M198.9 65.7h1.0M195.4 67.9h1.0M191.9 70.6h1.0M188.5 65.3h1.0M193.3 57.8h1.0M194.2 66.1h1.0M194.1 62.0h1.0M192.3 77.7h1.0M193.8 49.1h1.0M197.9 73.0h1.0M191.1 67.5h1.0M193.8 65.2h1.0M196.3 61.9h1.0M194.5 58.9h1.0M197.9 56.3h1.0M200.5 52.4h1.0M193.2 75.8h1.0M195.4 68.7h1.0M183.4 67.0h1.0M193.3 65.0h1.0M197.1 50.1h1.0M190.3 60.8h1.0M199.7 63.4h1.0M187.4 70.2h1.0M199.7 56.1h1.0M192.6 64.4h1.0M190.7 61.1h1.0M192.7 62.8h1.0M193.6 57.6h1.0M190.7 65.0h1.0M189.3 63.2h1.0M192.6 50.5h1.0M198.2 70.6h1.0M196.1 77.0h1.0M199.7 57.0h1.0M192.2 70.2h1.0M193.2 56.3h1.0M193.3 59.3h1.0M195.1 74.1h1.0M196.3 64.0h1.0M201.3 72.6h1.0M197.2 64.6h1.0M195.2 69.3h1.0M199.7 61.7h1.0M191.6 72.1h1.0M189.6 74.4h1.0M197.1 67.2h1.0M195.2 59.1h1.0M195.0 60.4h1.0M198.1 56.6h1.0M193.3 66.7h1.0M194.1 66.2h1.0M196.0 58.3h1.0M197.0 68.8h1.0M198.3 59.1h1.0M195.0 74.6h1.0M195.6 68.2h1.0M185.3 73.2h1.0M199.2 58.2h1.0M188.6 56.4h1.0M194.4 51.0h1.0M204.2 67.1h1.0M193.3 55.5h1.0M188.5 71.6h1.0M200.7 63.8h1.0M192.4 67.8h1.0M193.9 54.5h1.0M193.9 59.0h1.0M197.3 64.1h1.0M197.5 67.7h1.0M194.1 54.5h1.0M198.8 65.1h1.0M191.1 57.5h1.0M197.1 68.2h1.0M192.2 61.4h1.0M197.2 61.0h1.0M192.0 65.7h1.0M192.9 70.4h1.0M200.2 61.3h1.0M190.3 70.9h1.0M190.1 56.4h1.0M196.7 64.7h1.0M193.5 55.6h1.0M192.9 64.3h1.0M194.0 57.0h1.0M202.6 63.1h1.0M190.6 66.9h1.0M193.5 56.6h1.0M195.2 51.5h1.0M190.9 61.8h1.0M194.4 66.3h1.0M196.4 64.4h1.0M191.1 57.0h1.0M198.8 68.3h1.0M190.2 61.0h1.0M194.0 67.8h1.0M195.8 57.2h1.0M206.6 65.7h1.0M187.9 70.5h1.0M195.6 58.6h1.0M204.1 61.0h1.0M192.2 66.9h1.0M198.7 66.3h1.0M195.3 65.2h1.0M189.1 62.1h1.0M196.0 52.7h1.0M191.1 62.8h1.0M194.8 54.5h1.0M188.8 63.4h1.0M197.3 47.7h1.0M185.3 72.1h1.0M193.9 75.1h1.0M199.4 65.7h1.0M196.5 57.3h1.0M193.2 60.9h1.0M193.6 68.6h1.0M192.9 67.1h1.0M204.8 58.3h1.0M194.3 70.6h1.0M194.5 67.5h1.0M191.7 66.3h1.0M192.7 60.5h1.0M196.8 62.8h1.0M192.2 58.2h1.0M191.4 64.0h1.0M192.4 58.5h1.0M193.2 70.4h1.0M195.2 63.0h1.0M192.7 64.2h1.0M193.8 64.9h1.0M191.7 64.9h1.0M199.2 53.6h1.0M194.8 71.0h1.0M193.3 63.4h1.0M195.6 59.2h1.0M194.3 56.5h1.0M188.5 58.4h1.0M193.8 58.8h1.0M200.8 62.9h1.0M196.4 57.2h1.0M199.0 63.5h1.0M192.0 63.7h1.0M188.9 58.3h1.0M191.8 77.0h1.0M199.6 62.0h1.0M190.7 64.9h1.0M191.5 63.5h1.0M198.7 61.7h1.0M193.5 67.1h1.0M193.7 71.6h1.0M195.9 62.3h1.0M194.8 57.2h1.0M193.3 66.2h1.0M195.5 48.8h1.0M191.8 63.7h1.0M194.3 61.5h1.0M197.0 64.8h1.0M190.5 53.0h1.0M193.7 59.9h1.0M190.2 56.1h1.0M197.3 59.2h1.0M196.8 66.4h1.0M198.1 61.4h1.0M198.4 58.8h1.0M198.4 70.2h1.0M197.2 62.7h1.0M185.8 54.9h1.0M189.2 50.8h1.0M194.2 54.7h1.0M194.3 61.6h1.0M193.5 52.8h1.0M193.7 55.3h1.0M189.7 60.1h1.0M192.4 57.9h1.0M188.6 56.8h1.0M189.8 54.8h1.0M189.6 55.6h1.0M189.8 56.0h1.0M191.5 58.4h1.0M191.9 56.3h1.0M189.9 59.2h1.0M196.4 49.5h1.0M191.1 58.8h1.0M198.0 54.2h1.0M196.1 56.0h1.0M188.5 54.5h1.0M195.7 58.2h1.0M187.8 55.6h1.0M197.6 58.2h1.0M193.8 53.2h1.0M189.2 56.7h1.0M185.0 60.2h1.0M191.2 59.9h1.0M187.9 54.8h1.0M196.4 56.5h1.0M188.3 54.7h1.0M191.8 55.6h1.0M194.3 56.1h1.0M192.6 60.2h1.0M193.4 58.0h1.0M191.7 61.0h1.0M195.0 61.3h1.0M189.3 51.6h1.0M194.5 57.1h1.0M188.4 54.5h1.0M193.1 50.4h1.0M188.6 52.3h1.0M191.8 54.3h1.0M194.5 61.8h1.0M196.8 56.3h1.0M186.3 55.4h1.0M189.9 55.9h1.0M189.1 53.4h1.0M196.7 56.6h1.0M189.5 55.7h1.0M194.9 50.4h1.0M190.7 54.2h1.0M187.5 67.6h1.0M192.9 58.2h1.0M188.6 55.7h1.0M195.0 58.3h1.0M195.3 52.7h1.0M197.1 56.3h1.0M189.0 59.0h1.0M197.9 50.5h1.0M195.8 53.5h1.0M186.3 54.6h1.0M200.1 55.0h1.0M198.3 54.3h1.0M188.9 57.0h1.0M193.6 59.5h1.0M187.8 57.2h1.0M192.0 59.5h1.0M193.1 59.6h1.0M194.6 54.0h1.0M189.6 57.0h1.0M192.4 54.7h1.0M189.2 58.3h1.0M193.8 54.8h1.0M194.8 55.4h1.0M192.7 61.9h1.0M196.4 55.4h1.0M195.1 50.7h1.0M193.7 56.4h1.0M196.5 57.0h1.0M188.2 54.3h1.0M192.3 56.3h1.0M186.3 59.5h1.0M192.4 54.3h1.0M190.8 55.4h1.0M195.3 53.6h1.0M190.9 57.2h1.0M190.2 55.6h1.0M192.1 52.9h1.0M192.0 55.5h1.0M194.2 62.3h1.0M189.4 50.2h1.0M187.3 51.3h1.0M187.0 57.2h1.0M196.4 51.3h1.0M188.1 62.7h1.0M190.9 50.9h1.0M188.6 51.6h1.0M195.5 54.3h1.0M190.5 59.7h1.0M196.7 58.8h1.0M190.0 58.0h1.0M193.5 57.1h1.0M195.1 60.5h1.0M195.8 49.8h1.0M188.3 57.0h1.0M191.2 60.9h1.0M192.2 52.4h1.0M186.1 57.1h1.0M194.9 60.2h1.0M193.8 60.3h1.0M194.2 55.6h1.0M187.6 62.4h1.0M193.1 57.8h1.0M194.0 59.7h1.0M196.0 52.4h1.0M190.7 53.5h1.0M194.8 53.5h1.0M199.3 62.1h1.0M191.0 48.1h1.0M191.1 49.8h1.0M202.7 98.4h1.0M199.2 99.3h1.0M182.5 103.1h1.0M196.3 92.4h1.0M196.7 91.3h1.0M204.9 80.0h1.0M188.1 90.9h1.0M195.5 88.3h1.0M204.1 100.2h1.0M202.5 97.5h1.0M193.5 103.2h1.0M196.8 100.5h1.0M190.5 101.1h1.0M205.7 96.4h1.0M196.1 93.6h1.0M205.2 89.8h1.0M202.7 92.4h1.0M193.7 85.7h1.0M197.6 95.4h1.0M201.9 92.0h1.0M200.8 77.9h1.0M206.6 73.1h1.0M204.4 87.3h1.0M200.1 89.2h1.0M202.1 90.4h1.0M194.6 101.8h1.0M195.2 88.0h1.0M201.6 83.4h1.0M200.2 95.3h1.0M192.5 99.7h1.0M198.0 104.3h1.0M194.2 85.2h1.0M195.5 90.7h1.0M205.3 89.4h1.0M193.4 103.3h1.0M194.9 97.5h1.0M201.5 92.6h1.0M198.8 97.7h1.0M199.3 89.9h1.0M190.7 91.0h1.0M198.3 92.2h1.0M196.5 88.9h1.0M194.1 90.6h1.0M195.5 95.0h1.0M196.9 94.2h1.0M202.9 103.1h1.0M208.5 98.6h1.0M199.1 91.9h1.0M206.4 76.7h1.0M199.1 81.8h1.0M190.6 88.8h1.0M198.8 89.7h1.0M205.3 83.0h1.0M205.9 89.7h1.0M193.8 93.2h1.0M210.4 87.8h1.0M194.6 91.4h1.0M194.6 91.7h1.0M195.7 87.3h1.0M206.2 86.2h1.0M200.6 91.4h1.0M203.3 94.3h1.0M186.7 84.9h1.0M198.2 77.7h1.0M197.9 85.5h1.0M202.2 96.0h1.0M196.0 80.8h1.0M204.9 98.9h1.0M194.8 88.1h1.0M191.1 93.2h1.0M189.8 86.8h1.0M205.2 96.5h1.0M202.6 92.6h1.0M194.4 94.9h1.0M204.4 78.4h1.0M197.6 97.4h1.0M197.9 80.3h1.0M190.8 89.9h1.0M195.6 96.0h1.0M199.1 90.9h1.0M199.6 95.8h1.0M195.5 93.5h1.0M203.8 92.9h1.0M206.2 86.5h1.0M194.2 99.4h1.0M200.7 100.3h1.0M190.4 88.4h1.0M200.7 85.9h1.0M193.4 93.7h1.0M197.7 86.9h1.0M199.5 93.2h1.0M197.3 98.1h1.0M204.1 97.0h1.0M194.4 102.8h1.0M196.1 95.5h1.0M200.3 84.8h1.0M198.4 86.2h1.0M199.9 96.0h1.0M197.4 104.4h1.0M194.3 89.7h1.0M202.1 85.7h1.0M199.0 102.2h1.0M203.4 91.4h1.0M205.7 97.2h1.0M196.7 99.9h1.0M194.6 85.2h1.0M196.2 89.7h1.0M195.1 88.3h1.0M188.0 96.0h1.0M207.3 96.9h1.0M200.8 88.7h1.0M211.0 96.2h1.0M195.6 79.6h1.0M201.7 94.7h1.0M200.0 94.7h1.0M198.2 92.2h1.0M203.8 81.9h1.0M198.6 91.5h1.0M198.2 84.6h1.0M199.5 102.5h1.0M186.8 90.2h1.0M194.8 90.8h1.0M194.7 91.4h1.0M207.3 96.0h1.0M201.7 92.8h1.0M202.8 96.0h1.0M201.9 85.7h1.0M197.6 100.0h1.0M207.4 88.7h1.0M197.5 97.6h1.0M191.1 93.9h1.0M201.9 99.8h1.0M204.9 91.7h1.0M199.2 81.8h1.0M200.6 84.1h1.0M203.7 90.6h1.0M206.7 102.0h1.0M201.7 89.3h1.0M207.5 92.6h1.0M200.2 101.1h1.0M209.7 88.2h1.0M191.3 94.4h1.0M203.6 94.2h1.0M200.2 88.0h1.0M199.3 93.8h1.0M191.9 99.6h1.0M204.3 99.6h1.0M197.6 89.9h1.0M193.4 103.4h1.0M195.3 94.7h1.0M197.4 90.3h1.0M199.2 87.1h1.0M193.8 85.3h1.0M193.8 98.0h1.0M200.8 71.9h1.0M198.3 91.1h1.0M209.0 82.5h1.0M196.4 91.0h1.0M202.6 92.0h1.0M207.9 83.0h1.0M197.6 85.3h1.0M203.9 101.1h1.0M200.2 88.3h1.0M198.9 92.2h1.0M207.1 90.0h1.0M193.4 98.1h1.0M195.4 100.8h1.0M189.3 98.7h1.0M198.0 96.1h1.0M203.8 96.2h1.0M197.3 83.9h1.0M203.0 101.4h1.0M194.6 88.3h1.0M204.7 86.0h1.0M198.0 89.6h1.0M196.1 86.6h1.0M207.3 95.1h1.0M198.6 97.3h1.0M201.7 101.2h1.0M199.3 91.5h1.0M202.4 88.0h1.0M199.3 90.2h1.0M192.3 84.0h1.0M200.1 87.0h1.0M201.2 103.6h1.0M200.7 86.8h1.0M197.4 89.0h1.0M208.2 96.6h1.0M194.8 94.0h1.0M199.3 97.6h1.0M199.7 86.1h1.0M192.9 84.7h1.0M192.3 101.5h1.0M202.1 87.4h1.0M202.2 91.5h1.0M199.4 93.7h1.0M190.2 79.2h1.0M197.1 90.9h1.0M199.9 87.6h1.0M201.9 95.9h1.0M204.9 90.0h1.0M201.0 76.4h1.0M203.7 97.8h1.0M207.4 74.2h1.0M186.3 89.3h1.0M203.9 87.3h1.0M196.3 87.9h1.0M201.2 92.1h1.0M199.7 98.9h1.0M193.2 86.1h1.0M193.9 87.9h1.0M200.9 97.4h1.0M197.7 95.8h1.0M202.5 97.3h1.0M196.6 94.6h1.0M209.9 90.5h1.0M197.3 88.8h1.0M209.6 88.9h1.0M194.6 98.6h1.0M201.6 102.7h1.0M204.5 104.0h1.0M191.7 84.9h1.0M193.5 90.5h1.0M200.7 92.2h1.0M204.7 91.1h1.0M205.8 84.3h1.0M201.5 103.3h1.0M204.1 102.9h1.0M192.5 91.1h1.0M196.4 89.0h1.0M206.2 92.2h1.0M195.7 83.7h1.0M197.3 89.8h1.0M189.4 97.7h1.0M197.6 103.9h1.0M190.2 98.5h1.0M200.5 101.4h1.0M206.3 84.8h1.0M200.2 69.3h1.0M199.5 102.0h1.0M196.5 93.5h1.0M201.5 91.6h1.0M192.7 104.0h1.0M196.2 85.4h1.0M210.0 85.5h1.0M191.7 87.0h1.0M195.6 103.7h1.0M191.2 98.9h1.0M205.1 79.6h1.0M197.3 104.0h1.0M191.9 92.3h1.0M192.0 95.3h1.0M204.4 86.8h1.0M202.1 104.3h1.0M202.8 95.3h1.0M198.2 101.6h1.0M203.3 85.1h1.0M205.5 97.2h1.0M202.0 92.9h1.0M190.1 90.6h1.0M188.2 86.5h1.0M190.8 87.3h1.0M199.9 83.9h1.0M190.6 87.5h1.0M192.8 92.0h1.0M198.7 96.4h1.0M193.9 81.1h1.0M191.7 84.9h1.0M203.5 87.9h1.0M201.1 80.6h1.0" stroke="#000" stroke-width="1.0" stroke-opacity="0.55" fill="none"/>
<path d="M203.6 100.1h1.0M208.4 96.8h1.0M187.3 51.1h1.0M185.1 73.4h1.0M209.2 67.1h1.0M208.0 94.8h1.0M232.8 60.4h1.0M196.0 104.0h1.0M184.4 75.3h1.0M203.8 61.3h1.0M192.6 73.7h1.0M185.8 64.9h1.0M220.2 104.1h1.0M228.7 77.9h1.0M205.1 66.7h1.0M189.5 76.9h1.0M203.3 101.4h1.0M198.6 58.1h1.0M178.3 45.3h1.0M212.1 98.5h1.0M204.7 86.1h1.0M218.5 67.2h1.0M191.0 73.8h1.0M199.2 94.9h1.0M173.2 97.9h1.0M237.7 72.0h1.0M167.6 87.2h1.0M182.0 74.2h1.0M194.0 103.4h1.0M175.6 64.1h1.0M205.9 94.8h1.0M200.6 75.8h1.0M203.1 89.2h1.0M200.7 47.5h1.0M201.0 38.8h1.0M197.2 76.9h1.0M206.1 93.3h1.0M211.9 96.3h1.0M195.7 62.9h1.0M192.8 81.3h1.0M193.5 49.8h1.0M204.3 104.8h1.0M194.0 64.8h1.0M193.8 98.0h1.0M176.6 70.3h1.0M229.1 69.2h1.0M180.8 104.2h1.0M225.4 59.5h1.0M211.9 98.3h1.0M215.4 68.7h1.0M203.7 59.3h1.0M207.3 60.0h1.0M204.2 95.3h1.0M208.8 73.6h1.0M212.6 68.7h1.0M223.1 48.0h1.0M184.6 96.1h1.0M207.3 93.9h1.0M224.6 80.8h1.0M221.3 89.0h1.0M204.7 65.5h1.0M204.2 77.9h1.0M203.7 76.9h1.0M165.3 64.8h1.0M213.2 79.3h1.0M175.2 61.9h1.0M233.6 63.2h1.0M210.1 52.6h1.0M198.5 77.5h1.0M209.8 62.0h1.0M202.2 66.0h1.0M191.8 99.9h1.0M198.6 74.2h1.0M205.4 74.4h1.0M187.7 47.4h1.0M211.1 65.6h1.0M217.3 92.7h1.0M216.7 84.9h1.0M218.3 76.0h1.0M220.2 71.8h1.0M211.1 76.2h1.0M220.4 82.2h1.0M201.2 69.1h1.0M222.1 103.9h1.0M230.2 95.4h1.0M194.8 72.2h1.0M177.8 100.4h1.0M233.4 51.5h1.0M218.2 98.2h1.0M228.5 78.4h1.0M214.3 91.0h1.0M204.0 68.8h1.0M190.4 77.7h1.0M185.4 85.5h1.0M222.8 93.9h1.0M215.6 84.2h1.0M205.2 83.0h1.0M183.0 64.3h1.0M192.2 104.0h1.0M190.7 78.7h1.0M195.6 70.9h1.0M157.1 69.2h1.0M203.8 53.3h1.0M224.6 61.7h1.0M191.9 47.6h1.0M200.7 78.7h1.0M204.6 73.5h1.0M184.8 78.9h1.0M207.0 52.5h1.0M187.7 67.4h1.0M193.5 63.4h1.0M204.3 92.8h1.0M199.5 48.1h1.0M201.8 47.6h1.0M186.0 98.1h1.0M211.7 81.5h1.0M183.4 46.8h1.0M213.5 99.3h1.0M192.8 101.8h1.0M181.9 95.5h1.0M199.0 37.8h1.0M183.9 77.1h1.0M192.1 59.4h1.0M198.0 70.2h1.0M212.5 46.5h1.0M212.7 104.1h1.0M207.8 62.5h1.0M195.9 80.0h1.0M176.6 89.5h1.0M196.8 86.0h1.0M195.3 82.4h1.0M198.3 67.9h1.0M192.1 78.9h1.0M192.2 71.0h1.0M212.9 34.0h1.0M179.5 93.0h1.0M200.5 63.7h1.0M220.0 65.6h1.0M188.3 67.5h1.0M184.9 49.9h1.0M196.8 53.1h1.0M195.0 42.5h1.0M204.4 83.4h1.0M221.5 96.2h1.0M198.4 76.3h1.0M209.0 54.3h1.0M191.3 98.5h1.0M192.7 69.2h1.0M204.9 46.2h1.0M189.9 41.0h1.0M219.1 78.2h1.0M194.0 100.9h1.0M197.8 68.0h1.0M184.0 63.5h1.0M193.5 70.0h1.0M184.7 59.6h1.0M192.7 65.1h1.0M172.5 79.5h1.0M200.1 61.9h1.0M227.6 91.7h1.0M171.0 57.3h1.0M227.5 87.7h1.0M198.4 81.1h1.0M214.2 67.9h1.0M184.5 69.5h1.0M232.1 69.0h1.0M183.4 104.4h1.0M199.1 60.3h1.0M224.7 96.3h1.0M180.3 93.1h1.0M163.6 68.8h1.0M199.1 104.0h1.0M185.0 79.3h1.0M185.9 77.2h1.0M177.2 75.2h1.0M203.5 38.8h1.0M237.1 49.3h1.0M242.4 45.4h1.0M240.3 101.4h1.0M215.5 94.4h1.0M201.3 45.5h1.0M231.5 74.7h1.0M238.7 73.5h1.0M247.1 64.7h1.0M210.7 88.2h1.0M247.6 58.2h1.0M200.6 91.3h1.0M203.1 46.6h1.0M220.5 56.1h1.0M191.7 78.2h1.0M209.8 43.1h1.0M204.4 64.4h1.0M194.2 83.3h1.0M188.1 64.7h1.0M204.8 98.3h1.0M192.8 41.2h1.0M205.5 101.2h1.0M215.1 95.4h1.0M187.7 89.6h1.0M229.9 102.4h1.0M196.6 43.6h1.0M246.4 99.5h1.0M217.4 97.3h1.0M236.8 75.3h1.0M214.4 37.7h1.0M227.5 86.8h1.0M222.0 87.5h1.0M215.3 52.0h1.0M244.8 41.5h1.0M202.0 50.0h1.0M223.4 67.5h1.0M221.0 67.8h1.0M223.5 43.2h1.0M208.3 73.2h1.0M223.3 65.8h1.0M188.3 83.6h1.0M216.6 101.5h1.0M206.6 82.3h1.0M187.7 82.6h1.0M189.2 77.8h1.0M225.0 84.5h1.0M216.5 68.9h1.0M192.5 53.1h1.0M235.8 101.0h1.0M206.1 72.6h1.0M202.9 55.2h1.0M235.0 92.8h1.0M223.9 95.1h1.0M185.3 97.7h1.0M191.5 37.5h1.0M192.3 53.2h1.0M219.1 40.0h1.0M242.5 65.7h1.0M246.9 84.4h1.0M201.2 49.8h1.0M236.5 75.1h1.0M190.9 54.3h1.0M192.8 76.3h1.0M241.2 61.0h1.0M186.7 99.8h1.0M237.3 38.3h1.0M202.7 62.0h1.0M247.0 38.2h1.0M247.7 78.3h1.0M210.2 63.6h1.0M174.9 47.8h1.0M165.1 66.1h1.0M165.7 66.8h1.0M166.2 61.9h1.0M157.0 56.5h1.0M168.9 65.8h1.0M173.4 60.9h1.0M161.7 68.7h1.0M179.3 55.7h1.0M174.7 46.3h1.0M164.4 56.9h1.0M168.9 40.8h1.0M180.7 63.2h1.0M162.2 71.4h1.0M172.4 53.9h1.0M180.8 69.1h1.0M161.3 61.4h1.0M181.8 68.1h1.0M162.4 58.1h1.0M192.8 57.7h1.0M166.6 59.7h1.0M180.8 62.2h1.0M169.8 62.2h1.0M177.6 64.0h1.0M165.9 68.5h1.0M173.0 62.7h1.0M172.1 71.6h1.0M172.7 62.0h1.0M178.3 69.9h1.0M168.4 73.8h1.0M169.3 76.4h1.0M161.4 54.0h1.0M170.8 76.3h1.0M168.0 55.3h1.0M179.0 74.5h1.0M177.3 65.9h1.0M166.1 68.1h1.0M175.5 60.3h1.0M182.5 71.6h1.0M170.3 70.1h1.0M162.5 62.6h1.0M191.7 62.2h1.0M176.4 71.1h1.0M177.6 72.2h1.0M192.0 70.6h1.0M165.5 63.7h1.0M174.4 66.0h1.0M157.5 71.6h1.0M175.9 71.0h1.0M175.1 72.7h1.0M165.7 66.8h1.0M165.1 61.7h1.0M170.5 67.7h1.0M170.1 68.7h1.0M184.6 62.8h1.0M170.0 68.7h1.0M170.7 60.9h1.0M170.5 67.5h1.0M159.1 62.3h1.0M168.0 78.7h1.0M161.1 73.1h1.0M173.0 67.5h1.0M157.5 58.1h1.0M162.9 58.6h1.0M174.0 70.2h1.0M157.1 65.1h1.0M159.5 67.8h1.0M179.9 56.5h1.0M161.3 56.9h1.0M171.9 66.7h1.0M174.4 64.7h1.0M163.4 58.0h1.0M158.4 61.2h1.0M184.2 70.7h1.0M167.5 63.4h1.0" stroke="#000" stroke-width="1.0" stroke-opacity="0.4" fill="none"/>
<line x1="76.5" y1="32.9" x2="76.5" y2="104.4" stroke="#777" stroke-width="0.8"/>
<line x1="48" y1="74.5" x2="140.4" y2="74.5" stroke="#777" stroke-width="0.8"/>
<rect x="48" y="32.9" width="92.4" height="71.5" fill="none" stroke="#555" stroke-width="1.3"/>
<line x1="184.7" y1="34" x2="184.7" y2="105.3" stroke="#777" stroke-width="0.8"/>
<line x1="156.5" y1="74.9" x2="249.5" y2="74.9" stroke="#777" stroke-width="0.8"/>
<rect x="156.5" y="34" width="93.0" height="71.3" fill="none" stroke="#555" stroke-width="1.3"/>
<text x="75.2" y="27.7" font-size="14.5" text-anchor="start" font-weight="normal" font-family='"Liberation Serif", serif' fill="#111" >Lyn</text>
<text x="96.6" y="24.2" font-size="13.2" text-anchor="start" font-weight="normal" font-family='"Liberation Serif", serif' fill="#111" >+/+</text>
<text x="187.6" y="27.7" font-size="14.5" text-anchor="start" font-weight="normal" font-family='"Liberation Serif", serif' fill="#111" >Lyn</text>
<text x="209.4" y="23.8" font-size="12.5" text-anchor="start" font-weight="normal" font-family='"Liberation Serif", serif' fill="#111" >-/-</text>
<text x="39" y="68.2" font-size="15.5" text-anchor="middle" font-weight="normal" font-family='"Liberation Serif", serif' fill="#111" transform="rotate(-90 39 68.2)">CD71</text>
<text x="33.2" y="36.1" font-size="9.5" text-anchor="start" font-weight="normal" font-family='"Liberation Serif", serif' fill="#222" >10</text>
<text x="42.510000000000005" y="32.5" font-size="8" text-anchor="start" font-weight="normal" font-family='"Liberation Serif", serif' fill="#222" >4</text>
<text x="33.4" y="108.8" font-size="9.5" text-anchor="start" font-weight="normal" font-family='"Liberation Serif", serif' fill="#222" >10</text>
<text x="42.71" y="105.2" font-size="8" text-anchor="start" font-weight="normal" font-family='"Liberation Serif", serif' fill="#222" >0</text>
<text x="37.6" y="116.9" font-size="9.5" text-anchor="start" font-weight="normal" font-family='"Liberation Serif", serif' fill="#222" >10</text>
<text x="46.910000000000004" y="113.30000000000001" font-size="8" text-anchor="start" font-weight="normal" font-family='"Liberation Serif", serif' fill="#222" >0</text>
<text x="128.8" y="116.9" font-size="9.5" text-anchor="start" font-weight="normal" font-family='"Liberation Serif", serif' fill="#222" >10</text>
<text x="138.11" y="113.30000000000001" font-size="8" text-anchor="start" font-weight="normal" font-family='"Liberation Serif", serif' fill="#222" >4</text>
<text x="142.4" y="36.3" font-size="9.5" text-anchor="start" font-weight="normal" font-family='"Liberation Serif", serif' fill="#222" >10</text>
<text x="151.71" y="32.699999999999996" font-size="8" text-anchor="start" font-weight="normal" font-family='"Liberation Serif", serif' fill="#222" >4</text>
<text x="142.8" y="108.7" font-size="9.5" text-anchor="start" font-weight="normal" font-family='"Liberation Serif", serif' fill="#222" >10</text>
<text x="152.11" y="105.10000000000001" font-size="8" text-anchor="start" font-weight="normal" font-family='"Liberation Serif", serif' fill="#222" >0</text>
<text x="150" y="117.2" font-size="9.5" text-anchor="start" font-weight="normal" font-family='"Liberation Serif", serif' fill="#222" >10</text>
<text x="159.31" y="113.60000000000001" font-size="8" text-anchor="start" font-weight="normal" font-family='"Liberation Serif", serif' fill="#222" >0</text>
<text x="241" y="117" font-size="9.5" text-anchor="start" font-weight="normal" font-family='"Liberation Serif", serif' fill="#222" >10</text>
<text x="250.31" y="113.4" font-size="8" text-anchor="start" font-weight="normal" font-family='"Liberation Serif", serif' fill="#222" >4</text>
<text x="71.5" y="126.9" font-size="14.2" text-anchor="start" font-weight="normal" font-family='"Liberation Serif", serif' fill="#111" >Ter119</text>
<line x1="120.8" y1="122.7" x2="206" y2="122.7" stroke="#111" stroke-width="1.2"/>
<path d="M205.5 119.9L212 122.7L205.5 125.5Z" fill="#111"/>
<text x="138.5" y="43.8" font-size="10.5" text-anchor="end" font-weight="bold" font-family='"Liberation Serif", serif' fill="#000" >3.7+2.8</text>
<line x1="120.2" y1="45.099999999999994" x2="124.60000000000001" y2="45.099999999999994" stroke="#777" stroke-width="0.9"/>
<text x="138.5" y="83.5" font-size="10.5" text-anchor="end" font-weight="bold" font-family='"Liberation Serif", serif' fill="#000" >7.2+1.8</text>
<line x1="120.2" y1="84.8" x2="124.60000000000001" y2="84.8" stroke="#777" stroke-width="0.9"/>
<text x="246.5" y="43.6" font-size="10.5" text-anchor="end" font-weight="bold" font-family='"Liberation Serif", serif' fill="#000" >20.9+6.1</text>
<line x1="228.20000000000002" y1="44.9" x2="232.6" y2="44.9" stroke="#777" stroke-width="0.9"/>
<text x="246.5" y="83.6" font-size="10.5" text-anchor="end" font-weight="bold" font-family='"Liberation Serif", serif' fill="#000" >9.1+2.4</text>
<line x1="228.20000000000002" y1="84.89999999999999" x2="232.6" y2="84.89999999999999" stroke="#777" stroke-width="0.9"/>
<text x="125.4" y="155.5" font-size="15" text-anchor="start" font-weight="normal" font-family='"Liberation Serif", serif' fill="#111" >Spleen</text>
<path d="M52.5 156.5V152.7H117.7M173 152.7H241.5V156.6" fill="none" stroke="#222" stroke-width="1.2"/>
<text x="62.5" y="171.3" font-size="13" text-anchor="start" font-weight="normal" font-family='"Liberation Serif", serif' fill="#111" >8 weeks old</text>
<text x="162.4" y="171.8" font-size="13" text-anchor="start" font-weight="normal" font-family='"Liberation Serif", serif' fill="#111" >16 weeks old</text>
<rect x="47" y="177" width="98" height="84.5" fill="none" stroke="#555" stroke-width="1"/>
<rect x="151" y="177" width="98" height="84.5" fill="none" stroke="#555" stroke-width="1"/>
<line x1="47" y1="177" x2="47" y2="261.5" stroke="#333" stroke-width="1.3"/>
<line x1="44" y1="261.5" x2="47" y2="261.5" stroke="#333" stroke-width="1"/>
<text x="42.4" y="265.1" font-size="10.5" text-anchor="end" font-weight="normal" font-family='"Liberation Serif", serif' fill="#222" >0</text>
<line x1="44" y1="245.25" x2="47" y2="245.25" stroke="#333" stroke-width="1"/>
<text x="42.4" y="248.85" font-size="10.5" text-anchor="end" font-weight="normal" font-family='"Liberation Serif", serif' fill="#222" >10</text>
<line x1="44" y1="229.0" x2="47" y2="229.0" stroke="#333" stroke-width="1"/>
<text x="42.4" y="232.6" font-size="10.5" text-anchor="end" font-weight="normal" font-family='"Liberation Serif", serif' fill="#222" >20</text>
<line x1="44" y1="212.75" x2="47" y2="212.75" stroke="#333" stroke-width="1"/>
<text x="42.4" y="216.35" font-size="10.5" text-anchor="end" font-weight="normal" font-family='"Liberation Serif", serif' fill="#222" >30</text>
<line x1="44" y1="196.5" x2="47" y2="196.5" stroke="#333" stroke-width="1"/>
<text x="42.4" y="200.1" font-size="10.5" text-anchor="end" font-weight="normal" font-family='"Liberation Serif", serif' fill="#222" >40</text>
<line x1="44" y1="180.25" x2="47" y2="180.25" stroke="#333" stroke-width="1"/>
<text x="42.4" y="183.85" font-size="10.5" text-anchor="end" font-weight="normal" font-family='"Liberation Serif", serif' fill="#222" >50</text>
<line x1="45.2" y1="253.375" x2="47" y2="253.375" stroke="#555" stroke-width="0.8"/>
<line x1="45.2" y1="237.125" x2="47" y2="237.125" stroke="#555" stroke-width="0.8"/>
<line x1="45.2" y1="220.875" x2="47" y2="220.875" stroke="#555" stroke-width="0.8"/>
<line x1="45.2" y1="204.625" x2="47" y2="204.625" stroke="#555" stroke-width="0.8"/>
<line x1="45.2" y1="188.375" x2="47" y2="188.375" stroke="#555" stroke-width="0.8"/>
<line x1="95.4" y1="261.5" x2="95.4" y2="264.0" stroke="#555" stroke-width="0.8"/>
<line x1="200.7" y1="261.5" x2="200.7" y2="264.0" stroke="#555" stroke-width="0.8"/>
<line x1="61.0" y1="252.5625" x2="61.0" y2="251.2625" stroke="#444" stroke-width="1"/>
<line x1="56.59" y1="251.2625" x2="65.41" y2="251.2625" stroke="#444" stroke-width="1.1"/>
<rect x="51.2" y="252.5625" width="19.599999999999994" height="8.9375" fill="#fff" stroke="#333" stroke-width="1"/>
<line x1="82.25" y1="241.025" x2="82.25" y2="236.8" stroke="#444" stroke-width="1"/>
<line x1="77.8625" y1="236.8" x2="86.6375" y2="236.8" stroke="#444" stroke-width="1.1"/>
<rect x="72.5" y="241.025" width="19.5" height="20.474999999999994" fill="#141414" stroke="#333" stroke-width="1"/>
<line x1="109.4" y1="249.6375" x2="109.4" y2="246.55" stroke="#444" stroke-width="1"/>
<line x1="104.94500000000001" y1="246.55" x2="113.855" y2="246.55" stroke="#444" stroke-width="1.1"/>
<rect x="99.5" y="249.6375" width="19.799999999999997" height="11.862500000000011" fill="#fff" stroke="#333" stroke-width="1"/>
<line x1="130.4" y1="252.075" x2="130.4" y2="249.3125" stroke="#444" stroke-width="1"/>
<line x1="126.08" y1="249.3125" x2="134.72" y2="249.3125" stroke="#444" stroke-width="1.1"/>
<rect x="120.8" y="252.075" width="19.200000000000003" height="9.425000000000011" fill="#141414" stroke="#333" stroke-width="1"/>
<line x1="166.75" y1="253.375" x2="166.75" y2="251.75" stroke="#444" stroke-width="1"/>
<line x1="162.4075" y1="251.75" x2="171.0925" y2="251.75" stroke="#444" stroke-width="1.1"/>
<rect x="157.1" y="253.375" width="19.30000000000001" height="8.125" fill="#fff" stroke="#333" stroke-width="1"/>
<line x1="187.75" y1="203.8125" x2="187.75" y2="190.0" stroke="#444" stroke-width="1"/>
<line x1="183.4075" y1="190.0" x2="192.0925" y2="190.0" stroke="#444" stroke-width="1.1"/>
<rect x="178.1" y="203.8125" width="19.30000000000001" height="57.6875" fill="#141414" stroke="#333" stroke-width="1"/>
<line x1="214.9" y1="255.325" x2="214.9" y2="254.1875" stroke="#444" stroke-width="1"/>
<line x1="210.58" y1="254.1875" x2="219.22" y2="254.1875" stroke="#444" stroke-width="1.1"/>
<rect x="205.3" y="255.325" width="19.19999999999999" height="6.175000000000011" fill="#fff" stroke="#333" stroke-width="1"/>
<line x1="235.9" y1="242.325" x2="235.9" y2="238.75" stroke="#444" stroke-width="1"/>
<line x1="231.58" y1="238.75" x2="240.22" y2="238.75" stroke="#444" stroke-width="1.1"/>
<rect x="226.3" y="242.325" width="19.19999999999999" height="19.17500000000001" fill="#141414" stroke="#333" stroke-width="1"/>
<rect x="50.8" y="182.2" width="14.4" height="6" fill="#fff" stroke="#777" stroke-width="1.4"/>
<rect x="50.6" y="192.3" width="14.8" height="7" fill="#141414" stroke="#222" stroke-width="1"/>
<text x="65.8" y="188.6" font-size="10.5" text-anchor="start" font-weight="normal" font-family='"Liberation Serif", serif' fill="#111" >Lyn</text>
<text x="82" y="185.5" font-size="6.5" text-anchor="start" font-weight="normal" font-family='"Liberation Serif", serif' fill="#111" >+/+</text>
<text x="66.6" y="198.8" font-size="10.5" text-anchor="start" font-weight="normal" font-family='"Liberation Serif", serif' fill="#111" >Lyn</text>
<text x="82.5" y="195.5" font-size="6.5" text-anchor="start" font-weight="normal" font-family='"Liberation Serif", serif' fill="#111" >-/-</text>
<text x="70.2" y="278" font-size="13" text-anchor="middle" font-weight="normal" font-family='"Liberation Serif", serif' fill="#111" >CFU-e</text>
<text x="119" y="278" font-size="13" text-anchor="middle" font-weight="normal" font-family='"Liberation Serif", serif' fill="#111" >BFU-e</text>
<text x="177" y="278" font-size="13" text-anchor="middle" font-weight="normal" font-family='"Liberation Serif", serif' fill="#111" >CFU-e</text>
<text x="225" y="278" font-size="13" text-anchor="middle" font-weight="normal" font-family='"Liberation Serif", serif' fill="#111" >BFU-e</text>
<text x="8.8" y="217" font-size="13" text-anchor="middle" font-weight="normal" font-family='"Liberation Serif", serif' fill="#111" transform="rotate(-90 8.8 217)">Colonies per</text>
<text x="22.6" y="217.3" font-size="13" text-anchor="middle" font-family='"Liberation Serif", serif' fill="#111" transform="rotate(-90 22.6 217.3)">10<tspan font-size="9" dy="-3.5">5</tspan><tspan dy="3.5"> cells</tspan></text>
<text x="104" y="309.3" font-size="15.7" text-anchor="start" font-weight="normal" font-family='"Liberation Serif", serif' fill="#111" >Bone marrow</text>
<path d="M52.5 309.5V304.7H100M194.2 305.3H241.5V309.2" fill="none" stroke="#222" stroke-width="1.2"/>
<text x="60" y="326" font-size="13.3" text-anchor="start" font-weight="normal" font-family='"Liberation Serif", serif' fill="#111" >8 weeks old</text>
<text x="162" y="327.2" font-size="13" text-anchor="start" font-weight="normal" font-family='"Liberation Serif", serif' fill="#111" >16 weeks old</text>
<rect x="46.6" y="330.8" width="97.9" height="83.80000000000001" fill="none" stroke="#555" stroke-width="1"/>
<rect x="152" y="331.2" width="96.5" height="83.40000000000003" fill="none" stroke="#555" stroke-width="1"/>
<line x1="46.6" y1="330.8" x2="46.6" y2="414.6" stroke="#333" stroke-width="1.3"/>
<line x1="43.6" y1="414.6" x2="46.6" y2="414.6" stroke="#333" stroke-width="1"/>
<text x="42.0" y="418.20000000000005" font-size="10.5" text-anchor="end" font-weight="normal" font-family='"Liberation Serif", serif' fill="#222" >0</text>
<line x1="43.6" y1="398.54" x2="46.6" y2="398.54" stroke="#333" stroke-width="1"/>
<text x="42.0" y="402.14000000000004" font-size="10.5" text-anchor="end" font-weight="normal" font-family='"Liberation Serif", serif' fill="#222" >10</text>
<line x1="43.6" y1="382.48" x2="46.6" y2="382.48" stroke="#333" stroke-width="1"/>
<text x="42.0" y="386.08000000000004" font-size="10.5" text-anchor="end" font-weight="normal" font-family='"Liberation Serif", serif' fill="#222" >20</text>
<line x1="43.6" y1="366.42" x2="46.6" y2="366.42" stroke="#333" stroke-width="1"/>
<text x="42.0" y="370.02000000000004" font-size="10.5" text-anchor="end" font-weight="normal" font-family='"Liberation Serif", serif' fill="#222" >30</text>
<line x1="43.6" y1="350.36" x2="46.6" y2="350.36" stroke="#333" stroke-width="1"/>
<text x="42.0" y="353.96000000000004" font-size="10.5" text-anchor="end" font-weight="normal" font-family='"Liberation Serif", serif' fill="#222" >40</text>
<line x1="43.6" y1="334.3" x2="46.6" y2="334.3" stroke="#333" stroke-width="1"/>
<text x="42.0" y="337.90000000000003" font-size="10.5" text-anchor="end" font-weight="normal" font-family='"Liberation Serif", serif' fill="#222" >50</text>
<line x1="44.800000000000004" y1="406.57000000000005" x2="46.6" y2="406.57000000000005" stroke="#555" stroke-width="0.8"/>
<line x1="44.800000000000004" y1="390.51000000000005" x2="46.6" y2="390.51000000000005" stroke="#555" stroke-width="0.8"/>
<line x1="44.800000000000004" y1="374.45000000000005" x2="46.6" y2="374.45000000000005" stroke="#555" stroke-width="0.8"/>
<line x1="44.800000000000004" y1="358.39000000000004" x2="46.6" y2="358.39000000000004" stroke="#555" stroke-width="0.8"/>
<line x1="44.800000000000004" y1="342.33000000000004" x2="46.6" y2="342.33000000000004" stroke="#555" stroke-width="0.8"/>
<line x1="96" y1="414.6" x2="96" y2="417.1" stroke="#555" stroke-width="0.8"/>
<line x1="202" y1="414.6" x2="202" y2="417.1" stroke="#555" stroke-width="0.8"/>
<line x1="61.15" y1="400.949" x2="61.15" y2="399.5036" stroke="#444" stroke-width="1"/>
<line x1="56.6725" y1="399.5036" x2="65.6275" y2="399.5036" stroke="#444" stroke-width="1.1"/>
<rect x="51.2" y="400.949" width="19.89999999999999" height="13.65100000000001" fill="#fff" stroke="#333" stroke-width="1"/>
<line x1="82.25" y1="352.44780000000003" x2="82.25" y2="347.951" stroke="#444" stroke-width="1"/>
<line x1="77.9525" y1="347.951" x2="86.5475" y2="347.951" stroke="#444" stroke-width="1.1"/>
<rect x="72.7" y="352.44780000000003" width="19.099999999999994" height="62.15219999999999" fill="#141414" stroke="#333" stroke-width="1"/>
<line x1="109.25" y1="385.21020000000004" x2="109.25" y2="380.874" stroke="#444" stroke-width="1"/>
<line x1="104.7275" y1="380.874" x2="113.7725" y2="380.874" stroke="#444" stroke-width="1.1"/>
<rect x="99.2" y="385.21020000000004" width="20.099999999999994" height="29.38979999999998" fill="#fff" stroke="#333" stroke-width="1"/>
<line x1="130.4" y1="387.7798" x2="130.4" y2="384.889" stroke="#444" stroke-width="1"/>
<line x1="125.94500000000001" y1="384.889" x2="134.85500000000002" y2="384.889" stroke="#444" stroke-width="1.1"/>
<rect x="120.5" y="387.7798" width="19.80000000000001" height="26.8202" fill="#141414" stroke="#333" stroke-width="1"/>
<line x1="166.65" y1="393.72200000000004" x2="166.65" y2="388.101" stroke="#444" stroke-width="1"/>
<line x1="162.26250000000002" y1="388.101" x2="171.0375" y2="388.101" stroke="#444" stroke-width="1.1"/>
<rect x="156.9" y="393.72200000000004" width="19.5" height="20.877999999999986" fill="#fff" stroke="#333" stroke-width="1"/>
<line x1="187.65" y1="348.2722" x2="187.65" y2="337.83320000000003" stroke="#444" stroke-width="1"/>
<line x1="183.3075" y1="337.83320000000003" x2="191.9925" y2="337.83320000000003" stroke="#444" stroke-width="1.1"/>
<rect x="178" y="348.2722" width="19.30000000000001" height="66.32780000000002" fill="#141414" stroke="#333" stroke-width="1"/>
<line x1="214.75" y1="391.6342" x2="214.75" y2="386.3344" stroke="#444" stroke-width="1"/>
<line x1="210.3625" y1="386.3344" x2="219.1375" y2="386.3344" stroke="#444" stroke-width="1.1"/>
<rect x="205" y="391.6342" width="19.5" height="22.9658" fill="#fff" stroke="#333" stroke-width="1"/>
<line x1="236.05" y1="383.6042" x2="236.05" y2="380.71340000000004" stroke="#444" stroke-width="1"/>
<line x1="231.7075" y1="380.71340000000004" x2="240.3925" y2="380.71340000000004" stroke="#444" stroke-width="1.1"/>
<rect x="226.4" y="383.6042" width="19.299999999999983" height="30.99580000000003" fill="#141414" stroke="#333" stroke-width="1"/>
<rect x="103.4" y="333.8" width="13.8" height="6.2" fill="#fff" stroke="#444" stroke-width="1"/>
<rect x="103.4" y="343.9" width="13.8" height="6.1" fill="#141414" stroke="#222" stroke-width="1"/>
<text x="118.2" y="340.5" font-size="9.5" text-anchor="start" font-weight="normal" font-family='"Liberation Serif", serif' fill="#111" >Lyn</text>
<text x="132.5" y="337" font-size="6.5" text-anchor="start" font-weight="normal" font-family='"Liberation Serif", serif' fill="#111" >+/+</text>
<text x="118.2" y="350.5" font-size="9.5" text-anchor="start" font-weight="normal" font-family='"Liberation Serif", serif' fill="#111" >Lyn</text>
<text x="132.5" y="347" font-size="6.5" text-anchor="start" font-weight="normal" font-family='"Liberation Serif", serif' fill="#111" >-/-</text>
<text x="70.2" y="428.6" font-size="13" text-anchor="middle" font-weight="normal" font-family='"Liberation Serif", serif' fill="#111" >CFU-e</text>
<text x="119" y="428.6" font-size="13" text-anchor="middle" font-weight="normal" font-family='"Liberation Serif", serif' fill="#111" >BFU-e</text>
<text x="177.6" y="428.6" font-size="13" text-anchor="middle" font-weight="normal" font-family='"Liberation Serif", serif' fill="#111" >CFU-e</text>
<text x="226" y="428.6" font-size="13" text-anchor="middle" font-weight="normal" font-family='"Liberation Serif", serif' fill="#111" >BFU-e</text>
<text x="9.3" y="373" font-size="13.3" text-anchor="middle" font-weight="normal" font-family='"Liberation Serif", serif' fill="#111" transform="rotate(-90 9.3 373)">Colonies per</text>
<text x="22.5" y="372.8" font-size="13.3" text-anchor="middle" font-family='"Liberation Serif", serif' fill="#111" transform="rotate(-90 22.5 372.8)">2 x 10<tspan font-size="10" dy="-1.5">4</tspan><tspan dy="1.5"> cells</tspan></text>
<text x="357.6" y="25" font-size="15.5" text-anchor="start" font-weight="normal" font-family='"Liberation Serif", serif' fill="#111" >Day 14 Fetal Liver</text>
<path d="M319 31.5H514.5V132" fill="none" stroke="#555" stroke-width="1"/>
<line x1="319" y1="31.5" x2="319" y2="132" stroke="#333" stroke-width="1"/>
<line x1="319" y1="132" x2="514.5" y2="132" stroke="#333" stroke-width="1"/>
<line x1="319" y1="31.5" x2="319" y2="132" stroke="#333" stroke-width="1.3"/>
<line x1="317" y1="132.0" x2="319" y2="132.0" stroke="#333" stroke-width="1"/>
<text x="315.8" y="135.6" font-size="10.5" text-anchor="end" font-weight="normal" font-family='"Liberation Serif", serif' fill="#222" >0</text>
<line x1="317" y1="109.5" x2="319" y2="109.5" stroke="#333" stroke-width="1"/>
<text x="315.8" y="113.1" font-size="10.5" text-anchor="end" font-weight="normal" font-family='"Liberation Serif", serif' fill="#222" >100</text>
<line x1="317" y1="87.0" x2="319" y2="87.0" stroke="#333" stroke-width="1"/>
<text x="315.8" y="90.6" font-size="10.5" text-anchor="end" font-weight="normal" font-family='"Liberation Serif", serif' fill="#222" >200</text>
<line x1="317" y1="64.5" x2="319" y2="64.5" stroke="#333" stroke-width="1"/>
<text x="315.8" y="68.1" font-size="10.5" text-anchor="end" font-weight="normal" font-family='"Liberation Serif", serif' fill="#222" >300</text>
<line x1="317" y1="42.0" x2="319" y2="42.0" stroke="#333" stroke-width="1"/>
<text x="315.8" y="45.6" font-size="10.5" text-anchor="end" font-weight="normal" font-family='"Liberation Serif", serif' fill="#222" >400</text>
<line x1="317.2" y1="120.75" x2="319" y2="120.75" stroke="#555" stroke-width="0.8"/>
<line x1="317.2" y1="98.25" x2="319" y2="98.25" stroke="#555" stroke-width="0.8"/>
<line x1="317.2" y1="75.75" x2="319" y2="75.75" stroke="#555" stroke-width="0.8"/>
<line x1="317.2" y1="53.25" x2="319" y2="53.25" stroke="#555" stroke-width="0.8"/>
<line x1="348.75" y1="132" x2="348.75" y2="134" stroke="#555" stroke-width="0.8"/>
<line x1="384.5" y1="132" x2="384.5" y2="134" stroke="#555" stroke-width="0.8"/>
<line x1="416.6" y1="132" x2="416.6" y2="134" stroke="#555" stroke-width="0.8"/>
<line x1="449" y1="132" x2="449" y2="134" stroke="#555" stroke-width="0.8"/>
<line x1="482" y1="132" x2="482" y2="134" stroke="#555" stroke-width="0.8"/>
<line x1="335.55" y1="66.3" x2="335.55" y2="59.4" stroke="#444" stroke-width="1"/>
<line x1="334.05" y1="59.4" x2="337.05" y2="59.4" stroke="#444" stroke-width="1.1"/>
<rect x="323.3" y="66.3" width="24.5" height="65.7" fill="#fff" stroke="#333" stroke-width="1"/>
<line x1="367.95" y1="50.4" x2="367.95" y2="39.5" stroke="#444" stroke-width="1"/>
<line x1="366.45" y1="39.5" x2="369.45" y2="39.5" stroke="#444" stroke-width="1.1"/>
<rect x="355.5" y="50.4" width="24.899999999999977" height="81.6" fill="#a0a0a0" stroke="#333" stroke-width="1"/>
<line x1="400.55" y1="58.4" x2="400.55" y2="47.3" stroke="#444" stroke-width="1"/>
<line x1="399.05" y1="47.3" x2="402.05" y2="47.3" stroke="#444" stroke-width="1.1"/>
<rect x="388.3" y="58.4" width="24.5" height="73.6" fill="#161616" stroke="#333" stroke-width="1"/>
<rect x="420.3" y="130.2" width="24.69999999999999" height="1.8000000000000114" fill="#fff" stroke="#333" stroke-width="1"/>
<rect x="452.6" y="129.525" width="25.899999999999977" height="2.4749999999999943" fill="#a0a0a0" stroke="#333" stroke-width="1"/>
<rect x="485.4" y="129.975" width="25.400000000000034" height="2.0250000000000057" fill="#161616" stroke="#333" stroke-width="1"/>
<rect x="461.5" y="38.7" width="18.3" height="9.5" fill="#fff" stroke="#444" stroke-width="1"/>
<rect x="461.5" y="51.2" width="18.3" height="9.1" fill="#a0a0a0" stroke="#444" stroke-width="1"/>
<rect x="461.5" y="63.8" width="18.3" height="8.6" fill="#161616" stroke="#222" stroke-width="1"/>
<text x="482.8" y="48" font-size="11.5" text-anchor="start" font-weight="normal" font-family='"Liberation Serif", serif' fill="#111" >Lyn</text>
<text x="501" y="43.5" font-size="7.5" text-anchor="start" font-weight="normal" font-family='"Liberation Serif", serif' fill="#111" >+/+</text>
<text x="482.8" y="60.2" font-size="11.5" text-anchor="start" font-weight="normal" font-family='"Liberation Serif", serif' fill="#111" >Lyn</text>
<text x="501" y="55.7" font-size="7.5" text-anchor="start" font-weight="normal" font-family='"Liberation Serif", serif' fill="#111" >+/-</text>
<text x="482.8" y="72" font-size="11.5" text-anchor="start" font-weight="normal" font-family='"Liberation Serif", serif' fill="#111" >Lyn</text>
<text x="501" y="67.5" font-size="7.5" text-anchor="start" font-weight="normal" font-family='"Liberation Serif", serif' fill="#111" >-/-</text>
<path d="M330.5 145.5V148H346.3M391.3 148H405.5V145.5M427.2 145.5V148H443.8M488.2 148H503.8V145.5" fill="none" stroke="#222" stroke-width="1"/>
<text x="368.7" y="150.8" font-size="13" text-anchor="middle" font-weight="normal" font-family='"Liberation Serif", serif' fill="#111" >CFU-e</text>
<text x="465.7" y="151.2" font-size="13" text-anchor="middle" font-weight="normal" font-family='"Liberation Serif", serif' fill="#111" >BFU-e</text>
<text x="279.3" y="82" font-size="13" text-anchor="middle" font-weight="normal" font-family='"Liberation Serif", serif' fill="#111" transform="rotate(-90 279.3 82)">Colonies per</text>
<text x="291.8" y="82.5" font-size="13" text-anchor="middle" font-family='"Liberation Serif", serif' fill="#111" transform="rotate(-90 291.8 82.5)">2 x 10<tspan font-size="9" dy="-4">4</tspan><tspan dy="4"> cells</tspan></text>
<text x="313.4" y="186.9" font-size="15.5" text-anchor="start" font-weight="normal" font-family='"Liberation Serif", serif' fill="#111" >E14 Fetal Liver</text>
<text x="436.5" y="186.5" font-size="15.5" text-anchor="start" font-weight="normal" font-family='"Liberation Serif", serif' fill="#111" >8-10wk BM</text>
<rect x="317.5" y="195" width="89.6" height="125" fill="none" stroke="#555" stroke-width="1"/>
<line x1="317.5" y1="195" x2="317.5" y2="320" stroke="#333" stroke-width="1.3"/>
<line x1="317.5" y1="320.0" x2="319.0" y2="320.0" stroke="#444" stroke-width="1"/>
<text x="312.3" y="323.6" font-size="11" text-anchor="end" font-weight="normal" font-family='"Liberation Serif", serif' fill="#222" >0</text>
<line x1="317.5" y1="300.05" x2="319.0" y2="300.05" stroke="#444" stroke-width="1"/>
<text x="312.3" y="303.65000000000003" font-size="11" text-anchor="end" font-weight="normal" font-family='"Liberation Serif", serif' fill="#222" >10</text>
<line x1="317.5" y1="280.1" x2="319.0" y2="280.1" stroke="#444" stroke-width="1"/>
<text x="312.3" y="283.70000000000005" font-size="11" text-anchor="end" font-weight="normal" font-family='"Liberation Serif", serif' fill="#222" >20</text>
<line x1="317.5" y1="260.15" x2="319.0" y2="260.15" stroke="#444" stroke-width="1"/>
<text x="312.3" y="263.75" font-size="11" text-anchor="end" font-weight="normal" font-family='"Liberation Serif", serif' fill="#222" >30</text>
<line x1="317.5" y1="240.2" x2="319.0" y2="240.2" stroke="#444" stroke-width="1"/>
<text x="312.3" y="243.79999999999998" font-size="11" text-anchor="end" font-weight="normal" font-family='"Liberation Serif", serif' fill="#222" >40</text>
<line x1="317.5" y1="220.25" x2="319.0" y2="220.25" stroke="#444" stroke-width="1"/>
<text x="312.3" y="223.85" font-size="11" text-anchor="end" font-weight="normal" font-family='"Liberation Serif", serif' fill="#222" >50</text>
<line x1="317.5" y1="200.3" x2="319.0" y2="200.3" stroke="#444" stroke-width="1"/>
<text x="312.3" y="203.9" font-size="11" text-anchor="end" font-weight="normal" font-family='"Liberation Serif", serif' fill="#222" >60</text>
<line x1="317.5" y1="310.025" x2="318.7" y2="310.025" stroke="#555" stroke-width="0.8"/>
<line x1="317.5" y1="290.075" x2="318.7" y2="290.075" stroke="#555" stroke-width="0.8"/>
<line x1="317.5" y1="270.125" x2="318.7" y2="270.125" stroke="#555" stroke-width="0.8"/>
<line x1="317.5" y1="250.175" x2="318.7" y2="250.175" stroke="#555" stroke-width="0.8"/>
<line x1="317.5" y1="230.225" x2="318.7" y2="230.225" stroke="#555" stroke-width="0.8"/>
<line x1="317.5" y1="210.27499999999998" x2="318.7" y2="210.27499999999998" stroke="#555" stroke-width="0.8"/>
<rect x="324.2" y="319.7" width="16.19999999999999" height="0.30000000000001137" fill="#333" stroke="#333" stroke-width="1"/>
<rect x="345" y="319.7" width="15.5" height="0.30000000000001137" fill="#333" stroke="#333" stroke-width="1"/>
<line x1="373.9" y1="256.55899999999997" x2="373.9" y2="246.7835" stroke="#444" stroke-width="1"/>
<line x1="372.9" y1="246.7835" x2="374.9" y2="246.7835" stroke="#444" stroke-width="1.1"/>
<rect x="366" y="256.55899999999997" width="15.800000000000011" height="63.44100000000003" fill="#a0a0a0" stroke="#333" stroke-width="1"/>
<line x1="394.4" y1="258.7535" x2="394.4" y2="249.5765" stroke="#444" stroke-width="1"/>
<line x1="393.4" y1="249.5765" x2="395.4" y2="249.5765" stroke="#444" stroke-width="1.1"/>
<rect x="386.6" y="258.7535" width="15.599999999999966" height="61.246500000000026" fill="#161616" stroke="#333" stroke-width="1"/>
<rect x="322.6" y="202.5" width="19.6" height="9.6" fill="#a0a0a0" stroke="#555" stroke-width="1.3"/>
<rect x="322.4" y="216" width="20" height="10.6" fill="#161616" stroke="#222" stroke-width="1"/>
<text x="345.3" y="212.3" font-size="13.5" text-anchor="start" font-weight="normal" font-family='"Liberation Serif", serif' fill="#111" >Lyn</text>
<text x="365.5" y="208.7" font-size="9" text-anchor="start" font-weight="normal" font-family='"Liberation Serif", serif' fill="#111" >+/-</text>
<text x="345.3" y="226" font-size="13.5" text-anchor="start" font-weight="normal" font-family='"Liberation Serif", serif' fill="#111" >Lyn</text>
<text x="365.5" y="222.3" font-size="9" text-anchor="start" font-weight="normal" font-family='"Liberation Serif", serif' fill="#111" >-/-</text>
<path d="M321.2 324V327.7H406.2V324M363.5 327.7V326" fill="none" stroke="#222" stroke-width="1"/>
<text x="341.5" y="340.5" font-size="12" text-anchor="middle" font-weight="normal" font-family='"Liberation Serif", serif' fill="#111" >-</text>
<text x="385.4" y="341" font-size="12" text-anchor="middle" font-weight="normal" font-family='"Liberation Serif", serif' fill="#111" >+</text>
<text x="325.3" y="356.6" font-size="13" text-anchor="start" font-weight="normal" font-family='"Liberation Serif", serif' fill="#111" >Annexin FITC</text>
<rect x="428" y="194.6" width="91" height="125.00000000000003" fill="none" stroke="#555" stroke-width="1"/>
<line x1="428" y1="194.6" x2="428" y2="319.6" stroke="#333" stroke-width="1.3"/>
<line x1="428" y1="319.6" x2="429.5" y2="319.6" stroke="#444" stroke-width="1"/>
<text x="425.4" y="323.20000000000005" font-size="11" text-anchor="end" font-weight="normal" font-family='"Liberation Serif", serif' fill="#222" >0</text>
<line x1="428" y1="294.8" x2="429.5" y2="294.8" stroke="#444" stroke-width="1"/>
<text x="425.4" y="298.40000000000003" font-size="11" text-anchor="end" font-weight="normal" font-family='"Liberation Serif", serif' fill="#222" >20</text>
<line x1="428" y1="270.0" x2="429.5" y2="270.0" stroke="#444" stroke-width="1"/>
<text x="425.4" y="273.6" font-size="11" text-anchor="end" font-weight="normal" font-family='"Liberation Serif", serif' fill="#222" >40</text>
<line x1="428" y1="245.20000000000002" x2="429.5" y2="245.20000000000002" stroke="#444" stroke-width="1"/>
<text x="425.4" y="248.8" font-size="11" text-anchor="end" font-weight="normal" font-family='"Liberation Serif", serif' fill="#222" >60</text>
<line x1="428" y1="220.40000000000003" x2="429.5" y2="220.40000000000003" stroke="#444" stroke-width="1"/>
<text x="425.4" y="224.00000000000003" font-size="11" text-anchor="end" font-weight="normal" font-family='"Liberation Serif", serif' fill="#222" >80</text>
<line x1="428" y1="195.60000000000002" x2="429.5" y2="195.60000000000002" stroke="#444" stroke-width="1"/>
<text x="425.4" y="199.20000000000002" font-size="11" text-anchor="end" font-weight="normal" font-family='"Liberation Serif", serif' fill="#222" >100</text>
<line x1="428" y1="307.20000000000005" x2="429.2" y2="307.20000000000005" stroke="#555" stroke-width="0.8"/>
<line x1="428" y1="282.40000000000003" x2="429.2" y2="282.40000000000003" stroke="#555" stroke-width="0.8"/>
<line x1="428" y1="257.6" x2="429.2" y2="257.6" stroke="#555" stroke-width="0.8"/>
<line x1="428" y1="232.8" x2="429.2" y2="232.8" stroke="#555" stroke-width="0.8"/>
<line x1="428" y1="208.00000000000003" x2="429.2" y2="208.00000000000003" stroke="#555" stroke-width="0.8"/>
<rect x="433" y="319.3" width="18.600000000000023" height="0.30000000000001137" fill="#333" stroke="#333" stroke-width="1"/>
<rect x="455.8" y="319.3" width="16.19999999999999" height="0.30000000000001137" fill="#333" stroke="#333" stroke-width="1"/>
<line x1="484.45" y1="248.92000000000002" x2="484.45" y2="244.82800000000003" stroke="#444" stroke-width="1"/>
<line x1="483.45" y1="244.82800000000003" x2="485.45" y2="244.82800000000003" stroke="#444" stroke-width="1.1"/>
<rect x="476.2" y="248.92000000000002" width="16.5" height="70.68" fill="#fff" stroke="#333" stroke-width="1"/>
<line x1="505.5" y1="258.468" x2="505.5" y2="251.40000000000003" stroke="#444" stroke-width="1"/>
<line x1="504.5" y1="251.40000000000003" x2="506.5" y2="251.40000000000003" stroke="#444" stroke-width="1.1"/>
<rect x="497.1" y="258.468" width="16.799999999999955" height="61.132000000000005" fill="#161616" stroke="#333" stroke-width="1"/>
<rect x="432.8" y="202.2" width="20.7" height="9.8" fill="#fff" stroke="#444" stroke-width="1"/>
<rect x="432.8" y="216.5" width="20.7" height="10" fill="#161616" stroke="#222" stroke-width="1"/>
<text x="456" y="212" font-size="13.5" text-anchor="start" font-weight="normal" font-family='"Liberation Serif", serif' fill="#111" >Lyn</text>
<text x="476.2" y="208.3" font-size="9" text-anchor="start" font-weight="normal" font-family='"Liberation Serif", serif' fill="#111" >+/+</text>
<text x="456" y="226.2" font-size="13.5" text-anchor="start" font-weight="normal" font-family='"Liberation Serif", serif' fill="#111" >Lyn</text>
<text x="476.2" y="222.5" font-size="9" text-anchor="start" font-weight="normal" font-family='"Liberation Serif", serif' fill="#111" >-/-</text>
<path d="M432.1 324V326.9H517.2V324M474 326.9V325" fill="none" stroke="#222" stroke-width="1"/>
<text x="452.3" y="340.5" font-size="12" text-anchor="middle" font-weight="normal" font-family='"Liberation Serif", serif' fill="#111" >-</text>
<text x="495.4" y="341" font-size="12" text-anchor="middle" font-weight="normal" font-family='"Liberation Serif", serif' fill="#111" >+</text>
<text x="435.5" y="356.6" font-size="13" text-anchor="start" font-weight="normal" font-family='"Liberation Serif", serif' fill="#111" >Annexin FITC</text>
<text x="280" y="257.6" font-size="13.5" text-anchor="middle" font-family='"Liberation Serif", serif' fill="#111" transform="rotate(-90 280 257.6)">% Annexin FITC<tspan font-size="8.5" dy="-5">pos</tspan></text>
<text x="294.3" y="256.6" font-size="13.5" text-anchor="middle" font-family='"Liberation Serif", serif' fill="#111" transform="rotate(-90 294.3 256.6)">CD71<tspan font-size="8.5" dy="-5">pos</tspan><tspan dy="5"> cells</tspan></text>
</svg>
</body></html>
